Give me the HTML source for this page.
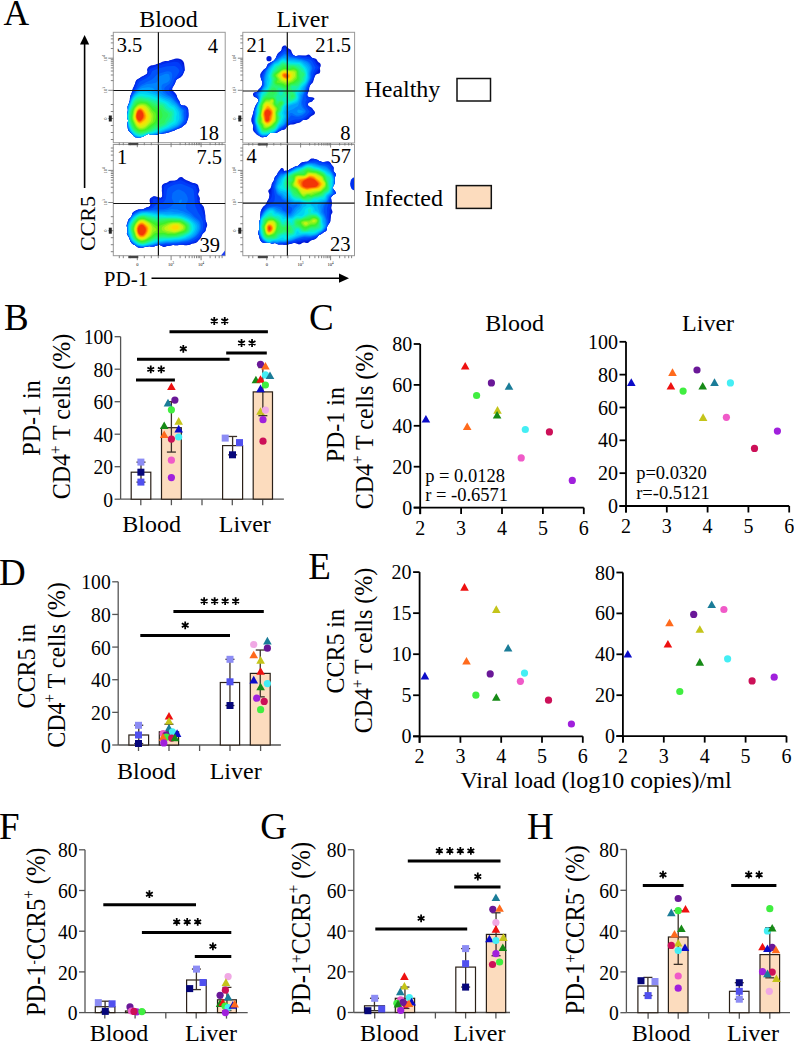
<!DOCTYPE html>
<html><head><meta charset="utf-8"><style>
html,body{margin:0;padding:0;background:#fff;width:794px;height:1045px;overflow:hidden}
svg{display:block}
text{font-family:"Liberation Serif",serif;fill:#000}
</style></head><body>
<svg width="794" height="1045" viewBox="0 0 794 1045" font-family="Liberation Serif">
<rect width="794" height="1045" fill="#fff"/>
<text x="3.4" y="24.7" font-size="35.5" text-anchor="start">A</text>
<text x="4.0" y="330.1" font-size="37" text-anchor="start">B</text>
<text x="309.0" y="330.0" font-size="37" text-anchor="start">C</text>
<text x="-1.0" y="585.2" font-size="37" text-anchor="start">D</text>
<text x="308.3" y="579.0" font-size="37" text-anchor="start">E</text>
<text x="-1.0" y="838.7" font-size="37" text-anchor="start">F</text>
<text x="260.3" y="838.8" font-size="37" text-anchor="start">G</text>
<text x="527.1" y="839.0" font-size="37" text-anchor="start">H</text>
<line x1="420.20" y1="344.00" x2="420.20" y2="514.10" stroke="#000" stroke-width="1.8"/>
<line x1="413.70" y1="507.60" x2="583.80" y2="507.60" stroke="#000" stroke-width="1.8"/>
<line x1="413.70" y1="507.60" x2="420.20" y2="507.60" stroke="#000" stroke-width="1.8"/>
<text x="412.2" y="514.6" font-size="20" text-anchor="end">0</text>
<line x1="413.70" y1="466.70" x2="420.20" y2="466.70" stroke="#000" stroke-width="1.8"/>
<text x="412.2" y="473.7" font-size="20" text-anchor="end">20</text>
<line x1="413.70" y1="425.80" x2="420.20" y2="425.80" stroke="#000" stroke-width="1.8"/>
<text x="412.2" y="432.8" font-size="20" text-anchor="end">40</text>
<line x1="413.70" y1="384.90" x2="420.20" y2="384.90" stroke="#000" stroke-width="1.8"/>
<text x="412.2" y="391.9" font-size="20" text-anchor="end">60</text>
<line x1="413.70" y1="344.00" x2="420.20" y2="344.00" stroke="#000" stroke-width="1.8"/>
<text x="412.2" y="351.0" font-size="20" text-anchor="end">80</text>
<line x1="420.20" y1="507.60" x2="420.20" y2="514.10" stroke="#000" stroke-width="1.8"/>
<text x="420.2" y="534.6" font-size="20" text-anchor="middle">2</text>
<line x1="461.10" y1="507.60" x2="461.10" y2="514.10" stroke="#000" stroke-width="1.8"/>
<text x="461.1" y="534.6" font-size="20" text-anchor="middle">3</text>
<line x1="502.00" y1="507.60" x2="502.00" y2="514.10" stroke="#000" stroke-width="1.8"/>
<text x="502.0" y="534.6" font-size="20" text-anchor="middle">4</text>
<line x1="542.90" y1="507.60" x2="542.90" y2="514.10" stroke="#000" stroke-width="1.8"/>
<text x="542.9" y="534.6" font-size="20" text-anchor="middle">5</text>
<line x1="583.80" y1="507.60" x2="583.80" y2="514.10" stroke="#000" stroke-width="1.8"/>
<text x="583.8" y="534.6" font-size="20" text-anchor="middle">6</text>
<path d="M425.9,414.9 L430.2,422.5 L421.6,422.5Z" fill="#0b0bc8"/>
<path d="M465.2,361.9 L469.5,369.5 L460.9,369.5Z" fill="#ee1010"/>
<path d="M467.2,422.5 L471.5,430.1 L462.9,430.1Z" fill="#ff6a1c"/>
<circle cx="476.6" cy="395.5" r="3.60" fill="#40ee40"/>
<circle cx="491.4" cy="382.9" r="3.60" fill="#6a1898"/>
<path d="M497.5,406.1 L501.8,413.7 L493.2,413.7Z" fill="#c4c41a"/>
<path d="M497.1,411.0 L501.4,418.6 L492.8,418.6Z" fill="#168a16"/>
<path d="M509.0,382.2 L513.3,389.8 L504.7,389.8Z" fill="#1a7c98"/>
<circle cx="525.3" cy="429.5" r="3.60" fill="#44eef4"/>
<circle cx="549.4" cy="431.9" r="3.60" fill="#cc1058"/>
<circle cx="521.2" cy="457.9" r="3.60" fill="#f05ac8"/>
<circle cx="572.3" cy="480.4" r="3.60" fill="#a020dc"/>
<text x="514.7" y="330.8" font-size="24" text-anchor="middle">Blood</text>
<text x="425.2" y="482.4" font-size="18.5" text-anchor="start">p = 0.0128</text>
<text x="425.2" y="501.3" font-size="18.5" text-anchor="start">r = -0.6571</text>
<line x1="626.00" y1="341.80" x2="626.00" y2="512.50" stroke="#000" stroke-width="1.8"/>
<line x1="619.50" y1="506.00" x2="789.20" y2="506.00" stroke="#000" stroke-width="1.8"/>
<line x1="619.50" y1="506.00" x2="626.00" y2="506.00" stroke="#000" stroke-width="1.8"/>
<text x="618.0" y="513.0" font-size="20" text-anchor="end">0</text>
<line x1="619.50" y1="473.16" x2="626.00" y2="473.16" stroke="#000" stroke-width="1.8"/>
<text x="618.0" y="480.2" font-size="20" text-anchor="end">20</text>
<line x1="619.50" y1="440.32" x2="626.00" y2="440.32" stroke="#000" stroke-width="1.8"/>
<text x="618.0" y="447.3" font-size="20" text-anchor="end">40</text>
<line x1="619.50" y1="407.48" x2="626.00" y2="407.48" stroke="#000" stroke-width="1.8"/>
<text x="618.0" y="414.5" font-size="20" text-anchor="end">60</text>
<line x1="619.50" y1="374.64" x2="626.00" y2="374.64" stroke="#000" stroke-width="1.8"/>
<text x="618.0" y="381.6" font-size="20" text-anchor="end">80</text>
<line x1="619.50" y1="341.80" x2="626.00" y2="341.80" stroke="#000" stroke-width="1.8"/>
<text x="618.0" y="348.8" font-size="20" text-anchor="end">100</text>
<line x1="626.00" y1="506.00" x2="626.00" y2="512.50" stroke="#000" stroke-width="1.8"/>
<text x="626.0" y="533.0" font-size="20" text-anchor="middle">2</text>
<line x1="666.80" y1="506.00" x2="666.80" y2="512.50" stroke="#000" stroke-width="1.8"/>
<text x="666.8" y="533.0" font-size="20" text-anchor="middle">3</text>
<line x1="707.60" y1="506.00" x2="707.60" y2="512.50" stroke="#000" stroke-width="1.8"/>
<text x="707.6" y="533.0" font-size="20" text-anchor="middle">4</text>
<line x1="748.40" y1="506.00" x2="748.40" y2="512.50" stroke="#000" stroke-width="1.8"/>
<text x="748.4" y="533.0" font-size="20" text-anchor="middle">5</text>
<line x1="789.20" y1="506.00" x2="789.20" y2="512.50" stroke="#000" stroke-width="1.8"/>
<text x="789.2" y="533.0" font-size="20" text-anchor="middle">6</text>
<path d="M631.3,378.3 L635.6,385.9 L627.0,385.9Z" fill="#0b0bc8"/>
<path d="M672.5,368.3 L676.8,375.9 L668.2,375.9Z" fill="#ff6a1c"/>
<path d="M670.9,381.9 L675.2,389.5 L666.6,389.5Z" fill="#ee1010"/>
<circle cx="683.1" cy="391.1" r="3.60" fill="#40ee40"/>
<circle cx="697.0" cy="370.0" r="3.60" fill="#6a1898"/>
<path d="M702.7,381.9 L707.0,389.5 L698.4,389.5Z" fill="#168a16"/>
<path d="M714.5,378.3 L718.8,385.9 L710.2,385.9Z" fill="#1a7c98"/>
<circle cx="730.4" cy="382.9" r="3.60" fill="#44eef4"/>
<path d="M703.1,413.3 L707.4,420.9 L698.8,420.9Z" fill="#c4c41a"/>
<circle cx="726.4" cy="417.3" r="3.60" fill="#f05ac8"/>
<circle cx="754.5" cy="448.4" r="3.60" fill="#cc1058"/>
<circle cx="777.4" cy="431.1" r="3.60" fill="#a020dc"/>
<text x="708.1" y="330.8" font-size="24" text-anchor="middle">Liver</text>
<text x="636.2" y="479.0" font-size="18.5" text-anchor="start">p=0.0320</text>
<text x="636.2" y="498.6" font-size="18.5" text-anchor="start">r=-0.5121</text>
<line x1="419.60" y1="572.10" x2="419.60" y2="742.80" stroke="#000" stroke-width="1.8"/>
<line x1="413.10" y1="736.30" x2="582.80" y2="736.30" stroke="#000" stroke-width="1.8"/>
<line x1="413.10" y1="736.30" x2="419.60" y2="736.30" stroke="#000" stroke-width="1.8"/>
<text x="411.6" y="743.3" font-size="20" text-anchor="end">0</text>
<line x1="413.10" y1="695.25" x2="419.60" y2="695.25" stroke="#000" stroke-width="1.8"/>
<text x="411.6" y="702.2" font-size="20" text-anchor="end">5</text>
<line x1="413.10" y1="654.20" x2="419.60" y2="654.20" stroke="#000" stroke-width="1.8"/>
<text x="411.6" y="661.2" font-size="20" text-anchor="end">10</text>
<line x1="413.10" y1="613.15" x2="419.60" y2="613.15" stroke="#000" stroke-width="1.8"/>
<text x="411.6" y="620.1" font-size="20" text-anchor="end">15</text>
<line x1="413.10" y1="572.10" x2="419.60" y2="572.10" stroke="#000" stroke-width="1.8"/>
<text x="411.6" y="579.1" font-size="20" text-anchor="end">20</text>
<line x1="419.60" y1="736.30" x2="419.60" y2="742.80" stroke="#000" stroke-width="1.8"/>
<text x="419.6" y="763.3" font-size="20" text-anchor="middle">2</text>
<line x1="460.40" y1="736.30" x2="460.40" y2="742.80" stroke="#000" stroke-width="1.8"/>
<text x="460.4" y="763.3" font-size="20" text-anchor="middle">3</text>
<line x1="501.20" y1="736.30" x2="501.20" y2="742.80" stroke="#000" stroke-width="1.8"/>
<text x="501.2" y="763.3" font-size="20" text-anchor="middle">4</text>
<line x1="542.00" y1="736.30" x2="542.00" y2="742.80" stroke="#000" stroke-width="1.8"/>
<text x="542.0" y="763.3" font-size="20" text-anchor="middle">5</text>
<line x1="582.80" y1="736.30" x2="582.80" y2="742.80" stroke="#000" stroke-width="1.8"/>
<text x="582.8" y="763.3" font-size="20" text-anchor="middle">6</text>
<path d="M424.9,671.8 L429.2,679.4 L420.6,679.4Z" fill="#0b0bc8"/>
<path d="M464.5,583.1 L468.8,590.7 L460.2,590.7Z" fill="#ee1010"/>
<path d="M466.5,657.0 L470.8,664.6 L462.2,664.6Z" fill="#ff6a1c"/>
<path d="M496.3,605.3 L500.6,612.9 L492.0,612.9Z" fill="#c4c41a"/>
<path d="M508.1,643.9 L512.4,651.5 L503.8,651.5Z" fill="#1a7c98"/>
<circle cx="490.2" cy="673.9" r="3.60" fill="#6a1898"/>
<circle cx="524.5" cy="673.1" r="3.60" fill="#44eef4"/>
<circle cx="520.4" cy="681.3" r="3.60" fill="#f05ac8"/>
<circle cx="475.9" cy="695.2" r="3.60" fill="#40ee40"/>
<path d="M496.3,693.2 L500.6,700.8 L492.0,700.8Z" fill="#168a16"/>
<circle cx="548.5" cy="700.2" r="3.60" fill="#cc1058"/>
<circle cx="571.4" cy="724.0" r="3.60" fill="#a020dc"/>
<line x1="622.90" y1="572.50" x2="622.90" y2="742.60" stroke="#000" stroke-width="1.8"/>
<line x1="616.40" y1="736.10" x2="786.50" y2="736.10" stroke="#000" stroke-width="1.8"/>
<line x1="616.40" y1="736.10" x2="622.90" y2="736.10" stroke="#000" stroke-width="1.8"/>
<text x="614.9" y="743.1" font-size="20" text-anchor="end">0</text>
<line x1="616.40" y1="695.20" x2="622.90" y2="695.20" stroke="#000" stroke-width="1.8"/>
<text x="614.9" y="702.2" font-size="20" text-anchor="end">20</text>
<line x1="616.40" y1="654.30" x2="622.90" y2="654.30" stroke="#000" stroke-width="1.8"/>
<text x="614.9" y="661.3" font-size="20" text-anchor="end">40</text>
<line x1="616.40" y1="613.40" x2="622.90" y2="613.40" stroke="#000" stroke-width="1.8"/>
<text x="614.9" y="620.4" font-size="20" text-anchor="end">60</text>
<line x1="616.40" y1="572.50" x2="622.90" y2="572.50" stroke="#000" stroke-width="1.8"/>
<text x="614.9" y="579.5" font-size="20" text-anchor="end">80</text>
<line x1="622.90" y1="736.10" x2="622.90" y2="742.60" stroke="#000" stroke-width="1.8"/>
<text x="622.9" y="763.1" font-size="20" text-anchor="middle">2</text>
<line x1="663.80" y1="736.10" x2="663.80" y2="742.60" stroke="#000" stroke-width="1.8"/>
<text x="663.8" y="763.1" font-size="20" text-anchor="middle">3</text>
<line x1="704.70" y1="736.10" x2="704.70" y2="742.60" stroke="#000" stroke-width="1.8"/>
<text x="704.7" y="763.1" font-size="20" text-anchor="middle">4</text>
<line x1="745.60" y1="736.10" x2="745.60" y2="742.60" stroke="#000" stroke-width="1.8"/>
<text x="745.6" y="763.1" font-size="20" text-anchor="middle">5</text>
<line x1="786.50" y1="736.10" x2="786.50" y2="742.60" stroke="#000" stroke-width="1.8"/>
<text x="786.5" y="763.1" font-size="20" text-anchor="middle">6</text>
<path d="M627.8,649.9 L632.1,657.5 L623.5,657.5Z" fill="#0b0bc8"/>
<path d="M669.5,618.7 L673.8,626.3 L665.2,626.3Z" fill="#ff6a1c"/>
<path d="M667.9,639.9 L672.2,647.5 L663.6,647.5Z" fill="#ee1010"/>
<circle cx="679.8" cy="691.5" r="3.60" fill="#40ee40"/>
<circle cx="693.7" cy="614.4" r="3.60" fill="#6a1898"/>
<path d="M699.8,625.2 L704.1,632.8 L695.5,632.8Z" fill="#c4c41a"/>
<path d="M699.8,658.1 L704.1,665.7 L695.5,665.7Z" fill="#168a16"/>
<path d="M711.7,600.5 L716.0,608.1 L707.4,608.1Z" fill="#1a7c98"/>
<circle cx="723.9" cy="609.5" r="3.60" fill="#f05ac8"/>
<circle cx="727.6" cy="658.8" r="3.60" fill="#44eef4"/>
<circle cx="752.1" cy="680.9" r="3.60" fill="#cc1058"/>
<circle cx="774.2" cy="677.2" r="3.60" fill="#a020dc"/>
<text x="596.0" y="788.3" font-size="24" text-anchor="middle">Viral load (log10 copies)/ml</text>
<text x="0" y="0" font-size="24" text-anchor="middle" transform="translate(40.20 418.00) rotate(-90) scale(1 1.06)">PD-1 in</text>
<text x="0" y="0" font-size="24" text-anchor="middle" transform="translate(70.20 416.50) rotate(-90) scale(1 1.06)">CD4<tspan font-size="15" dy="-9">+</tspan><tspan dy="9"> T cells (%)</tspan></text>
<text x="0" y="0" font-size="24" text-anchor="middle" transform="translate(344.20 424.70) rotate(-90) scale(1 1.06)">PD-1 in</text>
<text x="0" y="0" font-size="24" text-anchor="middle" transform="translate(372.80 426.50) rotate(-90) scale(1 1.06)">CD4<tspan font-size="15" dy="-9">+</tspan><tspan dy="9"> T cells (%)</tspan></text>
<text x="0" y="0" font-size="24" text-anchor="middle" transform="translate(35.40 666.30) rotate(-90) scale(1 1.06)">CCR5 in</text>
<text x="0" y="0" font-size="24" text-anchor="middle" transform="translate(64.80 665.00) rotate(-90) scale(1 1.06)">CD4<tspan font-size="15" dy="-9">+</tspan><tspan dy="9"> T cells (%)</tspan></text>
<text x="0" y="0" font-size="24" text-anchor="middle" transform="translate(344.00 651.30) rotate(-90) scale(1 1.06)">CCR5 in</text>
<text x="0" y="0" font-size="24" text-anchor="middle" transform="translate(372.40 650.50) rotate(-90) scale(1 1.06)">CD4<tspan font-size="15" dy="-9">+</tspan><tspan dy="9"> T cells (%)</tspan></text>
<text x="0" y="0" font-size="24.5" text-anchor="middle" transform="translate(44.50 931.80) rotate(-90) scale(1 1.13)">PD-1<tspan font-size="13" dy="-6">-</tspan><tspan dy="6">CCR5<tspan font-size="15" dy="-9">+</tspan><tspan dy="9"> (%)</tspan></tspan></text>
<text x="0" y="0" font-size="24.5" text-anchor="middle" transform="translate(309.50 928.30) rotate(-90) scale(1 1.13)">PD-1<tspan font-size="15" dy="-7">+</tspan><tspan dy="7">CCR5<tspan font-size="15" dy="-9">+</tspan><tspan dy="9"> (%)</tspan></tspan></text>
<text x="0" y="0" font-size="24.5" text-anchor="middle" transform="translate(583.50 929.80) rotate(-90) scale(1 1.13)">PD-1<tspan font-size="15" dy="-7">+</tspan><tspan dy="7">CCR5<tspan font-size="15" dy="-9">-</tspan><tspan dy="9"> (%)</tspan></tspan></text>
<line x1="120.60" y1="336.70" x2="120.60" y2="499.20" stroke="#555" stroke-width="1.3"/>
<line x1="114.60" y1="499.20" x2="120.60" y2="499.20" stroke="#555" stroke-width="1.3"/>
<text x="0" y="0" font-size="19.6" text-anchor="end" transform="translate(113.10 506.80) scale(1 1.1)">0</text>
<line x1="114.60" y1="466.70" x2="120.60" y2="466.70" stroke="#555" stroke-width="1.3"/>
<text x="0" y="0" font-size="19.6" text-anchor="end" transform="translate(113.10 474.30) scale(1 1.1)">20</text>
<line x1="114.60" y1="434.20" x2="120.60" y2="434.20" stroke="#555" stroke-width="1.3"/>
<text x="0" y="0" font-size="19.6" text-anchor="end" transform="translate(113.10 441.80) scale(1 1.1)">40</text>
<line x1="114.60" y1="401.70" x2="120.60" y2="401.70" stroke="#555" stroke-width="1.3"/>
<text x="0" y="0" font-size="19.6" text-anchor="end" transform="translate(113.10 409.30) scale(1 1.1)">60</text>
<line x1="114.60" y1="369.20" x2="120.60" y2="369.20" stroke="#555" stroke-width="1.3"/>
<text x="0" y="0" font-size="19.6" text-anchor="end" transform="translate(113.10 376.80) scale(1 1.1)">80</text>
<line x1="114.60" y1="336.70" x2="120.60" y2="336.70" stroke="#555" stroke-width="1.3"/>
<text x="0" y="0" font-size="19.6" text-anchor="end" transform="translate(113.10 344.30) scale(1 1.1)">100</text>
<line x1="120.60" y1="499.20" x2="283.90" y2="499.20" stroke="#555" stroke-width="1.3"/>
<line x1="140.80" y1="499.20" x2="140.80" y2="505.20" stroke="#555" stroke-width="1.3"/>
<line x1="171.40" y1="499.20" x2="171.40" y2="505.20" stroke="#555" stroke-width="1.3"/>
<line x1="202.00" y1="499.20" x2="202.00" y2="505.20" stroke="#555" stroke-width="1.3"/>
<line x1="232.30" y1="499.20" x2="232.30" y2="505.20" stroke="#555" stroke-width="1.3"/>
<line x1="262.70" y1="499.20" x2="262.70" y2="505.20" stroke="#555" stroke-width="1.3"/>
<rect x="131.2" y="472.2" width="19.6" height="27.0" fill="#ffffff" stroke="#2a2018" stroke-width="1.2"/>
<rect x="161.5" y="427.7" width="19.8" height="71.5" fill="#fcdcbe" stroke="#2a2018" stroke-width="1.2"/>
<rect x="222.6" y="445.6" width="20.0" height="53.6" fill="#ffffff" stroke="#2a2018" stroke-width="1.2"/>
<rect x="253.2" y="391.9" width="19.3" height="107.2" fill="#fcdcbe" stroke="#2a2018" stroke-width="1.2"/>
<line x1="141.00" y1="462.15" x2="141.00" y2="482.14" stroke="#3a3028" stroke-width="1.3"/>
<line x1="136.50" y1="462.15" x2="145.50" y2="462.15" stroke="#3a3028" stroke-width="1.3"/>
<line x1="136.50" y1="482.14" x2="145.50" y2="482.14" stroke="#3a3028" stroke-width="1.3"/>
<rect x="137.4" y="458.6" width="7.0" height="7.0" fill="#8c8cf4"/>
<rect x="137.4" y="468.7" width="7.0" height="7.0" fill="#06067a"/>
<rect x="137.4" y="478.6" width="7.0" height="7.0" fill="#5050ee"/>
<line x1="171.40" y1="401.70" x2="171.40" y2="452.07" stroke="#3a3028" stroke-width="1.3"/>
<line x1="166.90" y1="401.70" x2="175.90" y2="401.70" stroke="#3a3028" stroke-width="1.3"/>
<line x1="166.90" y1="452.07" x2="175.90" y2="452.07" stroke="#3a3028" stroke-width="1.3"/>
<path d="M171.4,382.5 L175.7,390.1 L167.1,390.1Z" fill="#ee1010"/>
<circle cx="174.9" cy="400.1" r="3.60" fill="#6a1898"/>
<path d="M168.0,398.8 L172.3,406.4 L163.7,406.4Z" fill="#1a7c98"/>
<circle cx="171.4" cy="409.8" r="3.60" fill="#40ee40"/>
<path d="M178.7,417.1 L183.0,424.7 L174.4,424.7Z" fill="#c4c41a"/>
<path d="M164.2,421.5 L168.5,429.1 L159.9,429.1Z" fill="#168a16"/>
<path d="M178.7,424.8 L183.0,432.4 L174.4,432.4Z" fill="#0b0bc8"/>
<path d="M164.2,430.5 L168.5,438.1 L159.9,438.1Z" fill="#ff6a1c"/>
<circle cx="178.7" cy="437.0" r="3.60" fill="#44eef4"/>
<circle cx="171.4" cy="439.1" r="3.60" fill="#cc1058"/>
<circle cx="171.4" cy="460.2" r="3.60" fill="#f05ac8"/>
<circle cx="171.4" cy="477.6" r="3.60" fill="#a020dc"/>
<line x1="232.60" y1="436.47" x2="232.60" y2="454.84" stroke="#3a3028" stroke-width="1.3"/>
<line x1="228.10" y1="436.47" x2="237.10" y2="436.47" stroke="#3a3028" stroke-width="1.3"/>
<line x1="228.10" y1="454.84" x2="237.10" y2="454.84" stroke="#3a3028" stroke-width="1.3"/>
<rect x="221.7" y="434.6" width="7.0" height="7.0" fill="#8c8cf4"/>
<rect x="236.0" y="439.1" width="7.0" height="7.0" fill="#5050ee"/>
<rect x="229.0" y="451.3" width="7.0" height="7.0" fill="#06067a"/>
<line x1="262.85" y1="367.57" x2="262.85" y2="415.68" stroke="#3a3028" stroke-width="1.3"/>
<line x1="258.35" y1="367.57" x2="267.35" y2="367.57" stroke="#3a3028" stroke-width="1.3"/>
<line x1="258.35" y1="415.68" x2="267.35" y2="415.68" stroke="#3a3028" stroke-width="1.3"/>
<circle cx="260.5" cy="364.3" r="3.60" fill="#6a1898"/>
<path d="M265.4,362.0 L269.7,369.6 L261.1,369.6Z" fill="#ff6a1c"/>
<circle cx="265.4" cy="374.9" r="3.60" fill="#44eef4"/>
<path d="M270.0,371.5 L274.3,379.1 L265.7,379.1Z" fill="#1a7c98"/>
<path d="M255.9,375.7 L260.2,383.3 L251.6,383.3Z" fill="#168a16"/>
<path d="M260.5,375.2 L264.8,382.8 L256.2,382.8Z" fill="#ee1010"/>
<circle cx="265.4" cy="385.0" r="3.60" fill="#40ee40"/>
<path d="M260.5,384.6 L264.8,392.2 L256.2,392.2Z" fill="#0b0bc8"/>
<path d="M260.5,407.2 L264.8,414.8 L256.2,414.8Z" fill="#c4c41a"/>
<circle cx="265.4" cy="410.1" r="3.60" fill="#f0a8e4"/>
<circle cx="263.0" cy="419.7" r="3.60" fill="#a020dc"/>
<circle cx="263.0" cy="441.2" r="3.60" fill="#cc1058"/>
<line x1="136.00" y1="379.90" x2="174.90" y2="379.90" stroke="#000" stroke-width="3"/>
<path d="M150.75,365.50L150.75,373.30M147.37,367.45L154.13,371.35M154.13,367.45L147.37,371.35M161.25,365.50L161.25,373.30M157.87,367.45L164.63,371.35M164.63,367.45L157.87,371.35" stroke="#000" stroke-width="1.75" fill="none"/>
<line x1="137.00" y1="359.20" x2="229.60" y2="359.20" stroke="#000" stroke-width="3"/>
<path d="M183.30,344.90L183.30,352.70M179.92,346.85L186.68,350.75M186.68,346.85L179.92,350.75" stroke="#000" stroke-width="1.75" fill="none"/>
<line x1="226.20" y1="353.00" x2="266.80" y2="353.00" stroke="#000" stroke-width="3"/>
<path d="M241.55,339.10L241.55,346.90M238.17,341.05L244.93,344.95M244.93,341.05L238.17,344.95M252.05,339.10L252.05,346.90M248.67,341.05L255.43,344.95M255.43,341.05L248.67,344.95" stroke="#000" stroke-width="1.75" fill="none"/>
<line x1="169.50" y1="331.80" x2="267.90" y2="331.80" stroke="#000" stroke-width="3"/>
<path d="M214.25,317.10L214.25,324.90M210.87,319.05L217.63,322.95M217.63,319.05L210.87,322.95M224.75,317.10L224.75,324.90M221.37,319.05L228.13,322.95M228.13,319.05L221.37,322.95" stroke="#000" stroke-width="1.75" fill="none"/>
<text x="151.6" y="532.3" font-size="24" text-anchor="middle">Blood</text>
<text x="244.8" y="532.3" font-size="24" text-anchor="middle">Liver</text>
<line x1="118.20" y1="581.80" x2="118.20" y2="745.00" stroke="#555" stroke-width="1.3"/>
<line x1="112.20" y1="745.00" x2="118.20" y2="745.00" stroke="#555" stroke-width="1.3"/>
<text x="0" y="0" font-size="19.6" text-anchor="end" transform="translate(110.70 752.60) scale(1 1.1)">0</text>
<line x1="112.20" y1="712.36" x2="118.20" y2="712.36" stroke="#555" stroke-width="1.3"/>
<text x="0" y="0" font-size="19.6" text-anchor="end" transform="translate(110.70 719.96) scale(1 1.1)">20</text>
<line x1="112.20" y1="679.72" x2="118.20" y2="679.72" stroke="#555" stroke-width="1.3"/>
<text x="0" y="0" font-size="19.6" text-anchor="end" transform="translate(110.70 687.32) scale(1 1.1)">40</text>
<line x1="112.20" y1="647.08" x2="118.20" y2="647.08" stroke="#555" stroke-width="1.3"/>
<text x="0" y="0" font-size="19.6" text-anchor="end" transform="translate(110.70 654.68) scale(1 1.1)">60</text>
<line x1="112.20" y1="614.44" x2="118.20" y2="614.44" stroke="#555" stroke-width="1.3"/>
<text x="0" y="0" font-size="19.6" text-anchor="end" transform="translate(110.70 622.04) scale(1 1.1)">80</text>
<line x1="112.20" y1="581.80" x2="118.20" y2="581.80" stroke="#555" stroke-width="1.3"/>
<text x="0" y="0" font-size="19.6" text-anchor="end" transform="translate(110.70 589.40) scale(1 1.1)">100</text>
<line x1="118.20" y1="745.00" x2="280.90" y2="745.00" stroke="#555" stroke-width="1.3"/>
<line x1="138.50" y1="745.00" x2="138.50" y2="751.00" stroke="#555" stroke-width="1.3"/>
<line x1="169.00" y1="745.00" x2="169.00" y2="751.00" stroke="#555" stroke-width="1.3"/>
<line x1="199.60" y1="745.00" x2="199.60" y2="751.00" stroke="#555" stroke-width="1.3"/>
<line x1="230.00" y1="745.00" x2="230.00" y2="751.00" stroke="#555" stroke-width="1.3"/>
<line x1="260.60" y1="745.00" x2="260.60" y2="751.00" stroke="#555" stroke-width="1.3"/>
<rect x="128.9" y="735.0" width="19.7" height="10.0" fill="#ffffff" stroke="#2a2018" stroke-width="1.2"/>
<rect x="159.3" y="731.8" width="19.3" height="13.2" fill="#fcdcbe" stroke="#2a2018" stroke-width="1.2"/>
<rect x="220.3" y="682.5" width="19.3" height="62.5" fill="#ffffff" stroke="#2a2018" stroke-width="1.2"/>
<rect x="250.3" y="673.4" width="19.9" height="71.6" fill="#fcdcbe" stroke="#2a2018" stroke-width="1.2"/>
<line x1="138.75" y1="725.25" x2="138.75" y2="743.53" stroke="#3a3028" stroke-width="1.3"/>
<line x1="134.25" y1="725.25" x2="143.25" y2="725.25" stroke="#3a3028" stroke-width="1.3"/>
<line x1="134.25" y1="743.53" x2="143.25" y2="743.53" stroke="#3a3028" stroke-width="1.3"/>
<rect x="135.0" y="721.8" width="7.0" height="7.0" fill="#8c8cf4"/>
<rect x="135.0" y="731.5" width="7.0" height="7.0" fill="#5050ee"/>
<rect x="135.0" y="740.0" width="7.0" height="7.0" fill="#06067a"/>
<line x1="168.95" y1="724.27" x2="168.95" y2="739.29" stroke="#3a3028" stroke-width="1.3"/>
<line x1="164.45" y1="724.27" x2="173.45" y2="724.27" stroke="#3a3028" stroke-width="1.3"/>
<line x1="164.45" y1="739.29" x2="173.45" y2="739.29" stroke="#3a3028" stroke-width="1.3"/>
<path d="M169.0,711.9 L173.3,719.5 L164.7,719.5Z" fill="#ee1010"/>
<path d="M169.0,716.9 L173.3,724.5 L164.7,724.5Z" fill="#c4c41a"/>
<path d="M169.0,724.0 L173.3,731.6 L164.7,731.6Z" fill="#1a7c98"/>
<circle cx="163.2" cy="733.6" r="3.60" fill="#f05ac8"/>
<circle cx="172.4" cy="731.8" r="3.60" fill="#44eef4"/>
<path d="M177.1,729.3 L181.4,736.9 L172.8,736.9Z" fill="#0b0bc8"/>
<circle cx="166.0" cy="735.2" r="3.60" fill="#6a1898"/>
<circle cx="166.4" cy="737.2" r="3.60" fill="#40ee40"/>
<circle cx="171.7" cy="738.1" r="3.60" fill="#cc1058"/>
<path d="M175.0,733.6 L179.3,741.2 L170.7,741.2Z" fill="#168a16"/>
<path d="M163.0,733.1 L167.3,740.7 L158.7,740.7Z" fill="#ff6a1c"/>
<circle cx="163.8" cy="742.9" r="3.60" fill="#a020dc"/>
<line x1="229.95" y1="659.32" x2="229.95" y2="705.51" stroke="#3a3028" stroke-width="1.3"/>
<line x1="225.45" y1="659.32" x2="234.45" y2="659.32" stroke="#3a3028" stroke-width="1.3"/>
<line x1="225.45" y1="705.51" x2="234.45" y2="705.51" stroke="#3a3028" stroke-width="1.3"/>
<rect x="226.5" y="655.8" width="7.0" height="7.0" fill="#8c8cf4"/>
<rect x="226.5" y="678.3" width="7.0" height="7.0" fill="#5050ee"/>
<rect x="226.5" y="702.0" width="7.0" height="7.0" fill="#06067a"/>
<line x1="260.25" y1="650.02" x2="260.25" y2="696.86" stroke="#3a3028" stroke-width="1.3"/>
<line x1="255.75" y1="650.02" x2="264.75" y2="650.02" stroke="#3a3028" stroke-width="1.3"/>
<line x1="255.75" y1="696.86" x2="264.75" y2="696.86" stroke="#3a3028" stroke-width="1.3"/>
<circle cx="253.7" cy="644.5" r="3.60" fill="#f0a8e4"/>
<path d="M267.4,636.8 L271.7,644.4 L263.1,644.4Z" fill="#1a7c98"/>
<circle cx="267.4" cy="648.2" r="3.60" fill="#6a1898"/>
<path d="M253.7,650.7 L258.0,658.3 L249.4,658.3Z" fill="#ff6a1c"/>
<path d="M260.6,656.1 L264.9,663.7 L256.3,663.7Z" fill="#c4c41a"/>
<path d="M260.6,667.2 L264.9,674.8 L256.3,674.8Z" fill="#ee1010"/>
<path d="M253.7,675.8 L258.0,683.4 L249.4,683.4Z" fill="#0b0bc8"/>
<circle cx="267.4" cy="683.6" r="3.60" fill="#44eef4"/>
<path d="M260.6,682.7 L264.9,690.3 L256.3,690.3Z" fill="#168a16"/>
<circle cx="256.7" cy="698.2" r="3.60" fill="#a020dc"/>
<circle cx="264.2" cy="701.4" r="3.60" fill="#cc1058"/>
<circle cx="260.6" cy="709.7" r="3.60" fill="#40ee40"/>
<line x1="140.30" y1="635.40" x2="230.00" y2="635.40" stroke="#000" stroke-width="3"/>
<path d="M185.20,621.40L185.20,629.20M181.82,623.35L188.58,627.25M188.58,623.35L181.82,627.25" stroke="#000" stroke-width="1.75" fill="none"/>
<line x1="173.40" y1="611.40" x2="263.80" y2="611.40" stroke="#000" stroke-width="3"/>
<path d="M204.15,597.20L204.15,605.00M200.77,599.15L207.53,603.05M207.53,599.15L200.77,603.05M214.65,597.20L214.65,605.00M211.27,599.15L218.03,603.05M218.03,599.15L211.27,603.05M225.15,597.20L225.15,605.00M221.77,599.15L228.53,603.05M228.53,599.15L221.77,603.05M235.65,597.20L235.65,605.00M232.27,599.15L239.03,603.05M239.03,599.15L232.27,603.05" stroke="#000" stroke-width="1.75" fill="none"/>
<text x="146.3" y="779.3" font-size="24" text-anchor="middle">Blood</text>
<text x="235.7" y="779.3" font-size="24" text-anchor="middle">Liver</text>
<line x1="85.00" y1="849.80" x2="85.00" y2="1012.60" stroke="#555" stroke-width="1.3"/>
<line x1="79.00" y1="1012.60" x2="85.00" y2="1012.60" stroke="#555" stroke-width="1.3"/>
<text x="0" y="0" font-size="19.6" text-anchor="end" transform="translate(77.50 1020.20) scale(1 1.1)">0</text>
<line x1="79.00" y1="971.90" x2="85.00" y2="971.90" stroke="#555" stroke-width="1.3"/>
<text x="0" y="0" font-size="19.6" text-anchor="end" transform="translate(77.50 979.50) scale(1 1.1)">20</text>
<line x1="79.00" y1="931.20" x2="85.00" y2="931.20" stroke="#555" stroke-width="1.3"/>
<text x="0" y="0" font-size="19.6" text-anchor="end" transform="translate(77.50 938.80) scale(1 1.1)">40</text>
<line x1="79.00" y1="890.50" x2="85.00" y2="890.50" stroke="#555" stroke-width="1.3"/>
<text x="0" y="0" font-size="19.6" text-anchor="end" transform="translate(77.50 898.10) scale(1 1.1)">60</text>
<line x1="79.00" y1="849.80" x2="85.00" y2="849.80" stroke="#555" stroke-width="1.3"/>
<text x="0" y="0" font-size="19.6" text-anchor="end" transform="translate(77.50 857.40) scale(1 1.1)">80</text>
<line x1="85.00" y1="1012.60" x2="247.70" y2="1012.60" stroke="#555" stroke-width="1.3"/>
<line x1="104.80" y1="1012.60" x2="104.80" y2="1018.60" stroke="#555" stroke-width="1.3"/>
<line x1="135.10" y1="1012.60" x2="135.10" y2="1018.60" stroke="#555" stroke-width="1.3"/>
<line x1="165.80" y1="1012.60" x2="165.80" y2="1018.60" stroke="#555" stroke-width="1.3"/>
<line x1="196.20" y1="1012.60" x2="196.20" y2="1018.60" stroke="#555" stroke-width="1.3"/>
<line x1="226.50" y1="1012.60" x2="226.50" y2="1018.60" stroke="#555" stroke-width="1.3"/>
<rect x="95.3" y="1006.7" width="19.6" height="5.9" fill="#ffffff" stroke="#2a2018" stroke-width="1.2"/>
<rect x="125.5" y="1011.0" width="19.5" height="1.6" fill="#fcdcbe" stroke="#2a2018" stroke-width="1.2"/>
<rect x="186.6" y="980.0" width="19.6" height="32.6" fill="#ffffff" stroke="#2a2018" stroke-width="1.2"/>
<rect x="217.5" y="999.8" width="18.9" height="12.8" fill="#fcdcbe" stroke="#2a2018" stroke-width="1.2"/>
<line x1="105.10" y1="1001.20" x2="105.10" y2="1011.38" stroke="#3a3028" stroke-width="1.3"/>
<line x1="100.60" y1="1001.20" x2="109.60" y2="1001.20" stroke="#3a3028" stroke-width="1.3"/>
<line x1="100.60" y1="1011.38" x2="109.60" y2="1011.38" stroke="#3a3028" stroke-width="1.3"/>
<rect x="94.8" y="999.1" width="7.0" height="7.0" fill="#8c8cf4"/>
<rect x="108.6" y="1000.3" width="7.0" height="7.0" fill="#5050ee"/>
<rect x="101.8" y="1007.9" width="7.0" height="7.0" fill="#06067a"/>
<circle cx="130.0" cy="1006.9" r="3.60" fill="#6a1898"/>
<circle cx="131.5" cy="1011.0" r="3.60" fill="#f05ac8"/>
<circle cx="136.8" cy="1011.8" r="3.60" fill="#a020dc"/>
<circle cx="141.9" cy="1011.6" r="3.60" fill="#40ee40"/>
<circle cx="134.0" cy="1011.4" r="3.60" fill="#cc1058"/>
<line x1="196.40" y1="969.05" x2="196.40" y2="989.60" stroke="#3a3028" stroke-width="1.3"/>
<line x1="191.90" y1="969.05" x2="200.90" y2="969.05" stroke="#3a3028" stroke-width="1.3"/>
<line x1="191.90" y1="989.60" x2="200.90" y2="989.60" stroke="#3a3028" stroke-width="1.3"/>
<rect x="193.0" y="965.6" width="7.0" height="7.0" fill="#8c8cf4"/>
<rect x="199.5" y="979.0" width="7.0" height="7.0" fill="#5050ee"/>
<rect x="186.2" y="985.1" width="7.0" height="7.0" fill="#06067a"/>
<line x1="226.95" y1="987.37" x2="226.95" y2="1010.57" stroke="#3a3028" stroke-width="1.3"/>
<line x1="222.45" y1="987.37" x2="231.45" y2="987.37" stroke="#3a3028" stroke-width="1.3"/>
<line x1="222.45" y1="1010.57" x2="231.45" y2="1010.57" stroke="#3a3028" stroke-width="1.3"/>
<circle cx="228.1" cy="976.6" r="3.60" fill="#f0a8e4"/>
<path d="M225.9,978.3 L230.2,985.9 L221.6,985.9Z" fill="#c4c41a"/>
<circle cx="225.4" cy="990.2" r="3.60" fill="#cc1058"/>
<circle cx="220.1" cy="995.3" r="3.60" fill="#6a1898"/>
<path d="M228.1,993.0 L232.4,1000.6 L223.8,1000.6Z" fill="#1a7c98"/>
<path d="M220.1,999.3 L224.4,1006.9 L215.8,1006.9Z" fill="#168a16"/>
<path d="M222.8,998.3 L227.1,1005.9 L218.5,1005.9Z" fill="#ee1010"/>
<circle cx="225.0" cy="1006.1" r="3.60" fill="#40ee40"/>
<circle cx="228.1" cy="1007.5" r="3.60" fill="#44eef4"/>
<path d="M232.9,1001.1 L237.2,1008.7 L228.6,1008.7Z" fill="#0b0bc8"/>
<path d="M234.7,999.9 L239.0,1007.5 L230.4,1007.5Z" fill="#ff6a1c"/>
<circle cx="225.4" cy="1012.6" r="3.60" fill="#a020dc"/>
<line x1="103.30" y1="904.80" x2="196.00" y2="904.80" stroke="#000" stroke-width="3"/>
<path d="M149.40,890.30L149.40,898.10M146.02,892.25L152.78,896.15M152.78,892.25L146.02,896.15" stroke="#000" stroke-width="1.75" fill="none"/>
<line x1="141.90" y1="932.50" x2="231.30" y2="932.50" stroke="#000" stroke-width="3"/>
<path d="M176.70,918.00L176.70,925.80M173.32,919.95L180.08,923.85M180.08,919.95L173.32,923.85M187.20,918.00L187.20,925.80M183.82,919.95L190.58,923.85M190.58,919.95L183.82,923.85M197.70,918.00L197.70,925.80M194.32,919.95L201.08,923.85M201.08,919.95L194.32,923.85" stroke="#000" stroke-width="1.75" fill="none"/>
<line x1="194.80" y1="956.40" x2="231.30" y2="956.40" stroke="#000" stroke-width="3"/>
<path d="M212.90,942.50L212.90,950.30M209.52,944.45L216.28,948.35M216.28,944.45L209.52,948.35" stroke="#000" stroke-width="1.75" fill="none"/>
<text x="119.0" y="1040.8" font-size="24" text-anchor="middle">Blood</text>
<text x="210.9" y="1040.8" font-size="24" text-anchor="middle">Liver</text>
<line x1="353.80" y1="849.70" x2="353.80" y2="1012.50" stroke="#555" stroke-width="1.3"/>
<line x1="347.80" y1="1012.50" x2="353.80" y2="1012.50" stroke="#555" stroke-width="1.3"/>
<text x="0" y="0" font-size="19.6" text-anchor="end" transform="translate(346.30 1020.10) scale(1 1.1)">0</text>
<line x1="347.80" y1="971.80" x2="353.80" y2="971.80" stroke="#555" stroke-width="1.3"/>
<text x="0" y="0" font-size="19.6" text-anchor="end" transform="translate(346.30 979.40) scale(1 1.1)">20</text>
<line x1="347.80" y1="931.10" x2="353.80" y2="931.10" stroke="#555" stroke-width="1.3"/>
<text x="0" y="0" font-size="19.6" text-anchor="end" transform="translate(346.30 938.70) scale(1 1.1)">40</text>
<line x1="347.80" y1="890.40" x2="353.80" y2="890.40" stroke="#555" stroke-width="1.3"/>
<text x="0" y="0" font-size="19.6" text-anchor="end" transform="translate(346.30 898.00) scale(1 1.1)">60</text>
<line x1="347.80" y1="849.70" x2="353.80" y2="849.70" stroke="#555" stroke-width="1.3"/>
<text x="0" y="0" font-size="19.6" text-anchor="end" transform="translate(346.30 857.30) scale(1 1.1)">80</text>
<line x1="353.80" y1="1012.50" x2="510.00" y2="1012.50" stroke="#555" stroke-width="1.3"/>
<line x1="374.70" y1="1012.50" x2="374.70" y2="1018.50" stroke="#555" stroke-width="1.3"/>
<line x1="404.80" y1="1012.50" x2="404.80" y2="1018.50" stroke="#555" stroke-width="1.3"/>
<line x1="435.40" y1="1012.50" x2="435.40" y2="1018.50" stroke="#555" stroke-width="1.3"/>
<line x1="465.60" y1="1012.50" x2="465.60" y2="1018.50" stroke="#555" stroke-width="1.3"/>
<line x1="495.90" y1="1012.50" x2="495.90" y2="1018.50" stroke="#555" stroke-width="1.3"/>
<rect x="364.5" y="1005.8" width="19.9" height="6.7" fill="#ffffff" stroke="#2a2018" stroke-width="1.2"/>
<rect x="395.3" y="998.3" width="19.3" height="14.2" fill="#fcdcbe" stroke="#2a2018" stroke-width="1.2"/>
<rect x="455.8" y="967.1" width="19.7" height="45.4" fill="#ffffff" stroke="#2a2018" stroke-width="1.2"/>
<rect x="486.4" y="934.4" width="19.3" height="78.1" fill="#fcdcbe" stroke="#2a2018" stroke-width="1.2"/>
<line x1="374.45" y1="998.25" x2="374.45" y2="1010.67" stroke="#3a3028" stroke-width="1.3"/>
<line x1="369.95" y1="998.25" x2="378.95" y2="998.25" stroke="#3a3028" stroke-width="1.3"/>
<line x1="369.95" y1="1010.67" x2="378.95" y2="1010.67" stroke="#3a3028" stroke-width="1.3"/>
<rect x="371.2" y="994.8" width="7.0" height="7.0" fill="#8c8cf4"/>
<rect x="364.4" y="1007.2" width="7.0" height="7.0" fill="#06067a"/>
<rect x="378.2" y="1005.5" width="7.0" height="7.0" fill="#5050ee"/>
<line x1="404.95" y1="987.06" x2="404.95" y2="1008.43" stroke="#3a3028" stroke-width="1.3"/>
<line x1="400.45" y1="987.06" x2="409.45" y2="987.06" stroke="#3a3028" stroke-width="1.3"/>
<line x1="400.45" y1="1008.43" x2="409.45" y2="1008.43" stroke="#3a3028" stroke-width="1.3"/>
<path d="M404.4,972.3 L408.7,979.9 L400.1,979.9Z" fill="#ee1010"/>
<path d="M404.4,981.9 L408.7,989.5 L400.1,989.5Z" fill="#c4c41a"/>
<path d="M400.3,987.6 L404.6,995.2 L396.0,995.2Z" fill="#1a7c98"/>
<circle cx="400.7" cy="999.9" r="3.60" fill="#f05ac8"/>
<circle cx="409.3" cy="997.6" r="3.60" fill="#44eef4"/>
<circle cx="396.9" cy="1003.3" r="3.60" fill="#40ee40"/>
<circle cx="405.9" cy="1004.6" r="3.60" fill="#cc1058"/>
<path d="M411.6,997.8 L415.9,1005.4 L407.3,1005.4Z" fill="#0b0bc8"/>
<circle cx="403.0" cy="1002.3" r="3.60" fill="#6a1898"/>
<path d="M398.0,999.8 L402.3,1007.4 L393.7,1007.4Z" fill="#168a16"/>
<path d="M409.0,999.4 L413.3,1007.0 L404.7,1007.0Z" fill="#ff6a1c"/>
<circle cx="400.7" cy="1010.3" r="3.60" fill="#a020dc"/>
<line x1="465.65" y1="948.60" x2="465.65" y2="987.06" stroke="#3a3028" stroke-width="1.3"/>
<line x1="461.15" y1="948.60" x2="470.15" y2="948.60" stroke="#3a3028" stroke-width="1.3"/>
<line x1="461.15" y1="987.06" x2="470.15" y2="987.06" stroke="#3a3028" stroke-width="1.3"/>
<rect x="462.1" y="945.1" width="7.0" height="7.0" fill="#8c8cf4"/>
<rect x="462.1" y="960.2" width="7.0" height="7.0" fill="#5050ee"/>
<rect x="462.1" y="983.6" width="7.0" height="7.0" fill="#06067a"/>
<line x1="496.05" y1="912.78" x2="496.05" y2="955.72" stroke="#3a3028" stroke-width="1.3"/>
<line x1="491.55" y1="912.78" x2="500.55" y2="912.78" stroke="#3a3028" stroke-width="1.3"/>
<line x1="491.55" y1="955.72" x2="500.55" y2="955.72" stroke="#3a3028" stroke-width="1.3"/>
<path d="M495.9,893.4 L500.2,901.0 L491.6,901.0Z" fill="#1a7c98"/>
<circle cx="492.8" cy="909.3" r="3.60" fill="#6a1898"/>
<path d="M499.6,904.2 L503.9,911.8 L495.3,911.8Z" fill="#ff6a1c"/>
<circle cx="495.9" cy="922.6" r="3.60" fill="#f0a8e4"/>
<path d="M495.9,925.1 L500.2,932.7 L491.6,932.7Z" fill="#ee1010"/>
<path d="M489.4,934.7 L493.7,942.3 L485.1,942.3Z" fill="#0b0bc8"/>
<circle cx="495.9" cy="940.5" r="3.60" fill="#44eef4"/>
<path d="M503.4,933.3 L507.7,940.9 L499.1,940.9Z" fill="#c4c41a"/>
<path d="M502.8,943.4 L507.1,951.0 L498.5,951.0Z" fill="#168a16"/>
<circle cx="495.9" cy="953.7" r="3.60" fill="#a020dc"/>
<circle cx="492.5" cy="964.5" r="3.60" fill="#cc1058"/>
<circle cx="499.6" cy="962.0" r="3.60" fill="#40ee40"/>
<line x1="407.80" y1="861.10" x2="500.50" y2="861.10" stroke="#000" stroke-width="3"/>
<path d="M439.35,847.00L439.35,854.80M435.97,848.95L442.73,852.85M442.73,848.95L435.97,852.85M449.85,847.00L449.85,854.80M446.47,848.95L453.23,852.85M453.23,848.95L446.47,852.85M460.35,847.00L460.35,854.80M456.97,848.95L463.73,852.85M463.73,848.95L456.97,852.85M470.85,847.00L470.85,854.80M467.47,848.95L474.23,852.85M474.23,848.95L467.47,852.85" stroke="#000" stroke-width="1.75" fill="none"/>
<line x1="454.20" y1="887.10" x2="500.50" y2="887.10" stroke="#000" stroke-width="3"/>
<path d="M477.80,872.60L477.80,880.40M474.42,874.55L481.18,878.45M481.18,874.55L474.42,878.45" stroke="#000" stroke-width="1.75" fill="none"/>
<line x1="375.30" y1="929.10" x2="467.20" y2="929.10" stroke="#000" stroke-width="3"/>
<path d="M421.10,914.50L421.10,922.30M417.72,916.45L424.48,920.35M424.48,916.45L417.72,920.35" stroke="#000" stroke-width="1.75" fill="none"/>
<text x="389.3" y="1040.8" font-size="24" text-anchor="middle">Blood</text>
<text x="479.4" y="1040.8" font-size="24" text-anchor="middle">Liver</text>
<line x1="626.40" y1="849.50" x2="626.40" y2="1012.70" stroke="#555" stroke-width="1.3"/>
<line x1="620.40" y1="1012.70" x2="626.40" y2="1012.70" stroke="#555" stroke-width="1.3"/>
<text x="0" y="0" font-size="19.6" text-anchor="end" transform="translate(618.90 1020.30) scale(1 1.1)">0</text>
<line x1="620.40" y1="971.90" x2="626.40" y2="971.90" stroke="#555" stroke-width="1.3"/>
<text x="0" y="0" font-size="19.6" text-anchor="end" transform="translate(618.90 979.50) scale(1 1.1)">20</text>
<line x1="620.40" y1="931.10" x2="626.40" y2="931.10" stroke="#555" stroke-width="1.3"/>
<text x="0" y="0" font-size="19.6" text-anchor="end" transform="translate(618.90 938.70) scale(1 1.1)">40</text>
<line x1="620.40" y1="890.30" x2="626.40" y2="890.30" stroke="#555" stroke-width="1.3"/>
<text x="0" y="0" font-size="19.6" text-anchor="end" transform="translate(618.90 897.90) scale(1 1.1)">60</text>
<line x1="620.40" y1="849.50" x2="626.40" y2="849.50" stroke="#555" stroke-width="1.3"/>
<text x="0" y="0" font-size="19.6" text-anchor="end" transform="translate(618.90 857.10) scale(1 1.1)">80</text>
<line x1="626.40" y1="1012.70" x2="790.00" y2="1012.70" stroke="#555" stroke-width="1.3"/>
<line x1="648.10" y1="1012.70" x2="648.10" y2="1018.70" stroke="#555" stroke-width="1.3"/>
<line x1="678.20" y1="1012.70" x2="678.20" y2="1018.70" stroke="#555" stroke-width="1.3"/>
<line x1="708.70" y1="1012.70" x2="708.70" y2="1018.70" stroke="#555" stroke-width="1.3"/>
<line x1="739.30" y1="1012.70" x2="739.30" y2="1018.70" stroke="#555" stroke-width="1.3"/>
<line x1="769.80" y1="1012.70" x2="769.80" y2="1018.70" stroke="#555" stroke-width="1.3"/>
<rect x="637.9" y="986.0" width="20.0" height="26.7" fill="#ffffff" stroke="#2a2018" stroke-width="1.2"/>
<rect x="668.4" y="937.0" width="19.6" height="75.7" fill="#fcdcbe" stroke="#2a2018" stroke-width="1.2"/>
<rect x="729.5" y="991.3" width="19.5" height="21.4" fill="#ffffff" stroke="#2a2018" stroke-width="1.2"/>
<rect x="760.0" y="954.6" width="19.6" height="58.1" fill="#fcdcbe" stroke="#2a2018" stroke-width="1.2"/>
<line x1="647.90" y1="977.41" x2="647.90" y2="995.56" stroke="#3a3028" stroke-width="1.3"/>
<line x1="643.40" y1="977.41" x2="652.40" y2="977.41" stroke="#3a3028" stroke-width="1.3"/>
<line x1="643.40" y1="995.56" x2="652.40" y2="995.56" stroke="#3a3028" stroke-width="1.3"/>
<rect x="637.5" y="977.2" width="7.0" height="7.0" fill="#06067a"/>
<rect x="651.5" y="978.0" width="7.0" height="7.0" fill="#8c8cf4"/>
<rect x="644.6" y="992.1" width="7.0" height="7.0" fill="#5050ee"/>
<line x1="678.20" y1="910.70" x2="678.20" y2="964.35" stroke="#3a3028" stroke-width="1.3"/>
<line x1="673.70" y1="910.70" x2="682.70" y2="910.70" stroke="#3a3028" stroke-width="1.3"/>
<line x1="673.70" y1="964.35" x2="682.70" y2="964.35" stroke="#3a3028" stroke-width="1.3"/>
<circle cx="678.2" cy="898.5" r="3.60" fill="#6a1898"/>
<path d="M671.3,908.6 L675.6,916.2 L667.0,916.2Z" fill="#1a7c98"/>
<circle cx="678.2" cy="910.7" r="3.60" fill="#40ee40"/>
<path d="M685.5,904.9 L689.8,912.5 L681.2,912.5Z" fill="#ee1010"/>
<path d="M681.4,924.5 L685.7,932.1 L677.1,932.1Z" fill="#168a16"/>
<path d="M674.5,930.0 L678.8,937.6 L670.2,937.6Z" fill="#ff6a1c"/>
<path d="M678.2,939.0 L682.5,946.6 L673.9,946.6Z" fill="#c4c41a"/>
<circle cx="671.3" cy="945.4" r="3.60" fill="#cc1058"/>
<path d="M685.0,943.5 L689.3,951.1 L680.7,951.1Z" fill="#0b0bc8"/>
<circle cx="678.2" cy="950.5" r="3.60" fill="#44eef4"/>
<circle cx="678.2" cy="976.0" r="3.60" fill="#f05ac8"/>
<circle cx="678.2" cy="988.2" r="3.60" fill="#a020dc"/>
<line x1="739.25" y1="982.71" x2="739.25" y2="999.24" stroke="#3a3028" stroke-width="1.3"/>
<line x1="734.75" y1="982.71" x2="743.75" y2="982.71" stroke="#3a3028" stroke-width="1.3"/>
<line x1="734.75" y1="999.24" x2="743.75" y2="999.24" stroke="#3a3028" stroke-width="1.3"/>
<rect x="735.8" y="979.2" width="7.0" height="7.0" fill="#06067a"/>
<rect x="735.8" y="987.8" width="7.0" height="7.0" fill="#5050ee"/>
<rect x="735.8" y="995.7" width="7.0" height="7.0" fill="#8c8cf4"/>
<line x1="769.80" y1="927.63" x2="769.80" y2="977.82" stroke="#3a3028" stroke-width="1.3"/>
<line x1="765.30" y1="927.63" x2="774.30" y2="927.63" stroke="#3a3028" stroke-width="1.3"/>
<line x1="765.30" y1="977.82" x2="774.30" y2="977.82" stroke="#3a3028" stroke-width="1.3"/>
<circle cx="769.8" cy="908.7" r="3.60" fill="#40ee40"/>
<circle cx="767.4" cy="930.9" r="3.60" fill="#44eef4"/>
<path d="M772.2,923.9 L776.5,931.5 L767.9,931.5Z" fill="#168a16"/>
<path d="M762.5,942.7 L766.8,950.3 L758.2,950.3Z" fill="#ee1010"/>
<circle cx="772.2" cy="947.4" r="3.60" fill="#6a1898"/>
<path d="M767.4,944.5 L771.7,952.1 L763.1,952.1Z" fill="#0b0bc8"/>
<path d="M775.9,945.7 L780.2,953.3 L771.6,953.3Z" fill="#ff6a1c"/>
<circle cx="762.5" cy="971.7" r="3.60" fill="#a020dc"/>
<circle cx="772.2" cy="972.1" r="3.60" fill="#cc1058"/>
<path d="M767.4,969.6 L771.7,977.2 L763.1,977.2Z" fill="#1a7c98"/>
<path d="M776.4,974.5 L780.7,982.1 L772.1,982.1Z" fill="#c4c41a"/>
<circle cx="769.3" cy="991.3" r="3.60" fill="#f0a8e4"/>
<line x1="642.80" y1="885.50" x2="683.60" y2="885.50" stroke="#000" stroke-width="3"/>
<path d="M663.00,870.80L663.00,878.60M659.62,872.75L666.38,876.65M666.38,872.75L659.62,876.65" stroke="#000" stroke-width="1.75" fill="none"/>
<line x1="731.20" y1="885.50" x2="776.40" y2="885.50" stroke="#000" stroke-width="3"/>
<path d="M748.65,870.80L748.65,878.60M745.27,872.75L752.03,876.65M752.03,872.75L745.27,876.65M759.15,870.80L759.15,878.60M755.77,872.75L762.53,876.65M762.53,872.75L755.77,876.65" stroke="#000" stroke-width="1.75" fill="none"/>
<text x="661.1" y="1040.8" font-size="24" text-anchor="middle">Blood</text>
<text x="752.9" y="1040.8" font-size="24" text-anchor="middle">Liver</text>
<clipPath id="fc0"><path d="M175.0,58.8 176.0,58.6 177.0,58.5 178.0,58.6 179.1,58.7 180.1,59.0 181.2,59.5 182.1,60.1 182.9,60.9 183.5,61.8 183.9,62.8 184.2,63.8 184.3,64.9 184.5,65.9 184.6,66.9 184.7,67.9 184.7,68.9 184.7,69.9 184.5,70.8 184.1,71.6 183.7,72.4 183.4,73.2 183.0,74.1 182.6,75.0 182.0,75.9 181.3,76.6 180.5,77.2 179.6,77.7 178.7,78.2 177.8,78.7 177.0,79.2 176.3,80.0 175.8,80.9 175.5,81.8 175.2,82.8 174.8,83.7 174.3,84.6 173.8,85.5 173.3,86.2 172.8,87.0 172.3,87.9 172.1,89.0 172.3,90.0 172.8,90.7 173.3,91.4 174.0,92.1 174.7,92.8 175.4,93.5 176.0,94.3 176.5,95.2 176.9,96.2 177.1,97.3 177.5,98.2 178.0,99.1 178.6,99.9 179.2,100.7 179.6,101.7 179.8,102.7 180.1,103.8 180.7,104.7 181.7,105.2 182.8,105.4 183.9,105.4 184.9,105.6 185.8,106.1 186.7,106.7 187.4,107.5 187.9,108.4 188.2,109.4 188.3,110.4 188.3,111.4 188.4,112.4 188.5,113.4 188.5,114.4 188.5,115.4 188.4,116.4 188.3,117.4 188.1,118.4 187.8,119.3 187.4,120.3 187.1,121.2 186.8,122.1 186.5,123.0 185.9,123.8 185.2,124.5 184.4,125.0 183.6,125.6 182.8,126.3 182.0,126.9 181.2,127.4 180.3,127.9 179.4,128.3 178.4,128.6 177.5,128.9 176.6,129.3 175.7,129.8 174.8,130.3 173.9,130.7 172.9,131.0 171.9,131.2 170.9,131.5 170.0,131.9 169.1,132.2 168.1,132.5 167.1,132.8 166.2,133.1 165.2,133.2 164.2,133.3 163.1,133.4 162.1,133.6 161.2,133.8 160.2,133.9 159.2,134.1 158.2,134.4 157.2,134.7 156.2,134.9 155.2,135.1 154.2,135.1 153.1,135.0 152.2,134.9 151.2,134.7 150.2,134.4 149.2,134.1 148.1,134.1 147.0,134.3 146.1,134.7 145.2,135.2 144.4,135.8 143.5,136.3 142.6,136.7 141.7,137.0 140.7,137.3 139.7,137.4 138.7,137.4 137.6,137.4 136.5,137.3 135.5,137.2 134.5,136.7 133.7,136.0 133.0,135.2 132.3,134.3 131.6,133.6 130.9,132.9 130.1,132.2 129.3,131.5 128.7,130.7 128.2,129.7 127.9,128.7 127.8,127.7 127.7,126.7 127.7,125.7 127.6,124.6 127.6,123.6 127.7,122.6 128.0,121.6 128.1,120.6 127.9,119.6 127.5,118.6 127.2,117.6 127.0,116.6 127.0,115.6 127.2,114.6 127.4,113.6 127.6,112.6 127.8,111.6 127.9,110.6 127.9,109.6 127.8,108.6 127.7,107.6 127.7,106.6 128.0,105.6 128.3,104.6 128.8,103.7 129.2,102.7 129.5,101.8 129.8,100.8 129.9,99.8 129.9,98.8 130.0,97.8 130.2,96.8 130.5,95.8 130.9,94.8 131.3,93.9 131.7,93.0 132.0,92.0 132.3,91.0 132.5,90.1 132.7,89.1 133.0,88.3 133.4,87.5 133.9,86.6 134.2,85.7 134.6,84.7 135.0,83.7 135.3,82.8 135.5,81.8 135.9,80.9 136.5,80.1 137.2,79.5 138.1,79.0 138.9,78.5 139.7,78.0 140.5,77.4 141.4,76.8 142.2,76.4 143.1,75.9 144.1,75.5 145.0,75.0 145.9,74.5 146.7,73.9 147.3,72.9 147.5,71.8 147.3,70.8 147.2,69.8 147.3,68.9 147.7,68.1 148.3,67.2 149.1,66.5 149.9,65.9 150.9,65.5 151.9,65.3 153.0,65.2 154.0,65.1 154.9,64.8 155.9,64.5 156.8,64.1 157.7,63.7 158.7,63.4 159.6,63.0 160.6,62.7 161.5,62.3 162.4,61.8 163.3,61.5 164.3,61.2 165.3,61.1 166.4,61.1 167.4,61.1 168.4,60.9 169.3,60.6 170.2,60.2 171.2,59.9 172.1,59.6 173.1,59.4 174.0,59.1Z"/></clipPath>
<g clip-path="url(#fc0)">
<rect x="113.3" y="32.3" width="111.89999999999999" height="110.39999999999999" fill="#0018d7"/>
<path d="M155.0,145.5 144.0,145.8 129.5,145.5 128.0,144.0 127.0,142.5 123.1,135.5 120.7,129.5 120.1,127.5 120.0,126.0 120.0,122.5 119.3,117.5 119.2,114.5 119.9,109.0 120.7,105.0 123.3,98.0 128.1,89.5 130.0,87.6 134.5,84.4 134.6,84.0 135.1,83.5 135.3,82.0 135.8,81.5 135.9,81.0 136.4,80.5 136.4,80.0 137.5,78.9 138.0,78.8 139.0,77.9 139.5,77.8 140.0,77.4 140.5,77.3 141.0,76.8 141.5,76.8 142.0,76.3 142.5,76.3 143.0,75.8 143.5,75.8 144.0,75.3 144.5,75.3 145.5,74.3 146.0,74.3 146.8,73.5 146.9,72.5 147.4,72.0 147.5,71.5 147.5,71.0 147.1,70.0 148.0,68.5 149.0,67.5 151.5,66.2 152.0,66.2 154.0,65.3 154.5,65.2 157.0,64.2 157.5,64.2 159.5,63.3 161.5,62.8 165.5,61.4 166.5,61.3 167.0,61.0 168.0,61.0 169.0,60.5 170.0,60.6 171.0,60.1 172.5,60.0 173.0,59.7 178.0,59.8 178.5,60.1 179.5,60.3 181.3,62.0 183.6,66.0 183.6,66.5 184.2,67.5 184.2,68.5 184.8,69.5 184.9,71.0 184.8,71.5 184.5,72.0 184.5,72.5 184.0,73.0 184.1,73.5 181.5,76.4 181.0,76.5 181.0,79.5 180.6,81.5 179.9,83.0 177.4,86.0 176.5,87.5 176.0,89.0 176.1,90.5 177.2,93.0 180.5,98.1 182.3,100.0 186.0,103.1 187.1,104.5 188.7,107.0 189.3,108.5 189.8,110.5 189.9,114.0 190.3,116.5 190.1,118.5 187.7,125.0 186.5,127.5 184.1,131.5 182.0,133.5 179.5,135.2 177.5,136.3 173.5,137.7 167.5,139.2 163.5,141.2 159.5,142.8 155.0,145.5Z" fill="#002ae8" fill-rule="evenodd"/>
<path d="M145.5,145.5 142.5,145.5 139.5,145.1 136.0,144.1 134.0,143.3 132.5,142.3 131.0,140.8 128.3,137.0 127.1,135.0 124.3,129.0 123.5,126.5 123.1,124.5 122.4,117.5 122.4,114.5 123.0,111.0 123.5,106.0 124.1,104.0 125.2,102.0 127.6,99.0 131.6,92.0 133.5,90.1 133.7,89.5 134.2,89.0 134.5,88.0 135.0,87.5 135.8,84.5 136.2,84.0 136.7,82.5 138.0,80.5 139.5,79.4 145.5,76.2 147.8,74.5 148.8,72.5 149.1,71.0 149.1,70.0 150.0,68.9 154.5,66.9 160.0,64.9 167.5,62.9 174.0,61.8 177.0,61.9 178.5,62.4 179.2,63.0 181.6,66.5 182.3,68.0 183.1,70.5 182.5,72.5 181.0,74.7 176.0,79.5 174.8,82.0 174.8,82.5 174.3,83.5 174.2,84.5 173.0,86.6 171.7,88.0 171.5,89.0 170.9,90.0 171.6,92.0 176.0,96.7 178.5,101.0 179.6,102.0 179.7,102.5 182.5,105.4 183.0,105.5 183.5,106.0 184.5,106.3 186.4,107.5 186.7,108.0 187.6,110.0 187.6,112.0 188.0,113.0 188.0,115.0 187.6,116.0 187.6,119.0 187.2,120.0 187.1,121.0 186.4,122.5 183.5,126.0 183.0,126.1 182.0,127.3 181.5,127.4 181.0,127.9 180.5,128.0 179.0,129.3 175.0,131.9 169.5,134.5 165.5,135.5 163.5,136.2 152.7,141.5 147.0,144.8 145.5,145.5Z" fill="#003bf9" fill-rule="evenodd"/>
<path d="M145.5,142.5 144.0,142.6 141.5,142.2 139.0,142.3 137.0,141.8 135.5,140.9 132.0,138.1 130.4,136.0 126.6,128.0 125.2,124.0 124.8,122.5 124.4,115.0 125.3,110.5 125.5,106.5 125.9,105.0 126.9,103.5 129.0,101.3 129.3,100.0 129.7,99.5 129.9,98.5 130.3,98.0 130.6,97.0 131.0,96.5 131.3,95.5 134.7,90.0 136.2,88.0 137.5,85.2 139.5,82.1 141.0,81.1 146.5,78.2 149.4,76.0 150.2,75.0 151.1,73.5 152.2,71.0 158.0,68.6 167.0,66.2 172.5,66.0 174.5,66.1 175.9,66.5 177.7,68.0 179.3,70.0 179.4,71.0 179.2,72.0 176.8,76.0 174.7,78.5 173.5,81.0 172.6,84.0 171.5,85.7 169.8,87.5 168.9,89.5 168.8,90.5 170.0,93.0 174.8,97.5 177.0,100.9 179.0,103.5 181.5,106.2 184.5,108.0 185.5,108.8 186.2,110.5 186.1,112.5 186.4,114.5 186.1,115.5 186.2,118.5 185.4,121.5 183.0,124.7 181.5,126.1 178.5,128.1 174.0,130.0 173.5,130.4 172.0,130.6 171.5,131.1 170.5,131.2 170.0,131.6 168.5,131.8 168.0,132.2 166.5,132.3 166.0,132.7 165.0,132.9 164.5,133.3 162.8,133.5 156.5,136.8 151.5,138.7 150.2,139.5 147.9,141.5 145.5,142.5Z" fill="#0054fb" fill-rule="evenodd"/>
<path d="M145.5,140.1 144.5,140.2 141.5,139.8 138.0,139.8 136.5,139.3 135.0,138.3 132.9,136.5 131.8,135.0 130.6,132.5 129.2,131.0 129.1,130.5 128.7,130.0 128.6,129.0 128.1,128.5 128.0,127.3 126.3,123.0 126.1,122.0 125.7,114.5 126.6,111.5 127.3,106.0 128.5,104.2 128.8,103.0 129.5,102.0 129.8,100.5 131.0,98.2 131.2,97.5 133.1,94.0 135.6,91.0 135.8,90.5 140.0,85.8 142.0,84.3 144.0,83.6 146.0,82.3 151.5,79.8 154.0,77.8 157.0,74.4 161.0,72.9 166.0,71.4 167.5,71.2 169.5,71.4 170.5,71.8 171.4,72.5 172.1,74.0 172.2,76.0 171.7,79.5 169.7,83.5 169.0,84.2 166.5,85.9 164.8,87.5 164.3,88.5 164.3,90.5 165.0,91.8 167.8,94.5 170.0,95.7 173.0,98.1 179.8,106.0 180.5,107.1 183.9,110.0 184.3,111.0 184.0,113.0 184.3,114.0 184.4,118.0 184.1,120.5 182.3,123.5 180.0,125.8 178.0,127.2 172.5,129.7 171.5,129.9 171.0,130.3 170.0,130.4 169.5,130.9 168.5,130.9 167.5,131.4 166.5,131.5 164.0,132.6 162.0,133.0 161.5,133.4 160.5,133.4 160.0,133.9 156.4,134.5 155.0,135.3 152.0,136.4 150.0,137.4 147.5,139.3 145.5,140.1Z" fill="#006cfd" fill-rule="evenodd"/>
<path d="M146.0,139.1 144.5,139.3 138.0,138.8 136.0,138.1 134.5,137.0 133.0,135.5 132.0,134.0 129.6,131.0 129.1,130.0 128.8,129.0 128.4,128.5 128.2,127.0 127.8,126.5 127.5,124.6 126.6,122.0 126.2,116.0 126.3,114.0 127.2,110.0 127.6,107.5 128.1,105.5 128.6,105.0 129.2,103.0 129.8,102.0 130.9,99.0 133.5,94.2 137.6,89.5 140.5,86.9 142.0,86.0 147.0,84.1 151.0,83.8 156.0,82.8 156.9,82.0 157.5,81.0 157.8,80.0 158.0,77.8 158.4,77.0 159.0,76.5 161.5,75.6 165.0,73.9 166.5,73.7 168.0,73.9 169.0,74.5 169.4,75.5 169.9,78.5 169.6,80.0 169.0,81.1 167.2,82.5 163.0,84.1 162.0,85.0 161.6,86.0 161.4,87.5 162.0,90.5 162.6,92.0 163.5,93.1 167.0,95.4 169.5,96.6 172.5,98.7 176.9,103.5 180.5,107.9 183.0,110.3 183.3,111.0 183.1,113.0 183.6,117.5 183.3,120.5 182.0,122.8 180.5,124.6 178.1,126.5 175.5,127.8 169.5,130.4 166.0,131.3 164.0,132.1 162.0,132.6 161.5,133.0 160.5,133.1 159.5,133.6 154.9,134.5 150.0,136.7 146.0,139.1Z" fill="#0085fe" fill-rule="evenodd"/>
<path d="M145.5,138.0 143.0,138.2 137.0,137.3 134.5,135.9 133.5,134.9 133.0,134.7 132.0,133.5 129.5,129.9 128.0,126.0 127.5,123.0 127.1,122.0 126.8,115.0 127.7,109.5 128.0,109.0 128.5,105.5 128.9,105.0 129.5,103.0 132.0,97.8 134.0,94.5 137.5,90.8 140.5,88.7 142.5,88.0 148.5,87.3 151.5,87.8 153.0,88.3 155.9,91.0 159.0,92.4 162.6,95.0 166.5,97.0 170.0,98.5 171.6,99.5 176.3,104.0 181.4,110.5 181.9,112.0 182.0,113.5 182.5,118.0 182.3,120.0 181.3,122.0 178.8,125.0 176.5,126.5 172.5,128.5 169.0,129.9 166.0,130.7 159.5,133.2 152.8,134.5 148.5,136.4 145.5,138.0Z" fill="#009efe" fill-rule="evenodd"/>
<path d="M144.0,137.0 142.5,137.0 142.0,137.3 138.5,137.1 138.0,136.7 137.0,136.6 136.5,136.2 135.5,136.0 134.5,135.4 133.0,134.0 131.0,131.5 130.3,130.5 129.1,128.0 128.4,126.0 127.8,122.5 127.5,122.0 127.2,115.0 128.0,109.9 128.4,109.0 128.9,106.0 131.7,99.5 133.3,96.5 134.5,95.0 138.0,91.9 140.5,90.4 143.0,89.9 147.5,89.9 149.8,90.5 152.4,92.0 155.5,93.3 162.5,96.9 170.0,100.3 172.9,103.0 175.5,104.9 177.4,107.0 180.0,111.0 180.6,113.0 181.2,117.0 181.2,118.5 181.0,119.5 180.5,120.7 178.6,123.5 177.5,124.7 175.5,126.0 169.0,129.0 166.0,130.0 163.5,131.1 159.0,132.7 150.1,134.5 148.0,135.2 145.5,136.6 144.0,137.0Z" fill="#00b8f9" fill-rule="evenodd"/>
<path d="M143.5,136.5 141.5,136.7 139.0,136.5 136.0,135.6 133.5,133.7 131.5,131.2 130.4,129.5 128.8,125.5 127.8,121.5 127.6,116.0 128.4,110.0 128.8,109.0 129.3,106.5 131.5,101.0 133.2,98.0 135.0,95.7 138.0,93.3 140.0,92.3 142.5,92.0 145.0,92.0 147.0,92.3 150.5,93.7 154.5,94.7 162.5,98.7 169.0,101.7 171.9,104.5 174.0,105.6 175.0,106.4 177.5,109.8 178.5,111.5 179.0,113.0 179.4,117.5 179.2,119.0 178.0,121.5 176.8,123.5 175.5,124.5 172.5,125.9 168.8,128.0 161.0,131.1 159.0,131.8 152.8,133.5 148.5,134.2 147.0,135.1 146.0,135.2 145.5,135.7 143.5,136.5Z" fill="#00d3f4" fill-rule="evenodd"/>
<path d="M141.5,136.1 139.5,135.9 137.5,135.4 135.5,134.5 133.5,132.8 131.3,130.0 130.0,127.5 129.3,125.5 128.3,121.5 128.0,115.5 128.9,110.0 130.0,106.5 132.0,101.5 133.7,98.5 135.0,97.0 138.0,94.9 139.5,94.3 140.5,94.1 143.0,94.1 149.5,95.3 158.0,98.3 161.5,100.1 165.5,101.7 168.0,103.2 170.5,105.7 173.0,107.0 174.0,107.8 176.2,111.5 176.9,113.5 176.8,114.5 176.2,117.0 176.2,120.5 175.6,122.0 174.8,123.0 171.9,124.5 168.1,127.0 160.5,130.3 152.5,132.9 148.5,133.6 144.0,135.6 141.5,136.1Z" fill="#02e9e9" fill-rule="evenodd"/>
<path d="M143.0,135.1 141.0,135.4 139.5,135.2 138.0,134.8 136.2,134.0 134.0,132.4 132.0,130.0 130.7,127.5 129.9,125.5 128.7,121.0 128.5,115.5 129.3,110.5 132.7,101.5 134.0,99.5 135.5,97.8 136.5,97.1 138.0,96.5 141.0,95.8 143.0,95.9 146.0,96.7 149.0,96.9 152.5,98.8 157.4,100.0 160.5,101.6 164.5,102.9 166.0,104.0 168.4,107.0 169.5,107.7 172.0,108.7 172.9,109.5 173.6,110.5 174.2,112.0 174.5,114.0 173.9,120.0 173.6,121.0 172.7,122.0 169.5,124.0 166.5,126.4 160.5,129.2 156.0,130.6 152.5,132.1 148.0,133.1 143.0,135.1Z" fill="#0fedc2" fill-rule="evenodd"/>
<path d="M141.0,134.5 139.5,134.4 136.9,133.5 134.7,132.0 133.5,130.8 132.2,129.0 131.2,127.0 130.4,125.0 129.2,121.0 128.9,116.0 129.4,112.5 129.8,110.5 133.5,101.7 134.5,100.2 136.0,98.7 137.0,98.1 138.5,97.6 141.0,97.3 142.5,97.4 145.0,98.1 148.5,98.6 151.5,100.1 156.5,101.6 159.6,103.0 163.0,103.9 164.5,105.0 165.8,107.5 166.7,108.5 168.0,109.4 171.0,110.9 172.0,111.9 172.5,113.0 172.6,114.5 171.5,120.0 170.8,121.0 168.5,122.5 166.0,125.1 160.0,128.1 155.5,129.7 152.0,131.4 148.0,132.4 143.5,134.1 141.0,134.5Z" fill="#1cf19c" fill-rule="evenodd"/>
<path d="M142.5,133.5 140.5,133.7 138.5,133.3 136.5,132.3 135.0,131.3 134.0,130.3 132.7,128.5 131.1,125.0 129.8,121.0 129.6,118.5 129.5,116.0 130.3,111.0 134.3,102.0 135.5,100.5 136.9,99.5 138.5,98.9 140.5,98.6 142.0,98.6 147.5,99.9 158.0,104.4 162.0,105.5 163.0,106.3 165.3,109.5 168.1,111.5 169.8,113.0 170.4,114.0 170.6,115.0 170.3,116.5 169.0,119.3 167.0,121.5 165.6,123.5 164.5,124.4 158.1,127.5 154.5,128.7 151.5,130.5 142.5,133.5Z" fill="#28f576" fill-rule="evenodd"/>
<path d="M143.0,132.5 140.5,132.8 139.0,132.5 137.0,131.7 134.7,130.0 133.5,128.4 131.9,125.0 130.5,121.0 130.2,119.0 130.1,116.0 130.7,112.0 131.1,110.5 132.7,107.0 135.0,102.8 136.0,101.5 138.0,100.4 140.5,99.8 142.0,99.9 147.0,101.0 149.1,102.0 153.5,104.5 157.5,106.2 161.0,107.4 162.0,108.3 164.5,111.3 167.0,113.1 167.7,114.0 168.0,115.0 167.7,116.5 165.7,119.0 164.9,121.5 164.0,122.7 163.0,123.2 161.0,123.9 157.5,126.0 154.5,127.2 151.5,129.3 150.1,130.0 146.0,131.7 143.0,132.5Z" fill="#2ff35d" fill-rule="evenodd"/>
<path d="M143.5,131.6 141.5,132.0 139.5,131.8 137.5,131.0 135.5,129.6 134.5,128.4 133.5,126.5 131.4,121.5 130.9,119.5 130.8,116.5 131.3,112.5 131.6,111.0 133.0,107.7 136.5,102.7 138.0,101.7 140.5,101.0 144.5,101.4 147.0,102.1 148.7,103.0 152.0,105.4 159.9,109.5 161.0,110.5 161.5,111.4 162.5,114.5 162.5,116.0 161.7,118.0 160.0,120.2 158.8,122.5 157.9,123.5 156.6,124.5 153.5,126.1 149.8,129.0 146.0,130.8 143.5,131.6Z" fill="#35f243" fill-rule="evenodd"/>
<path d="M142.0,131.1 140.0,131.0 138.5,130.5 136.8,129.5 135.5,128.2 134.4,126.5 132.0,121.0 131.6,119.5 131.4,118.0 131.5,116.5 132.2,111.5 133.0,109.2 133.8,107.5 136.0,104.7 137.5,103.3 139.5,102.4 141.5,102.0 145.0,102.4 147.0,103.1 148.4,104.0 152.0,107.0 154.0,109.0 157.0,110.7 158.0,112.0 158.7,116.0 158.4,117.5 157.5,120.5 156.7,122.0 155.9,123.0 152.0,125.7 149.2,128.0 147.7,129.0 145.0,130.3 142.0,131.1Z" fill="#3cf02a" fill-rule="evenodd"/>
<path d="M142.5,130.1 140.5,130.1 139.0,129.7 137.5,128.8 136.1,127.5 134.9,125.5 132.6,120.5 132.2,119.0 132.1,117.5 132.3,115.5 133.1,111.0 133.8,109.0 134.6,107.5 136.5,105.3 138.0,104.1 140.0,103.3 142.0,103.1 144.5,103.2 146.0,103.7 147.5,104.6 149.7,106.5 151.0,108.0 152.5,110.2 155.2,112.5 155.8,114.0 156.1,116.5 155.9,118.5 155.3,120.5 154.6,122.0 153.7,123.0 150.5,125.2 146.6,128.5 144.6,129.5 142.5,130.1Z" fill="#66f222" fill-rule="evenodd"/>
<path d="M142.5,129.1 141.0,129.2 139.5,128.9 138.0,128.0 136.5,126.6 135.2,124.5 133.4,120.5 132.9,119.0 132.8,117.5 132.9,115.5 133.6,111.5 134.2,109.5 135.0,108.0 136.5,106.3 138.0,105.1 140.0,104.3 142.0,104.1 144.0,104.2 145.5,104.6 146.9,105.5 148.6,107.0 149.8,108.5 151.1,111.0 153.0,113.5 153.3,114.5 153.5,116.0 153.1,120.5 152.5,122.0 149.5,124.4 146.0,127.6 144.5,128.5 142.5,129.1Z" fill="#93f31c" fill-rule="evenodd"/>
<path d="M142.0,128.1 140.5,128.1 139.5,127.8 138.0,126.9 137.0,125.9 135.8,124.0 133.9,120.0 133.4,117.5 133.5,115.5 134.3,111.5 134.7,110.0 135.5,108.5 136.5,107.2 138.0,106.0 139.5,105.3 141.5,105.0 143.0,105.1 144.6,105.5 146.0,106.3 147.5,107.7 148.5,109.0 149.6,111.5 151.2,114.0 151.7,116.0 151.2,120.0 150.9,121.0 150.2,122.0 147.4,125.0 145.7,126.5 144.0,127.5 142.0,128.1Z" fill="#c0f515" fill-rule="evenodd"/>
<path d="M143.0,126.6 141.5,126.9 140.0,126.8 138.5,126.1 137.5,125.3 136.0,123.0 134.4,119.5 134.0,118.0 133.9,116.5 134.3,114.0 134.8,111.5 135.6,109.5 136.5,108.1 137.7,107.0 139.0,106.2 140.5,105.9 142.0,105.9 143.5,106.3 144.7,107.0 146.0,108.1 147.4,110.0 149.8,114.5 150.2,116.0 150.1,117.5 149.7,119.5 149.1,121.0 148.2,122.5 146.0,124.9 144.5,125.9 143.0,126.6Z" fill="#d9ef0e" fill-rule="evenodd"/>
<path d="M141.5,125.6 140.5,125.7 139.5,125.5 138.5,125.1 137.5,124.2 136.5,122.7 135.2,120.0 134.6,118.5 134.4,117.0 134.6,115.0 135.1,112.5 136.2,109.5 137.0,108.4 138.0,107.5 139.0,107.0 140.5,106.6 142.0,106.8 143.0,107.2 144.1,108.0 145.5,109.4 146.6,111.0 148.3,114.5 148.9,116.5 148.7,118.0 148.0,120.0 146.8,122.5 145.0,124.1 143.0,125.1 141.5,125.6Z" fill="#eee706" fill-rule="evenodd"/>
<path d="M140.5,124.5 139.0,124.3 138.0,123.6 137.4,123.0 135.3,119.0 134.9,116.5 135.4,113.0 136.5,110.0 137.5,108.7 138.4,108.0 139.5,107.5 140.5,107.4 141.5,107.6 142.5,108.0 144.7,110.0 145.7,111.5 146.7,113.5 147.4,115.5 147.6,116.5 147.5,117.5 147.0,119.0 146.3,120.5 145.5,121.7 142.0,124.0 140.5,124.5Z" fill="#ffd900" fill-rule="evenodd"/>
<path d="M141.0,123.2 139.5,123.4 138.0,122.6 137.0,121.3 136.0,119.5 135.4,117.0 135.4,115.5 135.8,113.5 136.8,110.5 138.0,109.0 139.0,108.4 140.0,108.1 141.0,108.2 142.0,108.7 143.9,110.5 145.4,113.0 146.3,116.0 146.0,118.0 145.0,119.9 143.3,121.5 141.0,123.2Z" fill="#ffb000" fill-rule="evenodd"/>
<path d="M141.0,122.1 139.5,122.5 138.5,122.1 138.0,121.7 136.5,119.4 135.8,117.0 136.1,114.0 137.0,111.2 137.5,110.4 138.5,109.4 140.0,108.8 141.5,109.3 143.0,110.6 144.4,113.0 145.1,115.5 145.0,117.0 144.5,118.5 142.9,120.5 141.0,122.1Z" fill="#ff8800" fill-rule="evenodd"/>
<path d="M140.0,121.5 139.0,121.5 138.5,121.2 137.5,120.1 136.4,118.0 136.2,116.0 136.6,113.5 137.5,111.3 138.5,110.1 140.0,109.6 141.5,110.1 142.7,111.5 143.8,114.0 144.1,116.0 143.8,117.5 143.0,119.0 141.5,120.7 140.0,121.5Z" fill="#fa5f03" fill-rule="evenodd"/>
<path d="M140.0,120.7 139.0,120.6 137.7,119.5 136.9,118.0 136.6,116.0 136.9,114.0 137.6,112.0 138.5,110.9 139.0,110.5 140.0,110.3 141.0,110.7 142.2,112.0 142.9,113.5 143.2,115.5 143.0,117.0 142.3,118.5 141.1,120.0 140.0,120.7Z" fill="#f33507" fill-rule="evenodd"/>
</g>

<rect x="113.3" y="32.3" width="111.9" height="110.4" fill="none" stroke="#999" stroke-width="1"/>
<line x1="158.40" y1="32.30" x2="158.40" y2="142.70" stroke="#111" stroke-width="1.2"/>
<line x1="113.30" y1="90.50" x2="225.20" y2="90.50" stroke="#111" stroke-width="1.2"/>
<clipPath id="fc1"><path d="M285.9,45.8 286.2,46.3 286.9,47.0 287.7,47.8 288.6,48.4 289.5,48.9 290.3,49.4 291.0,50.1 291.4,51.0 291.7,52.0 292.1,53.1 292.6,54.1 293.3,55.0 294.2,55.6 295.3,56.0 296.4,56.0 297.5,55.7 298.5,55.6 299.5,55.6 300.5,55.6 301.5,55.6 302.5,55.5 303.5,55.5 304.5,55.6 305.5,55.6 306.6,55.3 307.6,54.8 308.6,54.6 309.7,55.0 310.6,55.9 311.3,56.9 312.0,57.7 312.7,58.0 313.7,58.1 314.8,58.4 315.8,58.8 316.7,59.5 317.2,60.4 317.7,61.3 318.3,62.1 319.0,62.6 319.9,63.1 320.5,63.9 320.8,65.1 320.6,66.5 320.0,67.4 319.8,67.9 319.9,68.8 320.2,70.2 320.2,71.6 319.9,72.7 319.3,73.4 318.3,73.8 317.2,74.1 316.2,74.6 315.4,75.3 314.9,76.2 314.5,77.2 314.2,78.1 313.9,79.1 313.6,80.1 313.4,81.1 313.0,82.0 312.5,82.9 311.7,83.6 311.0,84.3 310.3,85.1 309.8,86.0 309.4,86.9 309.2,88.0 309.2,89.0 309.1,90.0 308.8,90.9 308.4,91.9 307.8,92.9 307.3,94.2 307.4,95.7 308.3,96.8 309.6,97.2 310.9,97.2 312.0,97.2 313.1,97.4 314.0,97.9 314.5,98.8 314.2,99.5 313.7,99.4 313.2,99.9 312.6,100.9 311.9,101.8 310.9,102.1 309.8,102.2 308.5,102.7 307.8,104.3 308.3,105.8 309.3,106.6 310.3,107.1 311.3,107.5 312.1,108.1 312.7,108.9 313.2,109.8 313.7,110.5 314.3,111.1 314.9,111.9 315.0,112.9 314.6,114.0 313.8,114.7 312.9,115.2 312.0,115.7 311.1,116.2 310.3,116.9 309.7,117.6 309.0,118.5 308.3,119.1 307.4,119.6 306.3,119.9 305.2,120.0 304.1,120.0 303.1,120.1 302.2,120.5 301.5,121.3 300.8,122.0 299.9,122.5 298.9,122.7 297.9,122.9 297.0,123.2 296.0,123.5 295.1,123.9 294.1,124.3 293.1,124.5 292.1,124.5 291.0,124.4 290.0,124.6 289.1,125.0 288.3,125.6 287.5,126.3 286.8,127.0 286.2,127.8 285.6,128.7 284.8,129.4 283.8,129.8 282.7,129.9 281.7,130.1 280.8,130.4 279.9,130.9 279.0,131.4 278.2,131.9 277.3,132.4 276.3,132.8 275.4,133.0 274.3,133.1 273.3,133.0 272.2,132.9 271.1,132.8 270.0,132.9 269.1,133.4 268.4,134.3 267.7,135.4 267.0,136.3 266.1,136.7 265.0,136.9 264.0,137.0 263.0,137.2 262.0,137.2 261.0,137.0 260.2,136.6 259.5,136.1 258.9,135.6 258.2,135.3 257.4,134.9 256.6,134.3 255.9,133.6 255.2,132.9 254.5,132.2 253.7,131.4 253.2,130.5 252.9,129.5 252.9,128.5 253.1,127.4 253.3,126.3 253.2,125.3 252.8,124.4 252.3,123.5 251.8,122.5 251.4,121.5 251.3,120.5 251.3,119.5 251.4,118.5 251.7,117.5 252.1,116.5 252.5,115.5 252.8,114.5 253.0,113.6 253.2,112.7 253.5,111.7 253.8,110.8 254.0,109.9 254.3,108.9 254.6,108.0 255.0,107.0 255.4,106.1 255.8,105.2 256.3,104.3 256.9,103.5 257.5,102.7 258.1,101.7 258.4,100.6 258.2,99.4 257.5,98.4 256.6,97.8 255.5,97.3 254.5,96.9 253.6,96.2 253.0,95.1 253.1,93.6 254.0,92.6 255.1,92.3 256.2,92.1 257.1,91.7 257.8,90.9 258.3,89.9 258.9,89.1 259.7,88.5 260.4,87.8 261.1,87.0 261.6,86.0 262.1,85.0 262.4,83.9 262.5,82.8 262.3,81.8 261.9,80.8 261.4,79.9 261.1,78.9 260.8,78.0 260.5,77.0 260.3,75.9 260.2,74.8 260.5,73.8 261.0,72.9 261.6,72.0 262.2,71.2 262.9,70.4 263.6,69.7 264.5,69.1 265.4,68.6 266.2,67.9 266.6,67.0 266.9,65.9 267.3,64.9 267.9,64.1 268.6,63.4 269.5,62.9 270.5,62.4 271.5,62.0 272.5,61.5 273.4,60.9 274.2,60.3 274.8,59.6 275.4,58.7 275.9,57.8 276.3,56.8 276.7,55.8 277.1,54.8 277.5,53.9 278.1,53.0 278.8,52.4 279.7,51.8 280.6,51.2 281.2,50.4 281.6,49.4 281.7,48.3 282.0,47.2 282.6,46.4 283.5,45.8 284.6,45.5 285.5,45.5Z"/></clipPath>
<g clip-path="url(#fc1)">
<rect x="242.8" y="32.3" width="111.80000000000001" height="110.7" fill="#0018d7"/>
<path d="M269.5,142.6 268.0,142.5 264.5,141.9 262.5,140.9 258.5,137.0 258.0,136.9 255.7,134.5 255.6,134.0 254.7,133.0 254.7,132.5 254.3,132.0 254.2,131.0 253.4,129.5 253.3,128.0 252.9,127.5 252.8,125.5 252.4,125.0 252.2,119.5 251.8,119.0 251.8,118.5 252.2,118.0 252.1,113.0 252.5,112.5 252.1,108.0 252.8,103.5 252.8,100.0 254.1,95.5 254.0,95.0 253.7,94.5 253.7,93.5 257.0,89.7 258.9,88.0 259.6,87.0 260.0,85.5 260.2,82.0 260.5,80.2 260.5,79.5 260.1,79.0 260.2,76.5 260.7,76.0 260.7,74.5 261.6,73.0 261.7,72.5 262.5,71.5 263.2,69.0 264.0,67.5 265.8,65.0 269.7,60.5 271.0,59.4 274.0,57.5 277.3,54.5 277.3,54.0 279.5,52.0 279.6,51.5 281.0,50.3 281.5,49.5 282.6,48.5 283.1,47.5 284.5,46.2 285.5,45.8 286.0,45.9 286.6,47.0 286.9,48.0 288.5,50.3 292.5,53.7 293.0,53.7 293.5,54.1 294.0,54.1 294.5,54.5 296.0,54.5 297.7,55.0 301.0,55.2 301.5,55.6 309.5,56.2 310.5,56.7 311.5,56.8 312.8,57.5 314.5,58.8 315.7,61.0 316.5,61.9 317.2,63.5 319.6,66.0 320.5,67.5 319.6,69.0 317.8,71.0 317.3,72.0 315.9,73.5 314.4,77.0 314.4,78.0 314.0,78.5 314.0,79.0 313.5,79.5 313.5,80.0 313.1,80.5 313.0,81.0 312.1,82.0 312.1,82.5 311.7,83.0 311.7,83.5 311.2,84.0 311.3,84.5 310.8,85.0 310.8,85.5 310.4,86.0 310.4,86.5 309.5,88.0 309.4,88.5 309.0,89.0 308.8,90.5 308.3,91.0 308.1,93.5 308.4,94.0 308.4,94.5 309.0,96.0 309.8,96.5 310.5,97.2 313.0,98.5 314.1,99.5 313.5,100.0 310.0,101.8 308.9,103.0 308.7,103.5 308.7,105.0 308.9,105.5 313.6,110.5 314.0,111.0 314.1,112.0 313.6,113.0 312.0,114.7 309.5,116.5 308.5,117.5 307.6,118.0 306.5,119.1 304.0,120.7 300.0,122.3 299.0,122.3 298.0,122.7 296.5,122.8 295.5,123.2 294.0,123.3 293.0,123.8 292.0,123.8 291.0,124.4 290.0,124.5 289.5,125.1 289.0,125.1 288.5,125.7 288.0,125.7 285.0,128.9 284.5,128.9 283.3,130.0 282.7,131.5 282.0,132.3 278.4,135.0 277.7,136.5 277.5,139.0 276.8,140.0 275.5,140.8 273.5,141.6 269.5,142.6Z" fill="#002ae8" fill-rule="evenodd"/>
<path d="M270.5,138.6 265.0,138.8 263.5,138.4 262.2,137.5 261.0,137.2 260.5,137.4 260.1,137.0 258.3,136.0 256.8,134.5 255.5,132.5 255.0,131.5 254.9,130.5 254.2,129.0 253.3,124.0 252.9,118.5 253.0,113.5 253.3,112.5 253.2,111.5 253.5,110.0 255.2,106.0 256.1,101.5 257.0,99.0 256.7,98.5 256.7,98.0 255.3,96.0 255.1,95.0 254.6,94.0 256.0,92.2 259.0,89.7 259.5,89.5 260.4,88.5 260.5,88.0 261.0,87.5 261.1,86.5 261.6,85.5 261.7,84.5 261.3,83.5 261.4,79.5 261.0,78.5 261.1,77.0 261.4,76.5 261.6,75.0 262.0,74.0 264.8,69.0 266.9,66.5 267.0,66.0 269.4,63.5 269.5,63.0 271.5,61.0 273.5,59.4 274.2,58.5 278.0,55.1 278.5,54.4 280.1,53.0 280.8,52.0 282.0,51.0 282.5,50.2 285.0,47.7 287.5,51.0 292.0,54.5 296.0,55.7 300.5,56.1 301.5,56.5 309.0,57.3 312.0,58.6 313.5,59.9 315.2,62.5 316.2,64.5 318.5,67.1 318.7,67.5 318.5,68.0 316.7,70.0 316.3,71.0 314.8,73.0 312.9,78.5 312.0,80.5 311.3,81.5 309.6,86.0 308.1,89.0 308.0,90.0 307.5,91.0 307.1,93.5 307.4,95.5 308.0,96.9 311.1,99.5 309.0,100.8 307.7,102.5 307.5,103.5 307.5,105.5 308.0,106.4 312.5,111.5 312.5,112.0 311.0,113.7 309.0,115.3 307.8,116.5 307.0,117.0 305.9,118.0 304.5,119.0 303.0,119.8 299.5,121.1 298.5,121.2 297.5,121.5 296.0,121.6 295.0,121.9 293.5,122.0 289.5,123.6 287.5,125.0 285.0,127.6 284.0,128.2 283.1,129.0 281.0,130.4 280.4,130.5 280.0,131.0 279.5,131.1 279.0,131.6 278.0,131.9 277.2,132.5 275.8,134.5 274.5,135.9 271.5,138.2 270.5,138.6Z" fill="#003bf9" fill-rule="evenodd"/>
<path d="M263.5,137.1 260.5,136.3 259.5,135.8 257.7,134.0 256.3,132.0 255.1,128.5 254.5,125.0 254.2,124.0 253.8,121.0 253.8,117.0 254.3,110.5 256.3,105.0 256.4,104.5 257.1,103.0 257.3,101.5 257.7,101.0 257.9,100.0 257.5,97.5 256.3,95.5 255.8,94.0 258.0,91.7 260.1,90.0 261.0,89.0 261.6,88.0 262.5,85.5 262.7,84.5 262.4,83.0 262.5,79.5 262.3,77.5 263.1,74.5 265.6,69.5 267.5,67.2 268.0,66.2 271.9,62.0 274.4,60.0 275.0,59.2 278.9,56.0 279.8,55.0 284.5,50.9 285.0,50.9 286.5,52.2 291.5,55.6 295.5,56.7 300.0,57.3 301.0,57.7 308.0,58.9 310.6,60.0 311.8,61.0 312.5,62.0 314.3,65.5 315.6,67.5 313.2,72.5 311.5,79.0 310.0,82.0 307.2,88.5 305.6,94.5 305.9,97.5 307.0,99.5 305.9,101.0 305.5,102.0 305.4,103.0 305.6,105.5 306.2,107.0 309.6,111.5 309.5,112.0 306.8,115.0 305.0,116.5 302.5,118.2 299.0,119.4 295.5,119.6 293.0,120.0 291.0,120.8 289.5,121.7 287.0,123.9 284.5,126.6 280.0,129.6 277.5,131.4 276.4,132.5 275.5,132.9 274.0,134.3 272.5,135.2 270.5,136.2 269.5,136.5 265.5,136.6 265.0,136.9 264.0,136.8 263.5,137.1Z" fill="#0054fb" fill-rule="evenodd"/>
<path d="M266.5,136.0 265.5,136.0 264.5,136.3 262.5,136.3 260.0,135.3 258.7,134.0 256.7,131.0 256.2,129.5 255.5,125.8 254.7,123.5 254.4,120.5 254.8,111.0 255.8,107.5 256.5,106.0 256.7,105.0 257.6,103.0 257.7,102.0 258.1,101.5 258.5,100.0 258.1,96.5 257.3,95.0 257.1,94.0 258.5,92.4 261.5,89.5 263.6,85.5 263.7,77.5 264.0,76.5 264.2,75.0 265.1,73.0 265.3,72.0 266.2,70.0 267.5,68.5 268.9,66.5 270.5,65.0 271.1,64.0 273.5,61.7 278.0,58.6 284.0,53.8 284.5,53.6 285.5,53.7 286.5,54.2 289.8,56.5 291.1,57.0 293.0,57.2 298.5,58.6 300.0,58.7 301.0,59.1 303.0,59.3 308.0,61.2 309.5,62.2 310.7,63.5 311.8,65.5 312.6,68.0 312.2,70.0 311.9,70.5 310.9,73.5 310.9,77.0 310.6,78.5 306.4,87.5 305.2,91.5 303.5,95.6 302.8,99.5 302.4,100.5 302.1,102.5 302.4,104.5 303.4,107.0 305.7,110.0 306.3,111.0 306.2,112.0 305.4,113.0 303.5,114.8 302.0,115.7 299.0,116.7 296.0,116.8 293.5,116.1 292.0,115.4 291.1,115.5 290.0,116.7 286.7,122.5 285.3,124.5 284.0,125.8 280.0,128.4 275.0,132.8 274.0,133.3 273.5,133.8 272.5,133.9 272.0,134.4 271.4,134.5 270.0,135.2 268.0,135.4 267.5,135.8 266.5,136.0Z" fill="#006cfd" fill-rule="evenodd"/>
<path d="M267.5,135.5 265.5,135.7 264.5,136.0 263.0,136.0 260.3,135.0 259.2,134.0 257.4,131.5 256.5,129.1 255.8,125.5 255.0,123.0 254.7,120.5 254.9,117.0 255.3,113.5 255.1,112.0 255.4,110.0 258.8,100.0 258.6,97.0 257.7,94.5 257.8,94.0 259.0,92.5 261.9,89.5 263.8,86.0 264.3,84.0 264.0,81.5 264.3,77.5 265.6,72.5 266.5,70.5 269.0,67.0 273.2,62.5 278.5,58.8 281.5,56.4 284.5,54.6 285.0,54.5 286.2,55.0 290.0,57.5 294.0,58.0 302.0,59.7 307.0,61.6 308.3,62.5 310.0,64.2 311.4,67.0 311.6,68.5 310.3,73.5 310.4,77.0 310.0,78.9 305.9,87.5 304.5,91.7 302.7,95.5 301.0,102.0 300.9,104.0 301.6,106.5 302.1,107.5 304.8,110.5 305.1,111.5 304.9,112.0 304.1,113.0 302.9,114.0 300.5,115.0 298.0,115.5 296.5,115.4 295.1,115.0 292.0,113.0 291.0,112.9 290.5,113.1 290.0,113.4 289.5,114.1 288.6,117.0 286.5,121.7 285.0,124.1 284.2,125.0 279.5,128.2 276.0,131.6 273.5,133.4 272.5,133.7 272.0,134.2 271.0,134.4 270.5,134.7 269.5,134.9 269.0,135.2 268.0,135.2 267.5,135.5Z" fill="#0085fe" fill-rule="evenodd"/>
<path d="M264.5,135.6 262.5,135.5 260.5,134.6 259.4,133.5 257.8,131.0 257.0,129.0 256.2,125.5 255.3,123.0 255.0,121.0 255.0,119.0 255.7,113.5 255.6,112.0 255.8,110.0 259.0,100.0 259.1,96.5 258.5,94.5 259.3,93.0 262.0,90.0 263.0,88.5 264.7,85.5 264.9,84.0 264.7,81.0 265.2,77.5 266.2,73.0 267.2,70.5 269.5,67.3 274.0,62.5 276.7,61.0 282.0,57.3 285.0,56.1 286.0,56.5 289.0,58.4 294.0,58.9 301.7,60.5 306.5,62.8 307.5,63.6 308.9,65.0 310.2,67.5 310.3,69.5 309.5,73.5 309.7,76.5 309.6,78.0 309.3,79.0 308.0,81.9 305.0,87.5 303.4,92.0 301.3,95.5 300.4,99.5 298.0,105.9 297.0,106.8 295.4,107.5 293.5,109.0 289.5,110.6 288.0,112.0 287.5,113.0 287.4,116.5 286.5,119.4 284.9,123.0 283.5,124.8 280.5,126.7 279.5,127.5 276.0,131.2 274.5,132.4 273.0,133.3 271.6,134.0 271.0,134.1 270.5,134.5 269.5,134.6 269.0,135.0 268.0,135.0 266.0,135.4 264.5,135.6ZM300.5,113.1 298.7,113.0 297.7,112.5 297.2,111.5 297.6,110.0 298.5,109.6 299.5,109.7 302.0,110.4 302.8,111.0 302.9,111.5 302.1,112.5 300.5,113.1Z" fill="#009efe" fill-rule="evenodd"/>
<path d="M264.5,135.1 262.5,135.0 260.5,134.0 259.7,133.0 258.5,131.0 257.5,128.7 256.6,125.5 255.7,123.0 255.4,121.5 255.4,119.0 256.2,114.0 256.1,111.5 256.5,109.0 257.7,105.0 259.0,101.5 259.4,100.0 259.7,96.0 259.4,94.5 260.5,92.4 263.9,88.5 265.5,86.0 265.8,84.5 265.6,82.0 265.7,81.0 266.6,75.5 268.0,71.0 270.0,68.0 274.0,63.4 275.0,62.7 277.5,61.6 281.0,58.9 283.0,58.0 285.0,57.9 287.5,59.3 289.0,59.8 293.5,60.0 300.0,61.1 302.0,61.7 306.4,65.0 307.5,66.2 308.3,67.5 308.9,69.5 308.6,73.0 308.8,77.5 308.5,79.0 307.5,81.5 306.4,83.5 303.7,87.5 302.8,89.5 302.0,92.0 300.0,95.0 299.4,99.0 298.5,101.2 297.5,102.8 296.5,103.6 292.0,104.9 290.6,105.5 288.9,106.5 288.0,107.5 287.1,109.5 285.5,112.0 285.5,113.0 286.1,115.5 286.0,117.0 284.0,122.5 283.0,124.0 280.0,125.9 276.1,130.5 273.0,132.8 270.0,134.2 266.0,135.0 264.5,135.1Z" fill="#00b8f9" fill-rule="evenodd"/>
<path d="M264.0,134.5 262.5,134.3 261.5,133.9 260.5,133.1 259.8,132.0 258.2,128.5 256.1,123.0 255.8,121.0 255.9,119.0 256.8,114.0 256.9,110.5 257.2,108.0 258.0,105.1 259.6,101.0 260.4,96.0 260.4,94.5 261.4,92.5 265.2,88.5 266.4,87.0 266.9,86.0 267.1,84.5 266.9,82.0 267.7,79.5 267.7,76.0 268.1,74.5 269.7,70.5 270.9,68.5 273.5,65.0 274.4,64.0 275.5,63.4 278.0,62.5 280.5,60.2 282.5,59.2 283.5,59.1 284.5,59.2 287.1,60.5 289.5,61.1 299.0,61.9 301.0,62.5 302.0,63.2 305.0,66.0 306.2,67.5 307.0,69.0 307.5,71.0 307.9,77.0 307.3,80.0 306.4,82.0 305.5,83.4 302.1,87.5 301.5,88.5 300.5,91.5 298.6,94.0 298.6,97.5 298.0,100.0 297.0,101.4 296.0,102.2 287.0,105.5 286.1,106.0 285.6,106.5 285.0,109.0 283.9,111.5 283.7,112.5 284.8,115.5 284.8,116.5 284.5,117.5 283.3,120.0 282.3,122.5 281.5,123.4 279.5,125.0 277.5,128.2 276.0,129.9 274.0,131.5 270.0,133.8 268.5,134.1 264.0,134.5Z" fill="#00d3f4" fill-rule="evenodd"/>
<path d="M268.0,133.6 265.5,133.8 263.5,133.8 262.0,133.4 260.9,132.5 259.6,130.0 256.6,123.0 256.3,121.5 256.2,120.0 256.6,117.5 257.5,113.5 257.7,108.5 258.0,106.5 260.1,101.0 261.4,94.5 262.5,92.6 266.0,89.5 267.5,87.6 268.0,86.6 269.5,80.5 269.5,79.0 269.0,77.0 269.1,75.5 271.1,70.5 274.7,65.0 275.5,64.4 278.3,63.5 280.9,61.0 282.5,60.2 284.0,60.2 287.0,61.6 290.5,62.6 298.0,62.9 299.5,63.1 300.4,63.5 301.5,64.3 304.6,67.5 305.7,69.5 306.4,71.5 306.9,73.5 307.0,75.5 306.4,79.5 305.7,81.5 304.7,83.0 300.8,87.0 300.2,88.0 299.3,90.5 297.3,93.0 297.2,94.0 297.6,96.5 297.7,97.5 297.3,99.0 296.5,100.3 295.0,101.3 290.5,103.2 286.0,104.5 285.0,105.2 284.0,106.4 283.2,110.0 282.1,113.0 282.3,114.0 283.2,115.5 283.1,117.0 280.8,122.0 278.5,124.9 276.5,128.5 275.0,130.1 272.0,131.8 271.0,132.6 269.5,133.3 268.0,133.6Z" fill="#02e9e9" fill-rule="evenodd"/>
<path d="M266.0,133.0 263.0,132.9 262.0,132.4 261.0,131.4 257.1,123.0 256.7,121.5 256.7,119.5 258.4,112.0 258.3,108.0 258.7,105.5 260.5,101.5 261.2,98.0 262.5,94.7 263.5,93.4 266.0,91.1 268.1,88.5 269.0,87.0 270.5,82.6 270.9,80.5 270.9,79.0 270.3,76.5 270.3,75.5 272.1,71.0 274.8,66.5 275.5,65.7 276.5,65.2 278.5,64.5 281.0,62.1 282.5,61.3 284.0,61.4 290.0,63.6 296.0,63.8 298.5,64.1 299.7,64.5 301.0,65.4 304.0,68.7 305.7,72.5 306.1,75.0 305.2,80.0 304.6,81.5 304.0,82.2 302.0,83.9 299.9,86.5 298.0,90.0 296.7,91.5 296.2,92.5 296.1,94.0 296.7,97.0 296.3,98.5 295.0,100.0 293.3,101.0 289.5,102.5 286.0,103.1 284.5,104.5 283.0,106.5 282.6,107.5 282.0,110.5 280.3,113.5 280.3,114.5 281.4,116.5 281.3,117.5 280.7,119.5 279.9,121.5 278.0,124.5 276.2,128.0 275.0,129.3 271.5,130.9 269.5,132.5 266.0,133.0Z" fill="#0fedc2" fill-rule="evenodd"/>
<path d="M267.0,132.1 265.0,132.3 263.5,132.1 262.5,131.7 261.5,130.8 259.5,126.5 257.6,123.0 257.2,121.5 257.2,120.0 257.6,117.5 259.0,112.0 259.1,110.5 258.8,108.0 258.9,106.5 259.4,105.0 261.0,101.5 262.0,97.9 263.0,96.1 265.5,93.5 269.3,88.5 271.5,83.5 272.0,79.5 271.4,76.5 271.4,75.5 272.2,73.0 273.0,71.5 275.0,69.1 276.1,67.0 276.7,66.5 279.0,65.4 281.5,63.0 282.5,62.5 283.5,62.4 284.5,62.7 289.5,64.5 294.5,64.7 299.0,65.8 300.0,66.5 303.1,69.5 304.8,73.0 305.1,74.0 305.2,75.0 304.1,78.0 303.9,80.0 303.4,81.0 301.3,83.0 299.0,86.0 297.5,87.7 295.9,89.0 295.5,89.7 295.0,91.4 294.9,92.5 295.7,96.0 295.5,97.7 294.5,99.0 293.1,100.0 291.5,100.7 290.0,101.0 289.0,100.8 288.7,100.5 287.7,98.0 286.5,97.1 285.5,97.0 284.5,97.0 283.5,97.5 282.9,98.0 282.6,98.5 282.5,99.0 283.1,100.0 284.3,101.5 284.6,102.5 284.3,103.5 282.0,107.0 281.4,110.0 281.0,111.0 279.2,113.5 279.1,114.5 280.0,116.5 280.2,117.5 279.8,119.5 279.0,121.5 277.2,124.5 276.0,127.0 275.0,128.4 273.5,129.3 271.0,129.9 268.9,131.5 267.0,132.1ZM280.8,95.5 282.0,95.1 282.5,94.5 282.9,93.5 283.0,92.0 282.5,90.5 281.5,89.7 280.5,89.5 280.0,89.6 279.5,90.0 279.2,90.5 278.9,93.0 279.0,94.0 279.5,95.2 280.0,95.5 280.8,95.5Z" fill="#1cf19c" fill-rule="evenodd"/>
<path d="M265.0,131.5 263.0,131.1 261.7,130.0 260.2,126.5 258.1,123.0 257.8,122.0 257.7,120.5 257.9,118.5 259.6,111.5 259.4,107.0 259.8,105.5 261.4,102.0 262.8,98.0 263.5,97.0 266.0,94.9 268.0,91.6 270.3,89.0 271.5,86.5 272.5,85.0 272.7,84.0 272.7,81.5 273.1,79.0 272.2,76.0 272.3,75.0 272.6,74.0 273.9,72.0 276.1,70.0 277.5,67.9 279.5,66.3 281.5,64.3 282.5,63.8 283.5,63.6 285.0,63.9 289.0,65.4 293.5,65.4 295.5,66.0 298.0,67.6 299.5,68.8 301.5,71.4 303.5,73.1 304.0,74.5 303.8,75.5 302.3,78.0 302.2,79.5 302.0,80.5 298.5,85.0 297.5,85.8 296.5,86.1 292.3,86.0 291.5,86.5 291.3,87.0 291.3,88.0 292.6,91.5 294.0,93.7 294.6,95.0 294.8,96.5 294.5,97.3 293.5,98.5 292.5,99.1 291.5,99.4 290.5,99.2 289.9,98.5 289.4,97.0 289.4,96.0 290.1,94.0 290.1,93.5 289.5,93.4 287.0,94.6 286.0,94.5 285.1,94.0 284.8,93.5 284.3,90.5 283.5,89.5 281.7,88.5 280.0,87.9 279.0,87.8 278.0,88.2 277.6,89.0 277.3,94.0 276.2,96.5 276.2,97.5 277.0,99.8 277.5,100.7 278.0,101.0 280.5,100.3 282.0,100.6 283.1,101.5 283.5,102.1 283.7,103.0 283.3,104.0 281.2,107.0 280.4,110.5 278.3,113.5 278.3,114.5 279.3,117.5 278.7,120.5 277.8,122.5 275.2,127.0 274.5,127.8 273.5,128.4 271.0,129.0 267.5,131.1 265.0,131.5Z" fill="#28f576" fill-rule="evenodd"/>
<path d="M288.0,92.1 287.5,92.2 286.9,92.0 286.5,91.5 286.2,89.5 285.6,89.0 283.0,88.0 279.5,86.4 276.5,86.0 275.5,85.7 274.4,84.5 273.6,82.5 273.6,81.5 274.3,79.0 273.0,76.0 273.0,75.0 273.4,74.0 274.5,72.6 276.5,71.0 279.5,68.1 281.5,65.7 283.0,64.9 284.0,64.8 285.5,65.0 289.0,66.6 292.5,66.2 294.0,66.5 295.0,66.9 298.0,69.0 298.9,70.0 299.3,71.0 300.2,75.0 300.3,77.0 300.6,79.5 300.1,81.0 298.0,83.6 297.0,84.3 295.5,84.7 292.0,85.0 290.9,85.5 290.1,86.5 289.7,87.5 289.6,88.5 289.9,90.0 289.8,90.5 289.1,91.5 288.0,92.1ZM266.5,130.6 264.5,130.7 263.5,130.5 262.5,129.9 261.6,128.5 260.6,126.0 259.0,123.6 258.4,122.5 258.2,121.0 258.4,119.0 260.1,111.5 259.9,107.5 260.0,106.5 260.5,105.0 263.5,98.3 264.5,97.3 267.1,95.5 269.0,92.2 272.5,88.1 273.5,87.4 274.5,87.4 275.3,88.0 275.8,89.0 276.0,90.5 275.9,92.0 275.4,93.5 273.3,95.5 273.3,96.0 275.3,98.5 275.8,99.5 276.5,102.2 277.0,102.8 277.5,102.9 280.0,101.4 281.5,101.3 282.6,102.0 282.9,102.5 282.9,103.5 282.3,104.5 280.7,106.5 280.3,107.5 280.0,109.5 279.6,110.5 277.8,113.0 277.7,114.5 278.3,116.5 278.5,118.0 278.0,120.5 277.2,122.5 274.0,127.1 273.0,127.7 270.6,128.5 268.0,130.1 266.5,130.6ZM292.5,97.6 291.5,97.6 291.0,97.0 291.0,96.5 291.5,95.0 292.0,94.6 292.5,94.4 293.0,94.6 293.3,95.0 293.6,96.0 293.3,97.0 292.5,97.6Z" fill="#2ff35d" fill-rule="evenodd"/>
<path d="M287.0,87.6 284.0,87.4 280.0,85.4 276.5,84.8 275.3,84.0 274.5,82.5 274.5,81.5 275.2,80.0 275.4,79.0 273.8,76.0 273.8,75.0 274.2,74.0 275.1,73.0 280.3,69.0 282.5,66.7 284.0,66.2 285.0,66.2 286.0,66.5 288.0,67.7 289.0,68.1 290.0,68.0 292.0,67.3 293.0,67.2 294.0,67.5 296.0,68.5 297.5,69.6 298.2,70.5 298.6,72.0 299.4,79.0 299.3,80.0 298.7,81.0 297.5,82.1 295.2,83.5 291.0,84.5 290.3,85.0 288.5,86.9 288.0,87.3 287.0,87.6ZM272.5,92.6 272.0,92.5 272.0,91.7 272.5,91.0 273.0,90.7 273.5,90.6 273.7,91.0 273.5,92.0 272.5,92.6ZM266.0,130.0 264.0,129.9 262.6,129.0 262.0,128.0 261.1,125.5 259.5,123.4 258.9,122.0 258.8,121.0 259.4,116.5 260.5,111.5 260.6,106.5 261.5,104.0 263.5,99.9 264.0,99.0 265.0,98.0 266.0,97.5 267.5,97.2 272.0,97.2 273.5,97.7 274.7,99.0 275.3,100.5 275.6,103.0 276.0,103.8 276.5,104.3 277.5,104.7 278.0,104.5 279.8,102.5 281.0,102.0 281.9,102.5 282.1,103.5 281.5,104.5 279.5,106.5 279.1,110.0 277.2,113.0 277.2,114.5 277.7,116.5 277.8,118.0 277.4,120.5 276.5,122.5 273.5,126.5 270.0,128.2 267.8,129.5 266.0,130.0Z" fill="#35f243" fill-rule="evenodd"/>
<path d="M286.5,86.5 285.0,86.5 284.0,86.2 282.0,85.0 280.5,84.4 277.0,84.0 276.0,83.5 275.5,82.8 275.3,82.0 275.5,81.3 276.3,80.0 276.4,79.0 274.6,76.0 274.5,75.2 274.7,74.5 275.6,73.5 280.0,70.2 282.5,68.5 284.0,67.8 285.5,67.7 289.0,69.1 290.0,69.1 293.0,68.3 294.0,68.5 295.5,69.1 297.0,70.1 297.7,71.5 298.3,78.0 298.0,79.7 297.5,80.3 294.0,82.9 290.5,83.9 288.0,86.1 286.5,86.5ZM267.0,129.2 266.0,129.4 264.5,129.3 263.1,128.5 262.5,127.6 261.6,125.0 260.0,123.0 259.6,122.0 259.6,121.0 260.0,119.0 259.9,116.0 260.8,111.5 261.2,106.5 261.6,105.0 262.5,103.0 264.5,99.8 265.2,99.0 266.5,98.4 269.0,98.5 271.5,98.0 272.5,98.0 273.5,98.5 274.4,99.5 274.7,100.5 274.8,103.0 275.1,104.0 276.0,105.2 277.6,106.5 278.3,108.0 278.4,109.0 278.2,110.0 277.0,112.0 276.7,113.0 276.7,114.5 277.2,117.5 277.0,120.0 276.5,121.5 276.0,122.3 273.0,125.9 272.0,126.6 267.0,129.2Z" fill="#3cf02a" fill-rule="evenodd"/>
<path d="M286.5,85.5 285.0,85.2 283.5,84.1 282.5,83.7 279.5,83.0 277.5,82.8 276.8,82.5 276.6,82.0 277.5,80.5 277.6,79.5 277.2,78.5 275.4,76.0 275.4,75.0 275.7,74.5 281.0,70.2 282.5,69.4 284.0,68.9 286.0,68.9 289.5,69.9 293.5,69.3 295.7,70.0 296.7,71.0 297.1,72.0 297.3,76.5 297.0,78.6 296.5,79.3 293.4,82.0 290.0,83.2 288.0,85.0 286.5,85.5ZM266.5,128.6 264.5,128.5 263.5,127.8 263.1,127.0 262.5,125.0 260.5,122.0 260.9,119.5 260.5,117.0 260.4,115.5 261.1,112.0 262.0,106.0 262.4,104.5 263.0,103.2 265.5,100.0 266.5,99.5 269.0,99.5 271.0,98.7 272.5,98.6 273.5,99.2 274.0,100.0 274.2,101.0 274.1,103.5 274.4,104.5 277.0,107.5 277.4,108.5 277.5,109.5 276.5,111.7 276.2,113.0 276.6,117.0 276.4,120.0 275.6,122.0 272.4,125.5 271.0,126.4 268.0,128.0 266.5,128.6Z" fill="#66f222" fill-rule="evenodd"/>
<path d="M287.5,84.0 287.0,84.2 286.0,84.1 284.0,82.9 281.0,82.0 280.1,81.5 279.5,80.8 278.3,78.5 276.8,76.5 276.5,75.5 276.6,75.0 277.4,74.0 280.9,71.0 282.0,70.3 283.5,69.7 285.5,69.6 289.0,70.5 293.0,70.3 295.0,70.7 295.9,71.5 296.2,72.5 296.3,76.0 296.0,77.5 292.8,81.0 292.0,81.5 289.5,82.4 287.5,84.0ZM267.5,127.5 266.0,127.8 264.5,127.4 264.0,126.8 263.2,124.5 261.8,122.5 261.5,121.5 261.6,119.0 260.9,116.0 261.0,114.5 262.7,105.5 263.5,103.5 264.5,102.2 266.0,100.9 267.0,100.6 269.0,100.6 271.0,99.4 272.0,99.2 273.0,99.5 273.5,100.2 273.7,101.0 273.3,103.0 273.4,104.0 273.8,105.0 276.1,108.0 276.5,109.0 275.7,113.0 276.0,117.0 275.8,120.0 275.5,121.0 275.0,121.8 271.9,125.0 270.6,126.0 267.5,127.5Z" fill="#93f31c" fill-rule="evenodd"/>
<path d="M287.0,82.6 286.0,82.5 282.0,80.9 281.0,80.3 278.1,76.5 277.9,75.5 278.3,74.5 281.2,71.5 282.5,70.7 284.0,70.3 286.0,70.3 289.5,71.1 292.5,71.2 293.7,71.5 294.5,72.0 295.0,73.0 295.2,74.5 295.0,76.0 294.6,77.0 292.0,80.1 287.0,82.6ZM268.0,126.5 266.5,126.8 265.4,126.5 265.0,126.1 262.7,122.5 262.3,121.5 262.1,118.5 261.4,116.0 261.4,114.5 262.1,110.5 263.1,107.5 263.5,105.0 264.0,103.9 265.0,102.8 266.0,102.1 267.0,101.7 269.5,101.8 270.0,101.5 271.0,100.2 272.0,99.9 272.5,100.0 273.0,101.0 272.2,103.0 272.3,104.0 275.0,108.0 275.4,109.0 275.2,113.0 275.3,116.5 275.0,120.0 274.3,121.5 271.0,124.9 269.5,125.9 268.0,126.5Z" fill="#c0f515" fill-rule="evenodd"/>
<path d="M287.5,81.1 286.5,81.3 285.5,81.1 282.5,79.9 281.0,78.5 279.6,76.5 279.3,75.5 279.8,74.0 280.9,72.5 282.2,71.5 283.5,71.0 285.5,70.9 289.0,71.7 291.5,72.1 292.6,72.5 293.1,73.0 293.4,74.0 293.3,75.5 292.8,77.0 291.9,78.5 290.5,79.8 287.5,81.1ZM268.5,125.6 267.0,125.8 266.0,125.4 265.0,124.6 263.5,122.7 262.9,121.5 262.6,118.5 261.8,115.5 261.9,114.0 262.4,111.0 263.8,107.5 264.3,105.0 264.9,104.0 265.5,103.4 267.0,102.8 268.0,102.8 269.5,103.2 271.0,104.2 274.0,108.0 274.4,109.0 274.7,110.5 274.7,116.0 274.4,119.5 274.1,120.5 273.4,121.5 270.5,124.5 268.5,125.6Z" fill="#d9ef0e" fill-rule="evenodd"/>
<path d="M288.0,80.1 286.5,80.4 284.5,79.9 282.5,78.8 281.3,77.5 280.5,76.0 280.4,75.0 280.9,73.5 282.0,72.3 283.5,71.6 285.5,71.5 290.0,72.7 290.8,73.0 291.4,73.5 291.9,75.0 291.7,76.5 291.3,77.5 290.1,79.0 288.0,80.1ZM269.0,124.6 267.5,124.9 266.5,124.7 265.0,123.6 264.0,122.5 263.4,121.0 263.0,118.5 262.2,115.5 262.3,114.0 262.9,111.0 264.3,108.0 265.0,105.5 265.6,104.5 266.2,104.0 267.0,103.7 268.0,103.8 269.0,104.1 270.9,105.5 273.2,108.5 273.7,109.5 274.1,111.0 274.1,115.0 273.4,120.0 272.9,121.0 271.0,123.1 270.0,124.0 269.0,124.6Z" fill="#eee706" fill-rule="evenodd"/>
<path d="M287.5,79.5 286.0,79.6 284.5,79.1 283.0,78.2 281.8,77.0 281.2,75.5 281.3,74.5 281.7,73.5 282.5,72.7 284.0,72.1 286.0,72.2 288.6,73.0 290.2,74.0 290.6,74.5 290.8,75.5 290.7,76.5 290.3,77.5 289.0,78.9 287.5,79.5ZM268.0,124.1 267.0,124.0 266.0,123.6 265.0,122.9 264.3,122.0 263.8,121.0 262.7,115.0 262.9,112.5 263.5,110.5 264.9,108.0 266.0,105.5 266.6,105.0 267.5,104.7 268.5,104.9 269.5,105.6 272.0,108.3 273.1,110.0 273.5,112.5 273.4,115.0 272.5,120.1 271.5,121.5 270.0,123.1 269.0,123.8 268.0,124.1Z" fill="#ffd900" fill-rule="evenodd"/>
<path d="M288.0,78.6 287.0,78.9 285.5,78.8 284.0,78.1 283.2,77.5 282.3,76.5 282.0,75.5 282.0,74.5 282.6,73.5 284.0,72.7 285.5,72.7 287.5,73.3 289.0,74.1 289.7,75.0 289.8,76.5 289.0,77.9 288.0,78.6ZM268.5,123.2 267.5,123.4 266.5,123.2 265.5,122.6 264.6,121.5 264.2,120.5 263.1,115.0 263.4,112.5 264.0,110.6 266.5,106.7 267.5,106.0 268.0,106.0 269.0,106.5 271.5,109.0 272.5,110.6 272.9,112.5 272.8,114.5 271.6,120.0 270.2,122.0 268.5,123.2Z" fill="#ffb000" fill-rule="evenodd"/>
<path d="M287.5,78.1 286.5,78.2 285.5,78.1 284.5,77.7 283.6,77.0 283.0,76.2 282.7,75.5 282.8,74.5 283.2,74.0 284.0,73.5 285.5,73.4 287.0,73.8 288.2,74.5 288.9,75.5 288.9,76.5 288.4,77.5 287.5,78.1ZM268.0,122.6 266.5,122.5 265.6,122.0 265.0,121.2 264.6,120.0 263.6,114.5 264.0,112.0 264.6,110.5 267.0,107.9 268.0,107.5 269.5,108.3 271.2,110.0 272.0,111.5 272.2,113.0 272.0,114.5 270.7,120.0 269.5,121.7 268.0,122.6Z" fill="#ff8800" fill-rule="evenodd"/>
<path d="M287.5,77.0 286.5,77.4 285.0,77.1 283.8,76.0 283.7,75.0 284.0,74.5 285.0,74.2 286.6,74.5 287.4,75.0 287.8,75.5 287.9,76.5 287.5,77.0ZM268.5,121.6 268.0,121.9 267.0,122.0 266.0,121.5 265.5,121.0 265.1,120.0 264.2,114.5 264.3,112.5 264.9,111.0 266.0,109.8 267.5,109.0 268.5,109.1 270.0,110.0 271.0,111.1 271.4,112.5 271.3,114.0 270.4,117.0 270.0,119.5 269.5,120.6 268.5,121.6Z" fill="#fa5f03" fill-rule="evenodd"/>
<path d="M268.0,121.0 267.0,121.2 266.5,121.0 265.7,120.0 265.4,116.5 264.8,114.0 264.9,112.5 265.5,111.3 266.5,110.3 267.5,110.0 268.5,110.2 269.8,111.0 270.4,112.0 270.6,113.0 270.4,114.0 269.3,116.5 269.1,119.5 268.6,120.5 268.0,121.0Z" fill="#f33507" fill-rule="evenodd"/>
</g>
<circle cx="269" cy="58.7" r="2.6" fill="#0018d8"/>
<rect x="242.8" y="32.3" width="111.8" height="110.7" fill="none" stroke="#999" stroke-width="1"/>
<line x1="287.30" y1="32.30" x2="287.30" y2="143.00" stroke="#111" stroke-width="1.2"/>
<line x1="242.80" y1="91.00" x2="354.60" y2="91.00" stroke="#111" stroke-width="1.2"/>
<clipPath id="fc2"><path d="M181.1,176.9 182.3,177.3 183.2,177.9 183.9,178.7 184.7,179.3 185.6,179.8 186.5,180.2 187.4,180.6 188.4,180.9 189.3,181.2 190.1,181.7 191.0,182.2 192.0,182.6 192.9,182.9 193.9,183.1 194.9,183.2 195.8,183.6 196.7,184.0 197.6,184.6 198.2,185.5 198.5,186.5 198.7,187.5 199.0,188.5 199.3,189.5 199.5,190.5 199.2,191.6 198.7,192.6 198.2,193.6 198.1,194.6 198.5,195.6 199.1,196.6 199.7,197.5 199.9,198.5 199.9,199.4 199.7,200.4 199.8,201.4 200.1,202.4 200.6,203.3 201.2,204.1 201.9,204.8 202.6,205.4 203.2,206.1 203.8,207.0 204.1,207.9 204.3,208.9 204.5,209.9 204.7,210.9 204.8,211.8 205.0,212.8 205.1,213.8 205.2,214.8 205.3,215.8 205.3,216.8 205.3,217.7 205.4,218.7 205.4,219.6 205.7,220.6 206.0,221.6 206.5,222.6 206.9,223.6 207.2,224.7 207.1,225.7 206.8,226.7 206.4,227.6 206.1,228.6 205.8,229.6 205.6,230.6 205.1,231.5 204.3,232.2 203.5,232.9 202.8,233.6 202.2,234.4 201.8,235.3 201.4,236.3 201.1,237.3 200.6,238.1 200.0,238.9 199.3,239.6 198.6,240.3 198.0,241.1 197.3,241.9 196.5,242.5 195.6,242.9 194.6,243.2 193.6,243.4 192.6,243.5 191.7,243.8 190.8,244.2 189.8,244.7 188.9,245.0 187.9,245.1 186.9,245.2 185.9,245.3 184.8,245.2 183.8,245.0 182.8,244.8 181.8,244.7 180.8,244.7 179.8,244.8 178.8,245.0 177.8,245.2 176.8,245.2 175.8,245.2 174.8,245.2 173.8,245.1 172.8,245.1 171.8,245.3 170.8,245.5 169.8,245.7 168.8,245.8 167.8,245.9 166.8,246.1 165.8,246.5 164.8,246.8 163.8,246.9 162.8,246.5 161.8,245.9 160.8,245.4 159.8,245.1 158.8,245.1 157.8,245.3 156.8,245.5 155.8,245.8 154.8,246.2 153.8,246.5 152.8,246.6 151.8,246.5 150.8,246.4 149.8,246.3 148.8,246.3 147.8,246.4 146.8,246.5 145.8,246.7 144.8,246.9 143.8,247.2 142.8,247.4 141.8,247.4 140.8,247.4 139.8,247.4 138.7,247.5 137.7,247.2 136.8,246.6 136.0,245.9 135.2,245.2 134.4,244.7 133.5,244.4 132.6,243.9 131.8,243.3 131.1,242.5 130.6,241.6 130.2,240.7 129.9,239.8 129.5,238.8 129.2,237.9 128.8,237.0 128.3,236.2 127.7,235.3 127.2,234.4 126.9,233.4 127.0,232.3 127.3,231.3 127.5,230.3 127.6,229.3 127.4,228.3 127.0,227.3 126.8,226.3 126.7,225.2 127.0,224.2 127.4,223.3 127.7,222.3 127.9,221.3 128.1,220.3 128.6,219.4 129.4,218.6 130.2,217.9 131.0,217.2 131.5,216.4 131.8,215.5 132.0,214.6 132.2,213.6 132.7,212.7 133.4,212.0 134.2,211.5 135.1,211.1 135.9,210.6 136.8,210.2 137.7,209.8 138.7,209.5 139.7,209.4 140.7,209.5 141.7,209.6 142.7,209.3 143.6,208.9 144.6,208.4 145.5,207.9 146.4,207.6 147.4,207.3 148.3,207.0 149.2,206.6 150.0,205.9 150.4,204.9 150.3,203.9 150.1,202.9 149.8,202.0 149.6,201.0 149.6,200.0 149.9,198.9 150.5,198.1 151.2,197.8 151.7,197.6 152.2,197.1 153.0,196.5 153.9,196.2 154.9,196.2 155.8,196.4 156.7,196.7 157.7,196.9 158.7,197.2 159.6,197.5 160.5,197.8 161.4,197.5 162.0,196.6 162.2,195.5 162.3,194.5 162.2,193.5 162.0,192.5 161.9,191.5 161.8,190.5 161.9,189.5 161.9,188.5 161.8,187.5 161.8,186.5 162.0,185.5 162.5,184.7 163.3,184.0 164.1,183.6 165.1,183.2 166.0,183.0 166.9,182.7 167.8,182.2 168.7,181.6 169.5,181.0 170.5,180.7 171.5,180.7 172.6,180.8 173.6,180.8 174.6,180.8 175.6,180.6 176.6,180.1 177.5,179.4 178.2,178.6 179.0,177.8 179.9,177.2Z"/></clipPath>
<g clip-path="url(#fc2)">
<rect x="113.3" y="144.5" width="111.89999999999999" height="111.19999999999999" fill="#0018d7"/>
<path d="M146.5,252.0 144.0,252.2 141.5,252.1 137.5,251.6 135.5,250.9 132.5,249.1 128.4,246.0 126.3,244.0 123.7,241.0 119.0,235.0 117.9,232.5 117.3,230.5 117.4,228.5 118.7,224.0 119.5,222.0 120.8,220.0 123.0,217.5 127.5,213.7 131.1,211.0 134.0,209.3 139.5,207.3 141.0,206.9 144.5,206.6 148.0,207.0 148.5,206.6 149.0,206.6 150.3,205.5 150.9,200.5 150.5,199.5 150.6,198.0 151.5,197.1 152.5,196.9 153.0,196.5 155.0,196.4 156.0,196.8 156.5,196.8 159.5,198.1 161.0,198.0 161.9,197.0 162.2,186.5 163.0,185.0 164.0,184.0 166.5,182.7 167.0,182.7 169.0,181.7 169.5,181.7 172.0,180.6 173.0,180.6 174.0,180.1 175.5,180.1 177.5,179.5 180.0,178.3 181.0,178.3 185.5,180.3 186.3,181.0 188.5,182.1 189.5,182.2 190.0,182.6 191.5,182.7 192.5,183.2 194.0,183.3 196.4,184.5 197.8,187.0 197.9,188.0 198.4,189.0 198.6,199.0 199.0,199.5 199.0,201.0 199.4,201.5 199.5,202.2 202.5,205.8 203.6,208.0 203.7,209.0 204.6,211.0 204.6,212.0 205.1,213.0 205.2,214.0 205.7,215.0 205.8,217.0 206.4,218.0 206.7,224.0 206.3,224.5 206.4,227.5 205.9,228.0 205.9,231.5 205.1,233.0 203.0,235.0 202.9,235.5 201.9,236.5 201.9,237.0 200.9,238.0 200.8,238.5 197.5,241.6 197.0,241.7 196.0,242.6 195.5,242.6 195.0,243.1 194.0,243.1 193.5,243.6 192.5,243.7 192.0,244.2 191.0,244.2 190.5,244.7 188.0,244.8 187.5,245.2 181.5,245.5 181.0,245.9 175.5,246.1 171.5,246.9 167.0,247.3 163.5,248.1 160.0,248.5 156.5,249.9 151.5,251.3 146.5,252.0Z" fill="#002ae8" fill-rule="evenodd"/>
<path d="M146.0,249.0 144.0,249.3 142.0,249.3 138.5,248.9 136.5,248.3 134.5,247.1 132.5,245.5 129.0,242.3 127.4,240.5 123.9,234.5 123.5,233.0 122.9,228.5 123.0,226.5 123.5,224.5 124.2,223.0 125.8,220.5 130.6,215.0 130.8,214.5 132.4,213.0 132.6,212.5 134.5,211.2 138.0,209.6 140.0,209.3 140.5,209.0 142.5,208.9 143.0,208.6 145.0,208.6 146.0,208.3 147.5,208.2 149.8,207.5 151.3,206.5 151.9,205.5 152.7,202.5 153.0,200.5 153.1,199.0 154.0,198.6 154.5,198.7 156.0,199.0 159.0,199.9 161.5,199.6 162.4,199.0 163.2,198.0 163.5,197.0 164.0,187.0 165.0,185.5 167.0,184.4 172.5,182.3 178.0,181.1 180.5,180.1 184.5,181.8 185.5,182.5 187.5,183.4 189.5,184.2 191.0,184.4 192.0,184.9 193.5,185.0 195.0,185.8 196.1,187.5 196.2,188.5 196.7,189.5 197.1,199.0 197.5,200.5 197.6,202.0 198.2,203.5 200.5,206.5 201.5,208.5 203.4,214.5 203.9,215.5 204.2,217.5 204.7,218.5 205.3,222.5 205.0,224.5 205.0,227.0 204.8,227.5 204.7,229.0 204.4,229.5 204.3,230.5 202.8,233.5 199.5,238.0 197.0,240.3 195.5,241.2 189.5,243.6 188.0,243.7 186.5,244.1 181.5,244.4 180.0,244.9 166.5,245.4 157.5,245.9 152.5,247.9 146.0,249.0Z" fill="#003bf9" fill-rule="evenodd"/>
<path d="M144.5,247.5 140.5,247.4 137.5,246.9 135.0,245.7 134.0,244.8 133.5,244.6 130.8,242.0 130.6,241.5 129.6,240.5 126.6,234.5 126.2,233.0 125.6,228.5 125.8,225.5 126.6,223.5 128.0,221.3 128.2,220.5 128.7,220.0 129.2,218.5 131.0,215.9 133.5,213.4 135.0,212.3 137.0,211.2 138.7,210.5 141.0,209.9 147.5,209.4 150.5,208.8 153.3,207.5 157.0,203.9 159.0,204.0 160.5,203.8 162.0,203.3 163.0,202.6 164.5,201.2 165.7,199.0 166.1,197.5 166.7,191.5 167.6,188.5 168.0,188.0 170.4,186.5 173.0,185.3 175.1,184.5 180.5,183.7 182.5,184.3 188.0,186.5 192.5,188.4 193.5,190.2 193.8,191.5 195.2,206.0 197.9,212.0 200.5,216.1 202.0,219.0 203.1,222.5 203.2,226.0 202.6,230.0 201.2,233.0 198.2,237.0 196.0,238.8 194.0,240.0 189.5,242.0 186.5,242.6 181.5,243.2 179.0,243.7 171.0,244.2 166.5,244.3 158.5,244.9 155.5,245.4 154.5,245.9 150.0,246.4 149.5,246.8 144.5,247.5Z" fill="#0054fb" fill-rule="evenodd"/>
<path d="M146.5,246.5 144.0,246.9 141.0,246.9 137.5,246.3 135.5,245.3 133.5,243.7 131.5,241.8 129.7,239.5 128.7,237.5 128.5,236.5 128.1,236.0 127.3,233.5 127.1,225.5 127.1,225.0 127.6,224.5 127.8,223.0 128.5,221.7 128.7,221.0 129.1,220.5 129.7,219.0 130.7,217.5 133.0,215.1 134.5,213.8 136.0,212.8 139.0,211.3 140.5,211.1 141.5,210.7 146.0,210.5 146.5,210.3 151.5,210.1 153.5,209.6 158.5,209.6 161.0,209.2 163.5,209.2 166.0,208.7 169.0,207.7 170.5,206.8 171.9,205.5 173.2,204.0 173.6,203.0 173.6,202.0 172.4,200.0 171.8,198.0 172.4,193.5 173.0,192.4 176.5,190.0 178.5,189.4 180.0,189.8 184.2,192.0 186.3,194.5 187.6,197.5 187.9,199.0 187.6,201.0 186.2,203.5 185.8,207.0 186.1,208.5 187.6,210.5 191.5,213.4 194.3,216.5 198.5,219.7 199.7,221.0 200.3,222.0 201.1,225.5 201.1,227.5 200.8,229.5 200.2,231.0 198.8,233.5 196.5,236.2 194.5,237.7 191.0,239.8 188.5,240.8 186.0,241.4 181.5,241.9 178.0,242.7 172.5,242.9 171.0,243.2 166.5,243.3 164.5,243.4 163.0,243.8 159.0,244.0 156.0,244.5 154.0,245.3 149.5,245.9 149.0,246.3 146.5,246.5Z" fill="#006cfd" fill-rule="evenodd"/>
<path d="M180.5,203.0 180.0,203.2 179.4,203.0 179.0,202.5 179.0,201.5 179.5,200.5 180.0,200.0 181.0,199.5 181.5,199.6 181.8,200.0 181.8,201.0 181.4,202.0 180.5,203.0ZM144.5,246.5 143.5,246.7 141.0,246.7 140.0,246.3 138.0,246.1 136.5,245.5 135.0,244.5 132.0,241.9 130.4,240.0 128.9,237.0 127.7,233.5 127.4,228.5 127.4,225.0 127.8,224.5 128.2,223.0 129.1,221.0 131.0,217.8 133.0,215.5 135.7,213.5 139.0,211.8 141.5,211.1 148.5,210.8 153.5,210.4 159.0,210.7 164.0,210.5 167.6,210.0 172.0,209.1 175.0,209.6 177.5,209.5 180.5,210.7 183.5,211.4 190.0,214.4 192.8,217.0 198.0,220.9 199.0,222.0 199.5,223.1 200.2,225.5 200.2,228.0 199.5,230.5 198.2,233.0 197.0,234.6 195.0,236.5 192.8,238.0 189.0,240.0 186.0,240.8 181.0,241.6 179.4,242.0 171.0,242.7 167.0,242.7 162.5,243.4 158.0,243.7 155.5,244.3 153.6,245.0 149.5,245.7 148.5,246.0 144.5,246.5Z" fill="#0085fe" fill-rule="evenodd"/>
<path d="M146.0,246.0 143.5,246.5 141.0,246.3 138.0,245.7 135.5,244.4 132.2,241.5 130.8,240.0 129.3,237.0 128.1,233.5 127.7,228.0 127.8,225.5 128.5,223.0 129.5,221.0 131.0,218.5 133.2,216.0 136.0,214.0 139.0,212.4 141.5,211.7 144.5,211.4 153.5,211.4 159.5,212.2 165.0,212.1 170.5,211.6 174.5,212.3 178.0,212.4 182.0,213.1 184.0,213.7 189.0,216.0 193.5,219.2 196.5,221.7 197.8,223.0 198.6,224.5 199.0,226.5 198.8,228.5 198.2,230.5 196.5,233.5 195.0,235.2 192.7,237.0 189.0,239.0 185.5,240.1 179.0,241.4 174.5,241.7 171.0,242.1 167.0,242.1 158.0,243.3 155.5,243.8 153.8,244.5 146.0,246.0Z" fill="#009efe" fill-rule="evenodd"/>
<path d="M143.5,246.0 141.5,246.0 138.0,245.3 136.5,244.5 134.0,242.6 132.5,241.2 130.8,239.0 129.2,235.5 128.5,233.0 128.1,228.5 128.1,226.0 129.0,223.1 129.8,221.5 131.5,218.8 133.6,216.5 136.5,214.4 139.5,212.9 142.0,212.3 147.0,212.0 152.0,212.4 158.5,213.4 162.5,213.4 167.0,213.8 170.5,213.5 174.0,214.0 178.0,214.0 181.5,214.6 183.5,215.2 187.5,216.9 192.0,219.8 195.6,223.0 197.0,225.0 197.3,226.5 197.2,228.5 196.3,231.0 195.0,233.2 193.3,235.0 191.0,236.7 189.5,237.6 186.1,239.0 179.0,240.6 174.5,240.9 170.5,241.4 167.0,241.3 158.0,242.6 155.5,243.2 152.5,244.2 146.8,245.5 143.5,246.0Z" fill="#00b8f9" fill-rule="evenodd"/>
<path d="M143.5,245.6 141.5,245.6 138.5,244.9 136.0,243.5 133.0,241.0 131.7,239.5 130.6,237.5 129.6,235.0 129.0,232.6 128.6,228.5 128.7,226.0 129.4,223.5 130.5,221.5 132.1,219.0 134.5,216.6 137.0,214.9 139.5,213.7 142.5,213.0 147.0,212.8 151.5,213.3 158.0,214.6 162.5,214.5 167.0,215.2 170.5,215.1 173.5,215.3 177.0,215.2 180.0,215.7 183.5,216.7 186.5,217.9 188.5,219.0 191.0,220.7 192.5,222.0 194.4,224.0 195.3,225.5 195.6,227.0 195.3,229.0 194.5,231.0 193.2,233.0 191.7,234.5 190.0,235.8 185.0,238.3 179.0,239.7 174.5,239.9 170.5,240.5 167.0,240.5 159.5,241.6 155.5,242.4 152.6,243.5 148.5,244.6 143.5,245.6Z" fill="#00d3f4" fill-rule="evenodd"/>
<path d="M144.0,245.0 141.5,245.1 138.5,244.4 137.0,243.5 134.0,241.1 132.5,239.5 131.5,238.0 130.3,235.0 129.6,232.5 129.2,229.5 129.2,227.0 129.3,226.0 130.1,223.5 132.3,220.0 134.0,218.0 136.5,216.0 139.0,214.6 142.0,213.8 145.0,213.6 150.5,214.3 157.5,215.8 162.0,215.6 167.0,216.3 176.0,216.3 179.5,216.7 183.5,217.9 187.0,219.5 189.0,220.7 190.5,221.8 191.7,223.0 192.8,224.5 193.2,225.5 193.7,227.5 193.6,229.0 193.1,230.5 192.2,232.0 190.9,233.5 189.5,234.7 184.2,237.5 179.0,238.8 174.5,239.0 170.0,239.7 166.5,239.7 160.5,240.5 155.5,241.5 151.5,243.1 146.5,244.5 144.0,245.0Z" fill="#02e9e9" fill-rule="evenodd"/>
<path d="M143.5,244.6 141.5,244.5 138.5,243.7 137.0,242.8 134.0,240.3 132.8,239.0 131.8,237.0 130.3,232.5 130.0,230.5 129.8,228.0 129.9,226.0 130.6,224.0 131.5,222.4 133.2,220.0 135.0,218.0 137.0,216.4 139.0,215.4 142.0,214.6 145.0,214.4 151.0,215.5 157.5,217.1 162.0,216.7 167.0,217.3 175.0,217.2 179.5,217.7 183.0,218.7 188.0,221.2 190.0,222.7 191.3,224.5 191.6,226.0 191.8,229.0 191.7,230.0 191.0,231.5 190.0,232.8 189.0,233.7 183.5,236.7 178.5,238.0 160.5,239.5 155.0,240.7 150.7,242.5 146.0,244.1 143.5,244.6Z" fill="#0fedc2" fill-rule="evenodd"/>
<path d="M143.5,244.0 141.6,244.0 139.0,243.3 137.5,242.5 134.5,240.0 133.3,238.5 132.5,237.0 130.6,230.5 130.4,228.5 130.5,226.5 131.7,223.5 133.7,220.5 135.5,218.5 137.0,217.2 139.0,216.1 141.5,215.4 144.0,215.2 145.5,215.4 148.0,216.2 151.5,216.8 157.5,218.4 162.5,217.9 174.5,218.1 180.0,218.5 182.5,219.3 187.5,222.1 189.0,223.1 190.0,224.5 190.4,226.0 190.4,229.0 190.2,230.5 189.7,231.5 188.9,232.5 188.0,233.2 183.0,235.8 180.0,236.8 177.5,237.2 169.0,238.0 162.5,238.1 160.5,238.3 154.5,239.8 151.0,241.5 148.0,242.7 145.5,243.6 143.5,244.0Z" fill="#1cf19c" fill-rule="evenodd"/>
<path d="M142.5,243.5 140.5,243.2 139.0,242.7 137.0,241.4 134.5,239.1 133.7,238.0 133.0,236.5 131.1,230.0 131.0,228.5 131.2,226.5 132.2,224.0 133.5,222.0 135.9,219.0 137.5,217.6 139.0,216.8 141.5,216.1 144.0,216.0 148.0,217.3 151.5,218.0 155.0,219.2 157.5,219.7 163.0,219.0 169.5,218.8 180.0,219.2 182.5,220.1 187.0,222.8 188.5,224.0 189.1,225.0 189.4,226.5 189.4,229.0 189.0,230.5 188.5,231.5 187.0,232.8 182.5,235.1 178.5,236.3 176.0,236.7 168.5,237.3 163.5,236.9 160.0,237.3 154.5,238.9 150.5,240.9 145.5,242.9 142.5,243.5Z" fill="#28f576" fill-rule="evenodd"/>
<path d="M144.5,242.6 142.5,242.9 140.0,242.5 138.0,241.5 135.6,239.5 134.7,238.5 133.9,237.0 131.7,230.0 131.6,228.5 131.9,226.5 133.2,223.5 136.5,219.3 138.0,218.1 139.5,217.3 142.0,216.7 144.0,216.8 148.0,218.2 151.0,219.0 153.5,220.1 157.5,221.0 159.0,221.0 164.5,219.9 168.0,219.6 171.5,219.5 176.0,219.8 180.0,219.9 182.5,220.8 186.0,223.0 187.5,224.2 188.3,225.5 188.5,226.5 188.5,228.5 188.2,230.0 187.7,231.0 186.0,232.4 182.5,234.1 178.0,235.6 175.5,236.0 168.0,236.5 163.0,235.8 159.0,236.4 155.0,237.6 150.0,240.2 144.5,242.6Z" fill="#2ff35d" fill-rule="evenodd"/>
<path d="M144.0,242.1 142.0,242.3 140.0,241.9 138.0,240.9 136.0,239.2 134.5,237.0 132.3,230.0 132.2,228.5 132.4,227.0 133.7,224.0 135.4,221.5 137.0,219.6 138.0,218.8 139.5,218.0 142.0,217.4 144.0,217.5 150.0,219.7 153.0,221.1 158.0,222.3 162.5,221.6 166.0,220.7 168.0,220.4 171.0,220.2 176.0,220.6 180.0,220.5 182.0,221.2 184.5,222.8 186.5,224.4 187.3,225.5 187.6,226.5 187.6,228.0 187.4,229.5 186.9,230.5 185.5,231.9 183.0,233.1 177.1,235.0 175.0,235.4 168.0,235.8 163.5,234.8 156.5,235.8 155.0,236.4 151.7,238.5 147.5,240.7 144.0,242.1Z" fill="#35f243" fill-rule="evenodd"/>
<path d="M143.5,241.5 142.0,241.7 140.0,241.3 138.4,240.5 136.5,239.0 135.7,238.0 134.9,236.5 132.9,230.0 132.8,228.5 133.1,227.0 134.3,224.0 137.0,220.4 138.0,219.5 139.5,218.7 142.0,218.1 144.0,218.2 149.5,220.5 153.0,222.2 157.5,223.7 158.5,223.7 163.0,223.0 167.0,221.5 168.5,221.2 172.0,221.0 175.5,221.2 180.0,221.2 182.0,222.0 184.5,223.6 186.0,225.0 186.6,226.0 186.8,228.0 186.2,230.0 185.0,231.3 183.0,232.3 177.0,234.2 175.0,234.7 171.0,234.7 168.0,234.9 164.5,234.0 163.5,233.8 156.0,234.6 154.5,235.3 151.7,237.5 147.4,240.0 145.5,240.9 143.5,241.5Z" fill="#3cf02a" fill-rule="evenodd"/>
<path d="M142.5,241.0 141.0,241.0 139.5,240.5 138.0,239.6 136.5,238.2 135.3,236.0 133.5,230.0 133.6,227.5 134.3,225.5 135.0,224.0 137.5,220.7 138.5,219.8 140.0,219.1 142.5,218.7 145.0,219.2 149.7,221.5 156.0,225.7 157.5,226.4 158.5,226.4 161.2,225.0 165.0,223.7 168.0,222.4 173.0,221.8 179.0,221.8 180.5,222.1 184.0,224.2 184.9,225.0 185.6,226.0 185.8,227.5 185.3,229.5 184.5,230.6 182.5,231.6 176.5,233.6 174.5,233.9 171.0,233.8 168.0,234.0 164.5,232.9 163.0,232.7 159.0,232.8 155.5,233.1 154.0,233.9 152.1,236.0 150.9,237.0 147.5,239.2 145.0,240.4 142.5,241.0Z" fill="#66f222" fill-rule="evenodd"/>
<path d="M144.0,240.1 142.0,240.4 140.5,240.3 139.0,239.6 137.5,238.5 136.5,237.4 135.8,236.0 134.0,230.0 134.0,228.5 134.5,226.5 135.3,224.5 136.2,223.0 137.5,221.4 138.6,220.5 140.0,219.7 141.5,219.4 143.0,219.4 144.5,219.8 147.1,221.0 149.7,222.5 151.5,224.0 153.5,226.6 155.8,228.5 156.4,229.5 156.4,230.0 156.1,230.5 154.0,231.7 153.1,232.5 151.6,235.0 150.2,236.5 146.5,239.1 144.0,240.1ZM175.0,233.0 171.0,232.8 168.0,232.8 163.5,231.2 162.3,230.5 161.7,229.5 161.6,228.5 161.9,227.5 162.6,226.5 163.2,226.0 168.0,223.7 170.0,223.1 173.0,222.5 178.0,222.5 179.5,222.7 182.2,224.0 184.0,225.5 184.6,226.5 184.6,228.0 184.3,229.0 183.5,230.0 182.5,230.6 180.2,231.5 177.0,232.6 175.0,233.0Z" fill="#93f31c" fill-rule="evenodd"/>
<path d="M144.0,239.5 142.0,239.8 140.5,239.6 139.0,239.0 137.7,238.0 136.9,237.0 136.1,235.5 134.6,230.5 134.5,229.0 134.8,227.5 135.4,225.5 136.2,224.0 137.3,222.5 138.5,221.2 139.5,220.6 141.0,220.1 143.0,220.1 144.5,220.5 149.0,223.0 150.2,224.0 150.9,225.0 151.8,226.5 152.5,228.5 152.3,230.0 151.1,233.5 150.3,235.0 148.9,236.5 147.0,238.0 145.5,238.9 144.0,239.5ZM176.0,232.0 173.5,232.2 167.5,231.1 166.0,230.4 164.7,229.5 164.4,229.0 164.3,228.0 165.0,227.0 168.2,225.0 170.5,224.0 173.0,223.3 176.0,223.2 178.5,223.3 180.3,224.0 182.4,225.5 183.0,226.3 183.2,227.0 183.2,228.0 182.6,229.0 180.4,230.5 178.0,231.5 176.0,232.0Z" fill="#c0f515" fill-rule="evenodd"/>
<path d="M143.5,239.0 142.0,239.2 140.5,239.0 139.0,238.3 137.9,237.5 137.0,236.3 136.4,235.0 135.1,230.0 135.1,228.5 135.4,227.0 136.2,225.0 137.0,223.7 139.0,221.6 140.0,221.0 141.5,220.7 143.0,220.8 144.5,221.2 148.5,223.7 150.2,225.5 150.7,226.5 151.1,228.0 151.0,229.5 150.3,232.5 149.5,234.5 148.3,236.0 146.5,237.5 145.0,238.5 143.5,239.0ZM176.5,231.1 175.0,231.3 173.5,231.3 170.0,230.3 168.5,229.5 167.9,229.0 167.6,228.5 167.7,227.5 168.4,226.5 169.5,225.6 172.5,224.2 174.0,223.9 175.5,223.8 177.5,223.9 178.5,224.2 179.9,225.0 180.9,226.0 181.4,227.0 181.4,228.0 180.8,229.0 179.5,230.0 176.5,231.1Z" fill="#d9ef0e" fill-rule="evenodd"/>
<path d="M143.0,238.5 141.5,238.6 140.5,238.4 139.0,237.7 138.0,236.8 137.4,236.0 136.6,234.5 135.9,232.0 135.6,230.0 135.6,228.5 135.9,227.0 136.5,225.5 137.4,224.0 138.5,222.7 139.5,221.9 141.5,221.3 142.5,221.3 144.0,221.8 147.5,224.0 148.6,225.0 149.4,226.0 150.1,228.0 150.0,229.5 149.5,232.0 149.0,233.5 148.4,234.5 147.2,236.0 145.5,237.4 144.5,238.0 143.0,238.5ZM177.0,230.1 175.5,230.4 174.0,230.4 171.5,229.7 170.4,229.0 170.0,228.5 169.8,228.0 170.0,227.0 171.5,225.6 173.5,224.8 176.0,224.5 178.0,225.0 178.8,225.5 179.6,226.5 179.9,227.5 179.8,228.0 179.0,229.1 177.0,230.1Z" fill="#eee706" fill-rule="evenodd"/>
<path d="M144.0,237.5 142.5,238.0 141.5,238.0 140.0,237.6 139.0,237.0 138.0,236.0 137.4,235.0 136.3,231.5 136.0,230.0 136.1,228.5 137.0,225.5 138.0,224.0 139.0,223.0 140.0,222.3 141.0,222.0 143.0,222.1 145.5,223.5 148.3,226.0 148.9,227.0 149.2,228.0 149.2,229.5 148.9,231.0 148.0,233.5 146.2,236.0 145.0,237.0 144.0,237.5ZM177.0,229.1 175.5,229.4 173.5,229.2 172.2,228.5 171.9,228.0 171.8,227.5 172.4,226.5 173.5,225.8 175.0,225.4 176.5,225.5 177.6,226.0 178.3,227.0 178.2,228.0 177.9,228.5 177.0,229.1Z" fill="#ffd900" fill-rule="evenodd"/>
<path d="M143.5,237.0 142.5,237.3 141.0,237.2 140.0,236.9 139.0,236.2 137.7,234.5 136.7,231.5 136.5,230.0 136.6,228.5 137.3,226.0 138.0,224.8 139.0,223.7 140.0,223.0 141.0,222.7 142.0,222.6 143.0,222.9 144.9,224.0 147.5,226.5 148.0,227.5 148.3,228.5 148.1,231.0 147.1,233.5 145.5,235.6 144.5,236.5 143.5,237.0Z" fill="#ffb000" fill-rule="evenodd"/>
<path d="M142.5,236.6 141.5,236.6 140.5,236.4 139.5,235.9 138.6,235.0 137.5,233.0 137.0,230.5 137.1,228.0 138.2,225.5 139.5,224.0 140.5,223.5 141.5,223.3 143.0,223.6 145.0,225.0 146.7,227.0 147.2,228.0 147.4,229.0 147.1,231.5 145.8,234.0 144.5,235.6 143.5,236.3 142.5,236.6Z" fill="#ff8800" fill-rule="evenodd"/>
<path d="M143.0,235.7 142.0,235.9 141.0,235.8 139.5,235.1 138.3,233.5 137.5,231.0 137.5,228.5 138.2,226.5 139.5,224.8 141.0,224.1 142.5,224.2 144.0,225.1 145.6,227.0 146.2,228.0 146.5,229.0 146.4,231.0 145.6,233.0 144.5,234.6 143.0,235.7Z" fill="#fa5f03" fill-rule="evenodd"/>
<path d="M142.5,235.1 141.0,235.1 139.5,234.2 138.5,232.8 138.0,231.0 138.0,229.0 138.6,227.0 139.5,225.7 141.0,224.9 142.5,225.0 143.8,226.0 145.3,228.0 145.7,229.5 145.6,231.0 144.7,233.0 143.5,234.5 142.5,235.1Z" fill="#f33507" fill-rule="evenodd"/>
</g>

<rect x="113.3" y="144.5" width="111.9" height="111.2" fill="none" stroke="#999" stroke-width="1"/>
<line x1="158.40" y1="144.50" x2="158.40" y2="255.70" stroke="#111" stroke-width="1.2"/>
<line x1="113.30" y1="203.50" x2="225.20" y2="203.50" stroke="#111" stroke-width="1.2"/>
<clipPath id="fc3"><path d="M313.6,158.6 314.6,158.9 315.6,159.1 316.5,159.4 317.4,159.8 318.3,160.3 319.1,160.9 320.0,161.3 321.0,161.6 322.0,161.9 323.0,162.1 324.1,162.1 325.2,161.8 326.3,161.4 327.4,161.2 328.4,161.2 329.4,161.7 330.2,162.4 330.8,163.3 331.2,164.2 331.7,165.0 332.4,165.8 333.1,166.6 333.6,167.5 333.7,168.5 333.5,169.6 333.5,170.6 333.9,171.5 334.7,172.4 335.5,173.4 335.8,174.4 335.7,175.4 335.2,176.4 334.8,177.5 334.6,178.5 334.5,179.5 334.6,180.5 334.7,181.5 334.7,182.5 334.5,183.5 334.1,184.5 333.6,185.4 333.2,186.3 332.9,187.3 333.0,188.4 333.5,189.4 334.1,190.2 334.6,190.6 335.0,191.2 335.6,192.0 336.1,193.1 335.6,193.8 334.9,194.0 334.0,194.5 333.2,195.1 332.4,195.7 331.6,196.4 331.1,197.2 331.0,198.2 331.2,199.1 331.4,200.1 331.5,201.0 331.7,202.0 331.9,203.0 331.9,204.0 331.7,205.1 331.5,206.1 331.3,207.1 331.2,208.0 331.4,209.1 331.9,210.1 332.4,211.2 332.5,212.2 332.1,213.2 331.5,214.1 331.1,215.1 330.9,216.1 330.9,217.1 330.8,218.1 330.7,219.1 330.5,220.1 330.3,221.1 330.1,222.1 329.5,223.0 328.9,223.8 328.2,224.7 327.6,225.5 327.2,226.4 327.0,227.3 327.0,228.4 326.9,229.5 326.5,230.5 325.8,231.2 324.8,231.8 323.8,232.2 323.0,232.8 322.2,233.4 321.4,233.9 320.5,234.4 319.6,234.7 318.8,235.3 318.1,236.0 317.5,236.9 316.8,237.7 316.1,238.4 315.2,238.9 314.3,239.4 313.4,239.7 312.4,240.0 311.5,240.3 310.6,240.8 309.7,241.5 308.9,242.3 308.0,242.9 306.9,243.1 305.9,242.9 304.8,242.6 303.8,242.5 302.8,242.8 301.8,243.3 300.9,243.9 299.9,244.3 298.9,244.4 297.9,244.1 296.8,243.7 295.8,243.3 294.7,243.0 293.7,243.0 292.7,243.3 291.8,243.6 290.8,243.9 289.8,244.0 288.8,244.2 287.8,244.4 286.8,244.7 285.8,244.8 284.8,244.8 283.8,244.7 282.8,244.5 281.8,244.4 280.8,244.5 279.8,244.6 278.8,244.6 277.8,244.2 276.8,243.7 275.9,243.2 274.9,243.1 273.9,243.3 272.8,243.6 271.8,243.6 270.9,243.3 269.9,242.8 268.9,242.6 267.9,242.6 266.9,242.7 265.8,242.8 264.7,242.8 263.6,242.7 262.6,242.5 261.6,242.0 260.8,241.1 260.2,240.1 259.8,239.0 259.5,238.0 259.4,237.0 259.2,236.0 258.8,235.1 258.4,234.2 258.3,233.2 258.4,232.2 258.7,231.2 258.9,230.3 259.1,229.3 259.2,228.3 259.2,227.3 259.2,226.3 259.1,225.3 259.1,224.3 259.1,223.3 259.1,222.3 259.3,221.4 259.7,220.4 260.1,219.5 260.4,218.6 260.5,217.6 260.5,216.5 260.4,215.5 260.4,214.4 260.5,213.4 260.6,212.3 260.8,211.3 261.1,210.4 261.5,209.5 262.0,208.5 262.5,207.7 263.1,206.8 264.0,206.1 264.9,205.4 265.6,204.7 266.2,203.8 266.5,202.9 266.9,202.0 267.4,201.1 267.9,200.3 268.4,199.4 268.8,198.5 269.0,197.4 269.2,196.4 269.3,195.3 269.3,194.3 268.9,193.1 268.4,192.0 268.2,191.0 268.6,190.1 269.4,189.3 270.2,188.4 270.8,187.5 271.2,186.6 271.5,185.6 271.6,184.6 271.9,183.6 272.3,182.7 273.0,181.9 273.6,181.0 274.0,180.1 274.2,179.1 274.4,178.2 274.8,177.2 275.3,176.4 276.0,175.7 276.7,175.0 277.2,174.2 277.6,173.2 278.0,172.3 278.7,171.5 279.3,170.8 279.9,169.9 280.4,168.9 281.4,168.0 283.1,168.3 283.6,169.7 283.7,170.6 283.8,170.9 284.2,170.9 285.0,170.8 286.1,170.7 287.1,170.7 288.1,170.4 289.0,169.9 289.8,169.3 290.7,168.8 291.6,168.4 292.5,168.0 293.4,167.6 294.3,167.0 295.2,166.6 296.2,166.4 297.2,166.2 298.1,165.8 298.9,165.1 299.6,164.3 300.4,163.5 301.2,162.8 302.0,162.4 303.0,162.1 304.0,161.9 305.1,161.8 306.2,161.8 307.2,161.7 308.1,161.3 308.9,160.6 309.7,159.8 310.5,159.0 311.4,158.6 312.5,158.5Z"/></clipPath>
<g clip-path="url(#fc3)">
<rect x="242.8" y="144.5" width="111.69999999999999" height="111.19999999999999" fill="#0018d7"/>
<path d="M270.5,250.0 268.5,250.1 267.0,249.6 265.5,248.5 263.0,246.0 259.5,244.3 258.0,243.0 256.9,241.0 255.1,236.0 254.4,232.5 254.2,229.0 254.4,227.5 255.3,224.0 255.3,220.0 256.2,216.0 257.0,214.7 258.9,212.5 261.0,209.0 262.0,208.0 263.5,206.9 263.7,206.0 264.2,205.5 264.3,205.0 264.9,204.5 265.0,204.0 266.0,202.9 268.5,198.3 269.2,197.5 269.8,196.0 269.8,195.5 270.6,193.0 270.5,192.0 270.9,191.5 270.9,189.0 271.3,188.5 271.2,186.0 271.6,185.5 271.6,184.0 273.0,179.5 274.0,177.5 274.5,177.0 274.6,176.5 275.0,176.0 275.1,175.5 276.0,174.5 276.1,174.0 277.5,172.5 277.6,172.0 278.5,171.1 279.5,170.1 280.0,170.1 281.5,168.7 282.0,168.6 282.5,169.0 282.9,169.0 284.8,168.0 286.0,166.0 287.0,165.0 292.0,162.7 294.5,161.9 296.0,161.7 299.5,161.6 309.0,160.0 309.5,159.7 311.0,159.6 311.5,159.2 313.0,159.2 313.5,158.8 314.0,158.8 317.5,158.9 318.0,159.4 319.5,159.4 320.0,159.9 321.0,159.9 321.5,160.4 322.5,160.5 323.0,160.9 325.0,160.9 325.5,161.4 327.0,161.4 327.5,161.9 328.5,161.9 329.0,162.4 329.5,162.4 330.0,162.8 330.5,162.8 331.9,164.0 332.0,164.5 333.5,165.2 334.5,166.0 339.3,171.5 340.8,174.0 341.9,177.5 343.9,180.5 344.3,182.0 344.1,183.0 343.0,185.5 343.6,188.5 343.3,190.0 342.0,191.5 341.0,192.0 339.5,192.3 338.5,193.0 337.7,194.5 337.1,197.5 336.4,199.0 331.6,203.5 331.9,204.0 331.4,209.5 330.9,210.5 331.0,214.0 330.6,214.5 330.7,217.0 330.2,217.5 330.3,219.5 331.8,221.5 332.2,222.5 332.3,223.5 331.4,228.0 330.6,230.0 329.0,231.7 327.0,233.4 326.0,233.8 322.5,234.7 321.5,235.3 320.0,236.9 319.0,237.6 317.5,238.3 316.0,238.6 314.0,239.7 313.0,239.7 311.5,240.5 310.0,240.5 309.0,240.8 308.0,240.8 307.0,241.2 305.0,241.2 304.0,241.7 301.0,242.0 300.5,242.4 300.0,242.5 297.5,242.6 297.0,243.1 293.5,243.5 293.0,243.9 290.6,244.0 287.0,245.8 281.8,246.5 279.0,248.2 275.5,249.4 274.0,249.7 270.5,250.0Z" fill="#002ae8" fill-rule="evenodd"/>
<path d="M273.5,247.1 269.5,247.5 268.0,247.3 266.5,246.3 264.0,243.7 260.9,241.5 260.3,240.5 259.9,239.0 259.2,238.0 259.1,237.5 258.7,237.0 258.5,236.2 257.2,234.0 256.8,232.0 256.5,228.5 256.7,227.0 257.6,223.5 257.6,219.5 258.2,217.5 261.0,213.5 261.2,212.5 262.3,211.0 262.5,210.2 263.1,209.5 263.3,209.0 264.4,207.5 264.9,206.5 268.3,202.5 270.9,198.5 271.6,197.0 272.3,192.0 272.2,190.0 272.4,188.5 272.2,186.5 272.5,184.5 274.0,180.0 277.0,174.5 279.0,172.0 281.5,170.2 282.5,171.3 283.5,171.8 285.0,171.6 285.5,171.2 286.0,171.1 287.5,170.3 288.0,170.2 288.5,169.7 289.0,169.6 289.5,169.2 290.0,169.1 290.5,168.6 290.9,168.5 292.0,166.8 293.0,166.0 296.0,165.1 299.0,164.6 299.5,164.3 300.0,164.3 301.5,163.5 303.5,163.1 307.5,161.3 310.0,160.7 314.0,160.0 316.5,160.1 322.5,162.0 324.0,162.1 326.0,162.6 330.0,164.0 330.6,164.5 332.0,166.5 332.7,168.5 333.3,169.5 333.6,171.0 334.3,171.5 334.5,172.0 335.5,172.1 336.5,172.6 337.5,173.8 338.4,176.0 339.3,179.5 340.7,182.0 340.5,183.0 339.5,185.0 338.6,187.5 335.5,192.5 336.0,193.5 335.0,194.8 334.5,195.0 333.0,197.0 331.0,198.8 330.6,200.0 330.4,201.0 330.6,202.0 330.3,203.5 330.4,205.0 329.8,209.0 329.4,210.0 329.5,213.0 329.2,214.0 329.2,216.0 329.0,217.0 329.1,219.5 329.4,221.5 329.1,222.0 329.2,223.5 328.9,224.0 328.9,225.0 328.6,225.5 328.5,227.0 328.0,228.1 327.0,229.5 325.4,231.0 325.2,231.5 324.0,232.5 321.5,234.0 318.5,236.5 314.5,238.3 310.5,239.3 306.5,239.9 304.5,239.9 303.5,240.3 301.0,240.7 299.5,241.3 297.0,241.6 296.1,242.0 293.5,242.5 292.5,242.9 289.5,243.1 288.0,243.7 279.5,244.5 277.0,246.2 273.5,247.1Z" fill="#003bf9" fill-rule="evenodd"/>
<path d="M271.0,245.5 269.0,245.7 267.5,245.1 264.5,242.2 262.0,240.6 261.5,240.0 259.4,236.5 258.6,234.5 258.1,230.0 258.2,226.0 258.4,224.0 258.7,223.5 258.7,221.0 259.0,220.5 259.1,219.0 262.6,212.0 264.5,209.3 266.5,207.0 273.4,202.0 274.3,201.0 274.8,198.5 274.9,196.5 273.9,190.5 273.5,187.0 273.7,185.0 275.5,179.5 278.1,175.0 280.5,172.4 281.0,172.3 283.0,172.7 285.0,172.3 290.5,169.8 293.5,167.7 295.5,166.7 300.5,165.3 307.5,162.4 310.5,161.7 312.5,161.5 315.5,161.6 320.5,163.1 326.0,164.3 329.0,165.4 330.2,167.0 332.5,171.3 333.5,172.5 334.3,175.0 334.8,175.5 335.0,176.5 336.2,178.0 336.7,179.5 337.2,183.5 337.0,185.0 336.5,186.5 334.0,191.0 333.9,191.5 334.8,193.5 332.3,195.5 330.4,197.5 329.1,201.0 328.9,202.5 327.3,207.0 326.9,210.0 327.3,212.5 327.2,216.5 328.1,220.5 328.1,223.0 327.7,226.0 326.0,229.1 324.0,231.3 321.4,233.0 318.0,235.7 314.0,237.2 310.5,238.0 306.0,238.4 304.5,238.4 301.5,239.0 299.0,239.7 297.0,240.1 292.0,241.8 289.5,242.1 287.5,242.7 284.0,243.2 280.5,243.4 276.5,244.2 275.5,244.3 275.0,243.8 273.0,244.0 272.1,245.0 271.0,245.5Z" fill="#0054fb" fill-rule="evenodd"/>
<path d="M270.0,244.3 269.0,244.4 268.0,244.1 266.0,242.4 264.0,241.3 262.5,240.1 260.7,237.5 259.2,234.5 258.7,231.5 258.6,228.0 258.7,225.5 259.2,223.5 259.3,221.0 259.5,220.5 259.7,219.0 262.8,213.0 265.2,210.0 267.5,207.8 268.5,207.2 270.0,206.7 272.0,206.3 277.0,206.2 281.0,207.2 281.6,207.5 282.9,210.0 283.5,210.5 286.0,211.8 288.0,213.2 288.5,213.3 289.5,213.2 290.0,213.1 290.6,212.5 291.7,210.5 292.0,209.0 291.9,208.0 291.5,207.4 288.0,204.9 285.3,201.5 282.5,199.8 281.4,198.5 280.5,197.0 280.0,196.5 278.5,195.8 277.5,195.0 276.7,194.0 276.2,193.0 274.7,187.5 274.8,186.0 276.7,179.5 279.2,175.5 281.0,173.8 283.5,173.6 285.3,173.0 291.5,170.1 295.0,167.8 298.0,166.7 299.5,166.5 301.4,166.0 305.0,164.1 307.5,163.2 310.5,162.7 314.5,162.9 316.0,163.2 319.0,164.6 321.0,165.0 323.5,165.2 325.5,165.8 327.5,166.7 330.8,170.5 331.4,171.5 332.3,172.5 334.2,176.5 334.8,179.5 334.9,181.0 334.4,181.5 334.5,183.0 335.1,185.0 334.8,186.5 333.5,188.5 333.1,190.5 333.4,193.5 331.5,194.9 329.4,197.0 328.8,199.0 327.6,201.5 326.7,203.0 324.9,205.0 324.4,206.5 323.9,209.0 323.9,212.0 325.3,215.5 326.8,220.5 326.8,225.5 326.3,227.0 325.7,228.0 323.0,231.2 321.0,232.4 317.5,235.1 316.0,235.7 314.5,235.9 314.0,236.2 311.0,236.9 308.0,237.2 304.5,237.1 302.0,237.4 296.5,238.9 292.5,240.7 288.6,241.5 288.0,241.8 285.0,242.4 281.0,242.5 277.0,243.3 276.0,243.3 275.5,242.9 275.0,242.9 273.0,242.9 271.5,243.7 271.0,243.4 270.0,244.3Z" fill="#006cfd" fill-rule="evenodd"/>
<path d="M270.0,243.6 269.0,243.9 268.0,243.5 262.9,240.0 262.4,239.5 261.0,237.3 259.5,234.0 259.0,230.5 258.9,227.0 259.8,219.5 260.4,218.0 263.5,212.7 266.0,209.7 268.0,208.2 270.5,207.3 273.5,207.1 275.8,207.5 278.0,208.6 280.0,209.3 282.3,211.0 285.2,212.5 287.5,214.1 288.5,214.5 289.5,214.6 290.5,214.2 291.2,213.5 294.5,208.0 295.5,207.0 297.0,206.0 297.4,205.5 297.5,205.0 297.0,204.6 296.5,204.5 293.5,205.0 292.5,205.0 291.0,204.4 289.0,203.1 286.5,200.5 283.0,198.8 280.9,196.0 278.3,194.5 277.3,193.5 276.5,191.8 275.5,188.5 275.3,187.5 275.4,186.0 277.1,180.0 278.0,178.4 279.6,176.0 281.0,174.6 283.0,174.3 285.5,173.3 291.0,170.7 295.6,168.0 297.0,167.5 301.5,166.4 305.1,164.5 308.0,163.5 311.0,163.2 314.5,163.5 319.5,165.3 323.4,166.0 325.0,166.5 327.0,167.4 330.0,170.3 331.7,172.5 333.5,176.0 334.5,179.5 334.5,181.0 334.1,181.5 334.4,185.5 334.1,186.5 333.5,187.4 332.7,190.5 332.7,193.5 331.3,194.5 329.2,196.5 327.0,201.5 323.9,204.5 323.3,205.5 322.8,207.0 322.3,210.0 322.4,212.0 325.0,216.9 326.1,220.0 326.3,222.0 326.3,225.5 326.0,226.6 324.9,228.5 323.2,230.5 322.0,231.6 317.5,234.6 315.2,235.5 310.5,236.5 304.5,236.5 301.5,237.1 296.0,238.7 291.8,240.5 285.0,242.0 280.0,242.2 276.5,242.9 275.0,242.4 273.5,242.4 270.0,243.6Z" fill="#0085fe" fill-rule="evenodd"/>
<path d="M270.0,243.1 269.0,243.3 266.9,242.5 262.9,239.5 260.8,236.0 260.1,234.5 259.7,233.0 259.3,230.0 259.2,227.0 259.4,225.0 259.8,223.5 260.1,219.5 260.8,218.0 264.0,212.8 266.5,210.0 268.0,208.9 270.0,208.1 272.5,207.9 274.5,208.4 277.0,210.2 279.5,211.0 281.5,212.2 284.0,213.2 287.0,215.2 288.5,215.7 290.0,215.7 291.0,215.4 292.0,214.6 294.1,212.0 296.0,209.0 297.0,208.1 299.0,206.8 299.7,206.0 300.0,205.0 299.7,204.0 299.0,203.4 298.0,203.2 293.5,203.0 290.0,201.4 287.0,199.0 284.0,197.7 281.7,195.0 278.9,193.5 277.9,192.5 277.1,191.0 276.2,188.5 276.0,187.5 276.1,186.5 278.0,180.2 279.0,178.5 280.5,176.5 281.0,176.0 291.0,171.2 295.5,168.6 297.5,167.8 301.5,166.9 305.5,164.8 308.0,164.0 311.0,163.8 313.0,164.0 314.9,164.5 319.5,166.1 325.0,167.7 326.5,168.5 328.5,169.9 329.5,170.8 331.5,173.1 333.2,176.5 334.0,179.5 334.1,180.5 333.7,181.5 333.9,184.0 333.7,184.5 333.6,186.5 333.2,187.0 332.8,188.5 332.3,190.5 331.9,193.0 328.6,196.0 328.0,197.0 327.0,200.0 326.4,201.0 325.5,201.8 322.5,203.5 320.9,205.0 320.4,206.0 320.4,207.5 320.9,212.0 321.3,213.0 323.2,215.5 324.0,217.0 324.8,219.5 325.5,223.5 325.5,226.0 324.3,228.5 322.0,231.0 317.0,234.4 315.2,235.0 310.0,236.0 305.0,235.8 303.5,235.9 300.5,236.6 296.5,237.9 291.5,240.0 287.5,241.1 284.0,241.7 280.0,241.6 277.0,242.2 275.0,241.8 273.5,241.8 271.5,242.4 270.0,243.1Z" fill="#009efe" fill-rule="evenodd"/>
<path d="M270.0,242.6 269.0,242.8 267.0,242.1 263.5,239.5 262.7,238.5 261.3,236.0 260.6,234.5 260.0,232.5 259.6,227.0 260.5,219.7 261.3,218.0 264.7,213.0 267.0,210.5 268.5,209.5 270.5,208.8 272.5,208.8 274.1,209.5 276.4,211.5 279.0,212.3 281.0,213.5 283.5,214.4 286.5,216.4 289.0,216.9 291.0,216.7 292.5,216.0 296.0,212.6 297.5,210.4 300.0,208.7 301.4,206.5 302.0,205.0 301.8,204.0 301.6,203.5 301.0,202.9 300.0,202.3 298.5,202.1 296.0,202.2 294.5,202.0 291.0,200.3 289.8,199.5 288.0,197.7 285.0,196.0 282.5,193.6 279.5,192.2 278.5,191.2 277.0,188.0 277.0,186.0 279.6,180.0 281.3,177.5 284.5,175.0 286.5,173.8 291.5,171.4 296.0,169.0 298.0,168.3 301.5,167.4 306.0,165.1 308.0,164.5 311.5,164.6 318.0,166.5 325.5,169.4 328.5,171.2 330.5,173.0 331.5,174.4 332.5,176.5 333.4,179.5 333.5,180.5 333.2,181.5 333.3,183.5 333.2,186.0 332.6,187.0 331.3,192.0 330.8,193.0 327.8,195.5 327.2,196.5 326.5,199.0 325.6,200.5 324.5,201.1 322.5,201.8 321.2,202.5 318.2,204.5 317.4,205.5 317.6,207.0 319.7,212.5 320.5,213.9 322.2,216.0 323.0,217.5 323.3,219.0 323.5,221.9 324.6,225.0 324.6,226.0 324.3,227.0 323.8,228.0 322.4,230.0 321.5,230.8 317.0,233.7 314.7,234.5 312.5,235.0 310.0,235.3 306.0,234.9 303.5,235.1 300.5,235.7 296.0,237.2 291.5,239.2 287.5,240.5 284.0,241.1 280.5,240.9 277.0,241.4 273.5,241.3 271.5,241.8 270.0,242.6Z" fill="#00b8f9" fill-rule="evenodd"/>
<path d="M270.0,242.0 269.5,242.2 267.5,241.7 264.8,240.0 263.2,238.5 262.0,236.5 261.0,234.1 260.3,230.5 260.1,226.5 261.0,219.7 261.5,218.5 263.0,216.5 265.0,213.8 266.7,212.0 268.0,210.9 269.6,210.0 271.0,209.7 272.5,209.8 273.7,210.5 275.5,212.6 278.6,213.5 282.5,215.5 285.0,217.3 288.5,218.0 291.0,217.9 293.0,217.2 295.0,215.4 298.7,213.0 301.0,211.0 303.2,207.5 304.0,206.9 306.0,206.1 306.6,205.5 306.6,205.0 306.1,204.5 300.5,201.4 299.0,201.0 295.5,201.1 293.5,200.3 290.9,198.5 289.0,195.7 287.0,194.0 285.5,192.3 284.5,191.8 280.5,190.7 279.0,189.5 278.1,188.0 278.0,187.0 278.1,186.0 278.6,185.0 280.2,183.0 281.3,180.0 282.1,178.5 285.2,175.5 288.0,173.6 297.0,169.3 302.0,167.8 306.0,165.7 308.0,165.2 311.5,165.4 314.5,166.6 319.0,167.7 326.0,170.9 330.0,173.7 331.0,174.9 331.8,176.5 332.5,178.5 332.8,180.0 332.6,181.5 332.6,185.5 332.0,187.0 331.0,190.5 330.1,192.5 327.1,195.0 326.5,196.0 325.5,198.7 324.5,199.8 321.0,200.8 317.5,202.7 312.1,203.5 311.2,204.0 310.7,204.5 310.8,205.0 313.0,206.5 314.0,207.5 314.4,208.5 314.8,210.5 315.5,211.0 317.0,211.5 318.0,212.3 321.6,217.0 322.1,218.5 322.5,222.5 323.4,225.0 323.5,226.0 323.3,227.5 322.0,229.5 321.0,230.4 316.5,233.1 314.0,233.9 311.0,234.4 306.0,234.0 303.0,234.3 298.5,235.2 287.0,239.9 284.0,240.2 280.5,239.9 277.0,240.6 273.5,240.7 271.5,241.1 270.0,242.0Z" fill="#00d3f4" fill-rule="evenodd"/>
<path d="M309.0,203.1 308.0,203.2 307.0,202.9 299.5,200.1 296.0,200.0 294.4,199.5 292.0,197.8 290.0,194.5 287.0,191.3 286.0,190.6 282.7,189.5 280.7,188.5 280.0,187.8 279.7,187.0 280.0,186.2 281.0,185.4 281.6,184.5 282.6,180.5 283.2,179.0 284.4,177.5 287.0,175.0 288.7,174.0 297.5,169.9 302.0,168.4 306.5,166.1 308.5,165.8 311.0,166.1 314.5,167.5 318.5,168.3 325.0,171.5 327.5,173.8 329.0,174.4 330.0,175.0 331.2,177.0 331.9,179.0 332.1,180.0 331.8,182.0 331.7,185.5 331.2,187.0 330.3,190.5 329.1,192.5 326.5,194.5 324.5,198.1 323.5,198.7 321.0,198.9 320.0,199.2 317.0,201.1 316.0,201.1 314.5,200.8 313.5,201.0 309.0,203.1ZM270.0,241.2 269.0,241.3 267.5,241.0 265.0,239.5 263.5,238.0 262.3,236.0 261.5,233.8 260.9,230.5 260.6,227.0 261.5,220.0 262.0,218.8 263.5,216.9 266.5,213.7 268.4,212.0 270.0,211.0 271.5,210.8 272.4,211.0 273.0,211.5 274.2,213.5 274.7,214.0 275.5,214.3 277.5,214.4 279.0,215.0 281.6,217.0 282.5,218.8 283.0,219.3 286.0,218.8 290.5,219.3 293.0,218.5 295.5,216.6 297.0,215.9 298.5,215.7 301.0,216.3 302.1,216.0 303.3,215.0 304.1,214.0 304.5,213.0 305.0,210.0 305.5,209.0 306.8,208.0 308.0,207.4 309.0,207.0 310.0,207.0 311.5,207.4 312.5,208.5 312.8,209.5 312.8,211.0 313.2,212.0 314.0,212.4 316.0,212.7 317.0,213.1 319.9,216.0 320.9,217.5 321.4,219.0 321.8,223.0 322.6,226.0 322.4,227.5 321.9,228.5 321.0,229.6 315.6,232.5 314.0,233.0 312.0,233.3 306.0,233.1 300.5,233.4 299.2,233.0 298.0,231.2 297.5,231.0 296.9,231.5 295.9,234.5 295.0,235.3 293.0,236.3 289.5,237.4 287.9,238.5 287.0,238.9 285.0,238.9 284.1,238.5 283.0,237.7 282.5,237.6 277.5,239.6 272.0,240.3 270.0,241.2Z" fill="#02e9e9" fill-rule="evenodd"/>
<path d="M309.5,201.7 308.0,201.9 303.5,200.8 299.5,199.2 296.0,198.8 293.5,197.6 292.3,196.5 290.5,193.2 288.5,190.6 287.5,189.9 285.0,188.8 284.1,188.0 283.7,187.0 283.3,184.5 283.5,182.5 284.3,179.5 285.2,178.0 287.5,175.5 289.0,174.6 293.5,172.3 298.5,170.2 302.5,168.8 306.5,166.9 308.0,166.5 310.5,166.8 314.5,168.2 318.0,168.9 323.5,171.5 324.9,172.5 327.0,174.8 329.5,176.0 330.5,177.5 331.1,179.5 330.5,183.0 330.6,185.5 330.0,189.0 329.6,190.5 328.5,192.1 325.8,194.0 324.0,196.8 323.0,197.4 320.0,197.8 317.0,199.0 315.0,198.8 314.0,198.9 312.7,199.5 309.5,201.7ZM270.5,240.0 269.0,240.3 267.5,240.0 265.4,239.0 263.8,237.5 262.9,236.0 262.2,234.0 261.4,230.0 261.1,227.5 261.2,225.5 261.8,223.0 262.1,220.5 262.6,219.0 264.0,217.5 267.0,214.9 269.5,213.3 271.0,212.9 271.5,213.1 273.0,214.9 274.0,215.5 275.5,215.9 277.5,215.8 278.9,216.5 279.9,217.5 281.3,220.5 282.5,222.0 283.0,222.2 283.5,222.0 284.9,220.5 285.5,220.2 287.0,220.0 289.4,221.0 291.5,223.1 292.0,222.9 292.2,221.0 292.5,220.5 296.0,217.7 297.5,217.3 300.0,217.6 301.5,217.4 303.4,216.5 307.2,214.0 308.3,213.0 308.5,212.5 308.0,210.8 308.0,209.9 308.3,209.5 308.9,209.0 310.0,208.8 310.5,209.0 311.0,210.0 310.6,212.0 310.8,212.5 312.5,213.3 315.5,213.7 316.5,214.0 319.0,216.2 320.4,218.0 320.8,219.5 321.0,223.0 321.6,226.0 321.5,227.5 321.0,228.3 320.3,229.0 317.5,230.1 315.0,231.4 313.0,231.9 310.5,231.8 305.0,232.4 302.0,232.4 300.5,231.7 299.3,230.0 298.5,229.3 298.0,229.1 297.0,229.1 296.2,229.5 295.8,230.0 294.9,233.0 294.3,234.0 293.5,234.7 292.5,235.2 291.5,235.5 286.5,236.1 284.5,235.0 283.0,235.1 281.0,235.8 278.7,238.0 277.0,238.9 275.0,239.5 271.5,239.7 270.5,240.0Z" fill="#0fedc2" fill-rule="evenodd"/>
<path d="M309.0,200.6 307.5,200.7 303.5,200.1 302.0,199.6 299.0,198.1 296.0,197.4 293.9,196.5 293.0,195.7 292.5,195.0 291.0,192.0 289.0,188.9 288.0,188.0 286.4,187.5 285.5,186.7 284.9,185.5 284.5,184.0 284.6,183.0 285.6,179.5 287.3,177.0 288.9,175.5 293.5,173.0 296.3,172.0 299.0,170.7 302.0,169.7 306.5,167.6 308.5,167.2 310.5,167.6 314.5,169.0 318.0,169.7 323.0,172.0 324.5,173.1 327.0,175.9 329.0,177.3 329.5,178.0 329.8,179.5 329.0,182.0 329.5,185.5 329.4,188.5 329.0,190.1 328.1,191.5 325.1,193.5 323.0,196.0 317.5,197.6 314.0,198.0 309.0,200.6ZM274.0,239.0 271.5,238.9 268.5,239.2 266.0,238.6 265.0,238.0 264.0,236.8 263.3,235.5 262.9,234.0 261.9,229.5 261.6,227.0 261.7,225.5 262.5,223.0 263.0,220.0 263.5,219.0 264.5,218.1 268.5,215.7 269.5,215.4 271.0,215.6 278.0,218.3 280.0,220.3 282.0,223.5 283.0,224.2 283.5,224.3 284.3,224.0 286.0,221.7 287.0,221.5 288.0,222.0 290.4,224.5 292.0,225.2 292.8,225.0 293.3,224.5 293.7,223.5 294.0,221.0 294.6,220.0 296.0,218.9 297.0,218.5 300.0,218.5 302.0,218.0 308.5,214.8 310.0,214.3 314.0,214.4 316.0,214.8 318.5,216.6 319.3,217.5 319.9,218.5 320.4,220.5 320.6,226.0 320.4,227.0 319.5,228.1 315.0,229.9 314.0,230.0 311.5,229.9 307.5,231.4 304.5,231.7 302.7,231.5 301.6,231.0 299.5,228.8 298.5,228.1 297.5,227.9 296.0,228.1 295.0,228.5 294.6,229.0 294.1,231.5 293.7,232.5 293.0,233.5 292.2,234.0 290.5,234.5 288.5,234.4 287.5,234.2 285.5,233.3 284.0,233.4 279.7,235.0 278.5,235.9 276.8,238.0 275.5,238.7 274.0,239.0Z" fill="#1cf19c" fill-rule="evenodd"/>
<path d="M308.0,199.5 305.5,199.7 303.0,199.4 301.5,198.7 298.5,196.7 295.0,195.7 294.0,195.1 293.1,194.0 289.5,186.9 288.5,185.8 286.5,184.8 286.1,183.5 287.0,179.9 288.7,177.0 289.7,176.0 294.0,173.4 301.5,170.8 307.0,168.2 308.5,168.0 310.5,168.4 314.0,169.6 318.0,170.4 321.7,172.0 324.0,173.6 325.6,175.5 327.3,178.0 327.5,180.0 328.2,183.0 328.8,187.5 328.5,189.5 327.5,191.0 324.5,192.8 322.0,195.2 317.5,196.7 314.0,197.3 308.0,199.5ZM305.5,231.0 304.0,231.0 302.5,230.4 299.5,227.7 298.5,227.1 296.0,226.7 295.0,226.3 294.6,225.5 294.8,222.5 294.9,221.5 295.5,220.5 297.0,219.5 300.0,219.2 302.0,218.7 309.5,215.5 311.0,215.1 313.5,215.1 315.5,215.4 317.0,216.2 318.5,217.4 319.5,218.8 319.9,220.5 319.4,225.0 318.8,226.5 317.5,227.5 315.5,228.5 314.5,228.7 312.5,228.4 311.3,228.5 307.5,230.5 305.5,231.0ZM275.0,238.1 273.5,238.4 271.5,238.0 268.0,238.3 266.5,238.0 264.9,237.0 263.8,235.0 262.4,229.0 262.1,227.0 262.3,225.5 263.3,223.0 263.7,220.5 264.2,219.5 265.0,218.8 269.0,216.9 271.0,216.8 273.0,217.3 275.0,218.2 278.5,220.3 280.0,221.7 281.5,224.8 282.5,225.5 283.5,225.7 284.5,225.6 287.0,224.4 287.5,224.3 288.5,224.7 290.6,226.0 291.7,227.0 292.6,229.0 292.8,230.5 292.6,231.5 292.0,232.4 291.0,233.0 290.0,233.3 288.5,233.3 287.5,233.0 285.5,231.9 284.5,231.8 284.0,232.0 282.0,233.0 278.2,234.5 277.5,235.2 276.0,237.5 275.0,238.1Z" fill="#28f576" fill-rule="evenodd"/>
<path d="M305.0,199.0 303.5,198.9 302.0,198.3 298.0,194.9 294.8,193.5 291.5,189.1 289.0,184.0 288.7,183.0 289.2,182.0 290.6,181.0 291.4,180.0 291.4,179.5 290.4,178.0 290.3,177.5 290.8,176.5 292.5,175.0 294.0,174.1 299.5,172.4 302.0,172.0 304.9,170.0 307.0,169.1 308.0,168.9 309.5,168.9 313.5,170.1 317.5,170.9 320.5,172.1 322.5,173.2 324.1,174.5 325.5,176.5 326.1,178.0 326.5,180.0 327.3,182.0 327.8,184.0 328.1,187.0 327.9,188.5 327.5,189.6 326.5,190.7 324.0,192.1 322.0,194.0 320.2,195.0 317.5,196.0 314.5,196.6 311.5,197.7 308.5,197.9 306.5,198.8 305.0,199.0ZM306.5,230.1 305.0,230.3 303.4,230.0 302.0,229.0 299.0,226.2 296.5,225.3 295.9,224.5 295.7,223.0 295.9,222.0 296.5,221.0 297.5,220.4 300.5,219.7 308.5,217.1 311.0,216.0 312.0,215.8 314.0,215.8 315.5,216.2 317.0,217.0 318.3,218.0 319.2,219.5 319.4,221.5 318.7,224.0 317.5,226.1 316.4,227.0 315.0,227.6 312.0,227.5 310.5,227.8 306.5,230.1ZM274.0,237.5 271.5,237.2 268.0,237.6 266.5,237.3 265.5,236.6 265.0,236.0 264.2,234.0 262.7,228.0 262.7,226.5 262.8,225.5 264.1,223.0 264.5,221.0 264.9,220.0 266.1,219.0 269.0,217.8 271.0,217.6 273.5,218.2 275.0,219.0 278.5,221.3 279.6,222.5 280.5,225.2 281.0,226.0 282.5,227.1 283.5,227.5 284.0,227.4 286.5,226.3 288.0,226.1 289.0,226.4 289.8,227.0 290.5,228.5 290.7,230.5 290.0,231.5 289.0,231.9 288.0,231.8 285.0,230.2 284.0,229.9 283.5,230.1 282.2,231.5 281.5,232.0 279.0,232.9 277.5,233.8 276.5,234.9 275.1,237.0 274.0,237.5Z" fill="#2ff35d" fill-rule="evenodd"/>
<path d="M306.0,198.0 305.0,198.3 304.0,198.4 303.0,198.1 302.0,197.6 296.9,192.5 295.4,190.5 293.0,189.3 292.0,188.3 290.7,185.5 290.3,183.5 290.7,182.5 292.1,181.0 292.6,180.0 292.7,179.0 292.2,177.5 292.3,176.5 293.8,175.0 295.5,174.2 299.5,173.4 302.0,173.6 303.2,173.5 303.9,173.0 304.7,171.5 305.1,171.0 306.5,170.2 308.0,169.8 309.5,169.9 313.5,170.9 317.0,171.4 320.0,172.6 322.0,173.7 323.7,175.0 324.8,176.5 325.7,179.5 327.0,182.5 327.2,184.0 327.4,187.0 327.2,188.0 326.8,189.0 326.0,189.8 324.0,191.1 321.5,193.3 319.0,194.7 317.5,195.2 314.5,196.0 311.5,197.1 308.0,196.8 306.0,198.0ZM306.5,229.1 305.5,229.5 304.5,229.4 303.0,228.7 299.5,225.2 297.5,223.7 297.2,223.0 297.5,222.0 298.2,221.5 301.5,220.0 306.0,218.7 309.0,218.1 311.0,217.0 312.5,216.5 314.0,216.5 315.0,216.7 316.5,217.3 318.1,218.5 318.8,220.0 318.8,221.5 318.0,223.7 316.5,225.7 315.5,226.5 314.5,226.8 312.0,226.7 310.5,226.9 306.5,229.1ZM271.0,236.6 269.0,236.9 267.5,236.8 266.5,236.4 265.5,235.5 264.9,234.5 264.3,232.5 263.2,227.0 263.4,225.5 264.7,223.0 265.4,221.0 266.0,220.0 268.0,218.9 270.5,218.3 272.5,218.5 274.0,219.0 275.5,220.0 278.5,222.4 279.1,223.5 279.5,226.2 280.2,228.5 280.0,229.1 279.0,229.9 277.7,232.0 274.5,236.1 273.5,236.5 271.0,236.6ZM288.0,229.8 287.0,229.6 286.6,229.0 286.5,228.5 287.0,228.0 288.0,228.0 288.5,228.5 288.5,229.1 288.0,229.8Z" fill="#35f243" fill-rule="evenodd"/>
<path d="M305.0,197.6 303.5,197.6 302.0,196.8 298.2,192.5 296.1,189.5 295.5,189.1 293.0,188.0 292.0,186.8 291.3,185.0 291.2,184.0 291.6,183.0 293.0,181.1 293.5,180.0 293.6,179.0 293.4,177.0 293.8,176.0 295.2,175.0 297.5,174.4 299.5,174.2 302.5,174.5 304.0,174.2 304.9,173.5 306.2,171.5 307.0,171.0 308.5,170.7 317.0,172.1 320.2,173.5 323.0,175.3 323.7,176.0 324.3,177.0 325.0,179.5 326.6,183.0 326.8,184.5 326.7,186.5 326.5,187.6 326.0,188.5 324.0,190.1 321.5,192.4 318.5,194.1 314.5,195.3 311.5,196.5 310.5,196.4 308.5,195.9 307.5,196.0 305.0,197.6ZM306.5,228.0 305.5,228.4 304.5,228.3 303.5,227.8 302.0,226.5 299.8,223.5 299.7,222.5 300.3,221.5 301.5,220.6 303.0,220.1 306.0,219.5 309.0,219.2 311.5,217.7 313.0,217.2 314.0,217.1 315.5,217.5 317.0,218.3 317.8,219.0 318.3,220.0 318.3,221.5 317.5,223.2 316.0,225.0 314.5,225.8 310.5,226.0 306.5,228.0ZM270.5,236.0 269.0,236.3 268.0,236.3 267.0,235.9 265.9,235.0 265.3,234.0 264.6,232.0 263.7,227.0 264.0,225.5 266.6,220.5 268.5,219.3 271.0,218.9 273.5,219.4 275.3,220.5 277.9,223.0 278.2,224.0 278.3,225.0 278.0,227.0 277.1,230.5 276.7,231.5 275.9,233.0 274.0,235.1 273.0,235.5 270.5,236.0Z" fill="#3cf02a" fill-rule="evenodd"/>
<path d="M305.0,196.6 304.0,196.9 303.5,196.9 302.0,196.0 299.5,193.0 297.0,189.2 296.0,188.4 293.5,187.2 292.5,186.0 292.2,185.0 292.2,184.0 294.0,180.5 294.4,177.0 295.0,176.0 296.0,175.4 298.0,175.0 299.5,174.9 302.5,175.1 304.0,174.9 305.5,174.0 307.2,172.0 308.0,171.6 309.0,171.5 316.5,172.6 320.0,174.3 322.7,176.0 323.5,177.0 324.3,179.5 326.1,183.0 326.2,184.5 326.1,186.0 325.8,187.0 325.2,188.0 321.5,191.5 319.0,192.8 314.5,194.4 312.0,195.6 311.0,195.7 309.0,195.1 308.0,195.0 307.0,195.2 305.0,196.6ZM306.0,227.1 305.0,227.2 304.0,226.8 303.0,226.1 302.0,225.0 301.3,224.0 301.0,223.0 301.1,222.0 301.5,221.5 302.5,220.9 304.0,220.5 309.0,220.3 310.0,219.8 312.0,218.3 313.5,217.8 314.5,217.9 316.0,218.4 317.5,219.5 317.8,220.5 317.5,221.9 316.5,223.3 315.5,224.2 314.0,224.8 311.5,224.7 310.5,224.9 307.5,226.6 306.0,227.1ZM270.0,235.6 268.5,235.8 267.5,235.5 266.5,234.8 265.8,234.0 265.2,232.5 264.8,231.0 264.3,228.0 264.3,226.5 264.6,225.5 266.5,221.8 267.5,220.6 269.5,219.7 272.0,219.6 274.0,220.2 275.1,221.0 276.0,222.0 276.8,223.0 277.2,224.0 277.2,226.0 276.2,230.5 275.0,232.9 274.0,234.0 273.2,234.5 270.0,235.6Z" fill="#66f222" fill-rule="evenodd"/>
<path d="M304.5,195.7 303.5,195.9 303.0,195.8 302.0,195.1 300.3,193.0 297.8,189.0 296.5,187.9 294.0,186.5 293.3,185.5 293.1,184.0 294.5,180.8 295.1,177.5 295.6,176.5 296.5,175.9 298.0,175.5 303.0,175.6 304.5,175.4 305.9,174.5 307.5,172.9 308.5,172.5 309.5,172.4 316.0,173.2 320.5,175.4 322.1,176.5 322.9,177.5 323.9,180.0 325.2,182.0 325.6,183.0 325.7,184.0 325.5,185.5 325.2,186.5 324.5,187.5 321.5,190.6 320.0,191.6 314.0,193.3 311.5,194.5 308.5,194.1 307.0,194.3 304.5,195.7ZM306.5,226.0 305.0,226.0 303.3,225.0 302.3,223.5 302.2,222.5 302.4,222.0 303.5,221.4 305.0,221.2 309.5,221.4 310.5,220.8 312.0,219.4 313.5,218.7 314.5,218.7 315.5,219.0 316.4,219.5 316.9,220.0 317.0,220.5 316.8,221.5 316.0,222.6 315.0,223.3 314.0,223.6 310.5,223.5 307.6,225.5 306.5,226.0ZM270.0,235.1 269.0,235.2 267.8,235.0 266.9,234.5 266.1,233.5 265.2,231.0 264.7,228.0 264.8,226.5 265.3,225.0 266.5,222.9 268.0,221.1 270.0,220.3 272.5,220.3 273.5,220.6 274.5,221.2 275.9,223.0 276.4,225.0 276.2,228.0 275.5,230.5 274.4,232.5 272.6,234.0 270.0,235.1Z" fill="#93f31c" fill-rule="evenodd"/>
<path d="M304.0,194.6 303.0,194.6 302.0,193.9 301.0,192.7 298.6,189.0 297.0,187.4 294.8,186.0 294.1,185.0 294.1,183.5 295.0,181.0 295.7,178.0 296.2,177.0 297.0,176.4 298.5,176.1 303.0,176.2 304.5,175.9 306.0,175.2 308.0,173.5 309.0,173.2 310.0,173.1 315.5,173.8 320.5,176.3 321.5,177.0 322.3,178.0 323.1,180.0 324.8,182.5 325.2,184.0 324.9,185.5 324.3,186.5 321.1,190.0 320.0,190.7 319.0,191.1 313.5,192.0 310.5,192.9 307.0,193.4 304.0,194.6ZM314.5,222.1 313.5,222.2 312.5,221.8 312.2,221.5 312.2,221.0 312.5,220.5 313.5,219.9 315.0,220.0 315.6,220.5 315.6,221.0 315.4,221.5 314.5,222.1ZM270.0,234.6 269.0,234.7 268.0,234.5 267.0,233.9 266.3,233.0 265.5,230.5 265.2,228.0 265.3,226.5 266.4,224.0 268.0,221.9 269.0,221.3 270.0,221.1 272.5,221.0 274.0,221.7 274.7,222.5 275.2,223.5 275.6,226.0 275.5,228.5 274.9,230.5 273.5,232.5 272.0,233.7 270.0,234.6ZM307.0,224.6 306.0,225.0 305.0,224.8 304.1,224.0 303.7,223.0 304.1,222.5 305.0,222.2 306.0,222.1 307.3,222.5 307.8,223.0 307.9,223.5 307.7,224.0 307.0,224.6Z" fill="#c0f515" fill-rule="evenodd"/>
<path d="M304.5,193.1 303.5,193.3 302.5,192.9 299.5,189.0 295.2,185.0 294.9,184.0 295.0,183.0 296.1,178.5 296.7,177.5 297.5,176.9 298.5,176.7 303.0,176.7 304.5,176.5 306.0,175.9 308.5,174.0 310.0,173.7 315.0,174.4 317.5,175.9 320.0,176.9 321.0,177.6 322.6,180.5 324.2,182.5 324.5,184.0 324.3,185.0 323.8,186.0 320.6,189.5 319.5,190.1 318.5,190.4 313.4,191.0 304.5,193.1ZM270.0,234.1 269.0,234.2 268.0,234.0 267.0,233.3 266.5,232.6 266.1,231.5 265.8,230.0 265.6,228.0 265.7,226.5 266.0,225.5 266.9,224.0 268.5,222.4 270.0,221.9 272.5,221.9 273.5,222.5 274.4,224.0 275.0,226.5 274.9,228.5 274.2,230.5 273.2,232.0 271.5,233.4 270.0,234.1Z" fill="#d9ef0e" fill-rule="evenodd"/>
<path d="M307.5,191.5 304.5,191.5 303.0,191.1 300.5,189.0 296.3,185.0 295.8,184.0 295.8,182.5 296.5,179.3 297.2,178.0 298.0,177.5 299.0,177.3 303.0,177.2 305.0,176.9 306.5,176.2 308.5,174.8 309.5,174.4 310.5,174.4 313.5,174.7 315.0,175.2 317.5,176.9 319.5,177.7 320.5,178.5 322.0,181.0 323.5,182.8 323.8,184.0 323.2,185.5 320.5,188.6 319.5,189.3 318.5,189.6 313.0,190.3 307.5,191.5ZM270.0,233.5 268.5,233.6 267.5,233.1 266.9,232.5 266.3,230.5 266.0,227.5 266.5,225.5 267.5,224.0 269.0,222.9 270.5,222.7 272.0,223.0 273.0,223.7 274.1,226.0 274.3,228.0 274.0,229.6 273.0,231.3 271.5,232.8 270.0,233.5Z" fill="#eee706" fill-rule="evenodd"/>
<path d="M308.5,190.5 306.0,190.6 304.5,190.2 302.5,189.4 300.4,188.0 297.6,185.0 296.9,184.0 296.6,182.5 297.0,179.8 297.8,178.5 299.0,178.0 303.0,177.8 305.0,177.5 306.2,177.0 308.5,175.5 309.5,175.1 310.5,175.0 312.5,175.2 314.0,175.6 314.9,176.0 317.0,177.7 319.3,179.0 322.5,183.0 322.8,184.0 322.5,185.0 320.5,187.4 319.2,188.5 318.0,188.9 313.0,189.5 308.5,190.5ZM270.0,233.0 268.5,233.1 267.5,232.5 266.8,231.0 266.4,228.0 266.8,226.0 267.5,224.7 268.5,223.8 270.0,223.5 271.5,223.9 272.5,224.7 273.5,226.5 273.7,228.0 273.4,229.5 272.6,231.0 271.5,232.1 270.0,233.0Z" fill="#ffd900" fill-rule="evenodd"/>
<path d="M309.5,189.6 307.5,189.9 306.0,189.8 303.0,188.7 300.9,187.5 299.6,186.0 297.6,183.0 297.5,181.0 298.0,179.5 299.0,178.9 302.5,178.6 305.0,178.1 306.5,177.5 309.0,176.0 310.0,175.7 311.5,175.8 313.5,176.2 314.5,176.7 316.5,178.5 319.0,180.3 321.3,183.0 321.6,184.0 321.4,185.0 320.0,186.7 318.5,187.9 316.5,188.4 312.5,188.9 309.5,189.6ZM269.5,232.6 268.5,232.5 267.5,231.6 267.0,230.0 266.9,228.0 267.0,226.5 267.5,225.5 268.5,224.5 269.5,224.2 270.9,224.5 272.0,225.4 272.7,226.5 273.0,228.0 272.8,229.5 272.0,230.8 270.8,232.0 269.5,232.6Z" fill="#ffb000" fill-rule="evenodd"/>
<path d="M308.5,189.0 307.0,189.2 305.5,188.9 303.0,187.9 301.5,187.0 300.7,186.0 299.0,182.5 298.7,181.5 299.0,180.5 299.8,180.0 302.0,179.6 305.5,178.6 309.5,176.6 311.0,176.5 313.0,176.9 314.1,177.5 318.8,181.5 320.0,183.0 320.3,184.0 320.1,185.0 319.4,186.0 318.0,187.2 316.0,187.9 312.0,188.3 308.5,189.0ZM270.5,231.5 269.5,231.9 268.5,231.8 267.8,231.0 267.5,230.0 267.3,228.0 267.5,226.7 268.0,225.7 269.0,225.0 270.0,224.9 271.0,225.5 271.8,226.5 272.2,227.5 272.3,228.5 272.1,229.5 271.5,230.5 270.5,231.5Z" fill="#ff8800" fill-rule="evenodd"/>
<path d="M309.5,188.1 308.0,188.4 306.5,188.4 304.9,188.0 302.9,187.0 302.2,186.5 301.5,185.5 301.2,184.0 301.2,182.5 301.5,181.5 302.0,181.0 303.6,180.0 309.0,177.6 310.0,177.3 311.5,177.5 313.0,177.9 314.0,178.5 317.6,181.5 318.8,183.0 319.1,184.0 319.0,184.5 318.1,186.0 316.5,187.1 315.0,187.5 309.5,188.1ZM269.5,231.1 269.0,231.1 268.4,230.5 268.0,229.5 267.9,228.0 268.0,227.0 268.5,226.1 269.5,225.7 270.4,226.0 271.0,226.6 271.5,227.5 271.6,228.5 271.0,230.1 270.5,230.6 269.5,231.1Z" fill="#fa5f03" fill-rule="evenodd"/>
<path d="M308.0,187.6 306.0,187.6 304.0,186.8 303.0,186.0 302.7,185.5 302.4,184.0 302.6,182.5 303.5,181.2 304.4,180.5 308.0,178.7 310.0,178.2 311.5,178.4 313.0,178.9 314.5,179.8 315.9,181.0 317.7,183.0 318.0,184.0 317.7,185.0 316.9,186.0 316.1,186.5 314.5,186.9 310.5,187.2 308.0,187.6ZM270.0,229.8 269.5,229.9 269.0,229.7 268.6,228.5 268.7,227.5 268.9,227.0 269.5,226.8 270.1,227.0 270.6,228.0 270.6,229.0 270.0,229.8Z" fill="#f33507" fill-rule="evenodd"/>
</g>
<path d="M354.6,177.3 A4.5,6.5 0 0 0 354.6,190.3Z" fill="#0030f0"/>
<rect x="242.8" y="144.5" width="111.7" height="111.2" fill="none" stroke="#999" stroke-width="1"/>
<line x1="287.40" y1="144.50" x2="287.40" y2="255.70" stroke="#111" stroke-width="1.2"/>
<line x1="242.80" y1="203.20" x2="354.50" y2="203.20" stroke="#111" stroke-width="1.2"/>
<text x="116.7" y="52.0" font-size="20.5" text-anchor="start">3.5</text>
<text x="218.0" y="52.7" font-size="20.5" text-anchor="end">4</text>
<text x="219.0" y="139.6" font-size="20.5" text-anchor="end">18</text>
<text x="246.5" y="52.0" font-size="20.5" text-anchor="start">21</text>
<text x="351.0" y="52.0" font-size="20.5" text-anchor="end">21.5</text>
<text x="350.5" y="139.6" font-size="20.5" text-anchor="end">8</text>
<text x="117.0" y="164.0" font-size="20.5" text-anchor="start">1</text>
<text x="222.0" y="164.0" font-size="20.5" text-anchor="end">7.5</text>
<text x="220.0" y="251.5" font-size="20.5" text-anchor="end">39</text>
<text x="246.5" y="163.4" font-size="20.5" text-anchor="start">4</text>
<text x="351.0" y="163.4" font-size="20.5" text-anchor="end">57</text>
<text x="350.5" y="251.0" font-size="20.5" text-anchor="end">23</text>
<text x="168.5" y="26.9" font-size="24" text-anchor="middle">Blood</text>
<text x="302.5" y="26.9" font-size="24" text-anchor="middle">Liver</text>
<line x1="84.60" y1="43.00" x2="84.60" y2="188.00" stroke="#000" stroke-width="1.6"/>
<path d="M84.6,35 L89.2,44.5 L80,44.5Z" fill="#000"/>
<line x1="151.50" y1="278.20" x2="340.00" y2="278.20" stroke="#000" stroke-width="1.6"/>
<path d="M349,278.2 L339,273.6 L339,282.8Z" fill="#000"/>
<text x="95.3" y="223.6" font-size="22" text-anchor="middle" transform="rotate(-90 95.3 223.6)">CCR5</text>
<text x="126.0" y="285.8" font-size="21" text-anchor="middle">PD-1</text>
<text x="364.4" y="96.6" font-size="24" text-anchor="start">Healthy</text>
<rect x="457" y="78.5" width="33.5" height="22.5" fill="#fff" stroke="#111" stroke-width="1.5"/>
<text x="364.4" y="205.7" font-size="24" text-anchor="start">Infected</text>
<rect x="456.3" y="185.6" width="35" height="22.8" fill="#fcdcbe" stroke="#111" stroke-width="1.5"/>
<path d="M110.8,48.5h2.5M110.8,42.9h2.5M110.8,38.9h2.5M110.8,35.8h2.5M110.8,80.6h2.5M110.8,75.0h2.5M110.8,71.0h2.5M110.8,67.9h2.5M110.8,65.3h2.5M110.8,63.2h2.5M110.8,61.3h2.5M110.8,59.7h2.5M108.3,58.2h5M108.3,90.3h5M108.3,118.5h5M110.8,104.5h2.5M110.8,111.5h2.5M110.8,125.5h2.5M110.8,132.5h2.5M110.8,139.5h2.5M180.1,142.7v2.5M185.4,142.7v2.5M189.2,142.7v2.5M192.1,142.7v2.5M194.4,142.7v2.5M196.5,142.7v2.5M198.2,142.7v2.5M199.7,142.7v2.5M210.1,142.7v2.5M215.4,142.7v2.5M219.2,142.7v2.5M222.1,142.7v2.5M137.3,142.7v4.5M171.1,142.7v4.5M201.1,142.7v4.5M123.3,142.7v2.5M130.3,142.7v2.5M144.3,142.7v2.5M151.3,142.7v2.5M158.3,142.7v2.5M119.3,142.7v2.5" stroke="#777" stroke-width="0.9" fill="none"/>
<rect x="108.8" y="115.5" width="3" height="6" fill="#222"/>
<rect x="128.3" y="143.0" width="10" height="2.2" fill="#444"/>
<text x="105.3" y="59.7" font-size="4.5" fill="#999" text-anchor="middle" transform="rotate(-90 105.3 58.2)">10<tspan font-size="3" dy="-1.5">4</tspan></text>
<text x="105.3" y="91.8" font-size="4.5" fill="#999" text-anchor="middle" transform="rotate(-90 105.3 90.3)">10<tspan font-size="3" dy="-1.5">3</tspan></text>
<text x="105.3" y="120.0" font-size="4.5" fill="#999" text-anchor="middle" transform="rotate(-90 105.3 118.5)">0</text>
<path d="M240.3,48.5h2.5M240.3,42.9h2.5M240.3,38.9h2.5M240.3,35.8h2.5M240.3,80.6h2.5M240.3,75.0h2.5M240.3,71.0h2.5M240.3,67.9h2.5M240.3,65.3h2.5M240.3,63.2h2.5M240.3,61.3h2.5M240.3,59.7h2.5M237.8,58.2h5M237.8,90.3h5M237.8,118.5h5M240.3,104.5h2.5M240.3,111.5h2.5M240.3,125.5h2.5M240.3,132.5h2.5M240.3,139.5h2.5M309.6,143.0v2.5M314.9,143.0v2.5M318.7,143.0v2.5M321.6,143.0v2.5M323.9,143.0v2.5M326.0,143.0v2.5M327.7,143.0v2.5M329.2,143.0v2.5M339.6,143.0v2.5M344.9,143.0v2.5M348.7,143.0v2.5M351.6,143.0v2.5M266.8,143.0v4.5M300.6,143.0v4.5M330.6,143.0v4.5M252.8,143.0v2.5M259.8,143.0v2.5M273.8,143.0v2.5M280.8,143.0v2.5M287.8,143.0v2.5M248.8,143.0v2.5" stroke="#777" stroke-width="0.9" fill="none"/>
<rect x="238.3" y="115.5" width="3" height="6" fill="#222"/>
<rect x="257.8" y="143.3" width="10" height="2.2" fill="#444"/>
<text x="234.8" y="59.7" font-size="4.5" fill="#999" text-anchor="middle" transform="rotate(-90 234.8 58.2)">10<tspan font-size="3" dy="-1.5">4</tspan></text>
<text x="234.8" y="91.8" font-size="4.5" fill="#999" text-anchor="middle" transform="rotate(-90 234.8 90.3)">10<tspan font-size="3" dy="-1.5">3</tspan></text>
<text x="234.8" y="120.0" font-size="4.5" fill="#999" text-anchor="middle" transform="rotate(-90 234.8 118.5)">0</text>
<path d="M110.8,160.7h2.5M110.8,155.1h2.5M110.8,151.1h2.5M110.8,148.0h2.5M110.8,192.8h2.5M110.8,187.2h2.5M110.8,183.2h2.5M110.8,180.1h2.5M110.8,177.5h2.5M110.8,175.4h2.5M110.8,173.5h2.5M110.8,171.9h2.5M108.3,170.4h5M108.3,202.5h5M108.3,230.7h5M110.8,216.7h2.5M110.8,223.7h2.5M110.8,237.7h2.5M110.8,244.7h2.5M110.8,251.7h2.5M180.1,255.7v2.5M185.4,255.7v2.5M189.2,255.7v2.5M192.1,255.7v2.5M194.4,255.7v2.5M196.5,255.7v2.5M198.2,255.7v2.5M199.7,255.7v2.5M210.1,255.7v2.5M215.4,255.7v2.5M219.2,255.7v2.5M222.1,255.7v2.5M137.3,255.7v4.5M171.1,255.7v4.5M201.1,255.7v4.5M123.3,255.7v2.5M130.3,255.7v2.5M144.3,255.7v2.5M151.3,255.7v2.5M158.3,255.7v2.5M119.3,255.7v2.5" stroke="#777" stroke-width="0.9" fill="none"/>
<rect x="108.8" y="227.7" width="3" height="6" fill="#222"/>
<rect x="128.3" y="256.0" width="10" height="2.2" fill="#444"/>
<text x="105.3" y="171.9" font-size="4.5" fill="#999" text-anchor="middle" transform="rotate(-90 105.3 170.4)">10<tspan font-size="3" dy="-1.5">4</tspan></text>
<text x="105.3" y="204.0" font-size="4.5" fill="#999" text-anchor="middle" transform="rotate(-90 105.3 202.5)">10<tspan font-size="3" dy="-1.5">3</tspan></text>
<text x="105.3" y="232.2" font-size="4.5" fill="#999" text-anchor="middle" transform="rotate(-90 105.3 230.7)">0</text>
<text x="137.3" y="265.7" font-size="4.5" fill="#999" text-anchor="middle">0</text>
<text x="171.1" y="265.7" font-size="4.5" fill="#999" text-anchor="middle">10<tspan font-size="3" dy="-1.5">3</tspan></text>
<text x="201.1" y="265.7" font-size="4.5" fill="#999" text-anchor="middle">10<tspan font-size="3" dy="-1.5">4</tspan></text>
<path d="M240.3,160.7h2.5M240.3,155.1h2.5M240.3,151.1h2.5M240.3,148.0h2.5M240.3,192.8h2.5M240.3,187.2h2.5M240.3,183.2h2.5M240.3,180.1h2.5M240.3,177.5h2.5M240.3,175.4h2.5M240.3,173.5h2.5M240.3,171.9h2.5M237.8,170.4h5M237.8,202.5h5M237.8,230.7h5M240.3,216.7h2.5M240.3,223.7h2.5M240.3,237.7h2.5M240.3,244.7h2.5M240.3,251.7h2.5M309.6,255.7v2.5M314.9,255.7v2.5M318.7,255.7v2.5M321.6,255.7v2.5M323.9,255.7v2.5M326.0,255.7v2.5M327.7,255.7v2.5M329.2,255.7v2.5M339.6,255.7v2.5M344.9,255.7v2.5M348.7,255.7v2.5M351.6,255.7v2.5M266.8,255.7v4.5M300.6,255.7v4.5M330.6,255.7v4.5M252.8,255.7v2.5M259.8,255.7v2.5M273.8,255.7v2.5M280.8,255.7v2.5M287.8,255.7v2.5M248.8,255.7v2.5" stroke="#777" stroke-width="0.9" fill="none"/>
<rect x="238.3" y="227.7" width="3" height="6" fill="#222"/>
<rect x="257.8" y="256.0" width="10" height="2.2" fill="#444"/>
<text x="234.8" y="171.9" font-size="4.5" fill="#999" text-anchor="middle" transform="rotate(-90 234.8 170.4)">10<tspan font-size="3" dy="-1.5">4</tspan></text>
<text x="234.8" y="204.0" font-size="4.5" fill="#999" text-anchor="middle" transform="rotate(-90 234.8 202.5)">10<tspan font-size="3" dy="-1.5">3</tspan></text>
<text x="234.8" y="232.2" font-size="4.5" fill="#999" text-anchor="middle" transform="rotate(-90 234.8 230.7)">0</text>
<text x="266.8" y="265.7" font-size="4.5" fill="#999" text-anchor="middle">0</text>
<text x="300.6" y="265.7" font-size="4.5" fill="#999" text-anchor="middle">10<tspan font-size="3" dy="-1.5">3</tspan></text>
<text x="330.6" y="265.7" font-size="4.5" fill="#999" text-anchor="middle">10<tspan font-size="3" dy="-1.5">4</tspan></text>
<path d="M221,255.5 L225,250.5 L225,255.5Z" fill="#2040f0"/>
</svg>
</body></html>
